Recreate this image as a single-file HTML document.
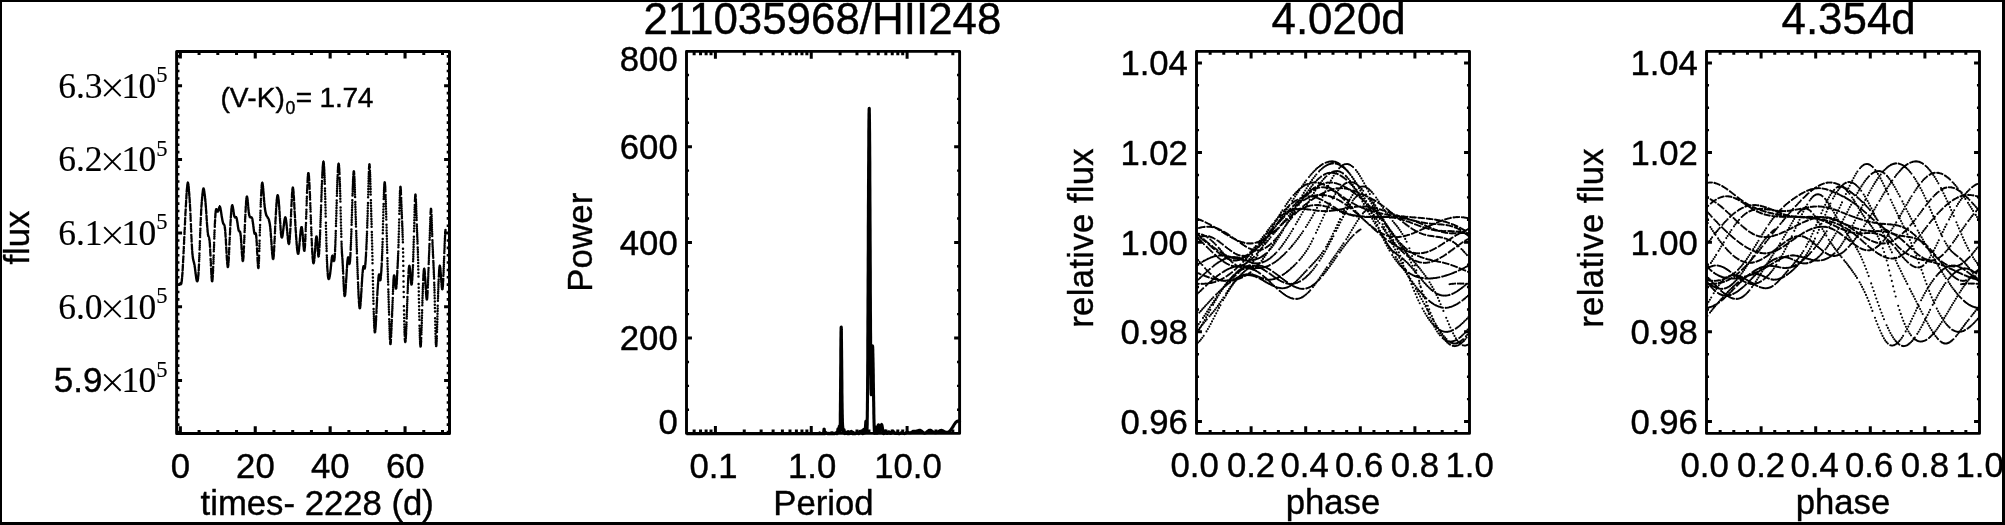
<!DOCTYPE html>
<html><head><meta charset="utf-8"><title>fig</title><style>html,body{margin:0;padding:0;background:#fff}text{stroke:#000;stroke-width:0.4px}.sf text{stroke-width:0.15px}svg{display:block;will-change:transform}</style></head><body>
<svg width="2005" height="525" viewBox="0 0 2005 525">
<rect x="0" y="0" width="2005" height="525" fill="#fff"/>
<rect x="0" y="0" width="2005" height="2" fill="#000"/>
<rect x="0" y="0" width="2" height="525" fill="#000"/>
<rect x="2002" y="0" width="3" height="525" fill="#000"/>
<rect x="0" y="522" width="2005" height="3" fill="#000"/>
<rect x="176.65" y="51.40" width="272.85" height="382.00" fill="none" stroke="#000" stroke-width="3.00" stroke-linejoin="round"/>
<path d="M180.35 51.40v7.20M180.35 433.40v-7.20M255.25 51.40v7.20M255.25 433.40v-7.20M330.15 51.40v7.20M330.15 433.40v-7.20M405.05 51.40v7.20M405.05 433.40v-7.20" stroke="#000" stroke-width="3.10" fill="none"/>
<path d="M199.07 51.40v3.50M199.07 433.40v-3.50M217.80 51.40v3.50M217.80 433.40v-3.50M236.53 51.40v3.50M236.53 433.40v-3.50M273.98 51.40v3.50M273.98 433.40v-3.50M292.70 51.40v3.50M292.70 433.40v-3.50M311.43 51.40v3.50M311.43 433.40v-3.50M348.88 51.40v3.50M348.88 433.40v-3.50M367.60 51.40v3.50M367.60 433.40v-3.50M386.32 51.40v3.50M386.32 433.40v-3.50M423.77 51.40v3.50M423.77 433.40v-3.50M442.50 51.40v3.50M442.50 433.40v-3.50" stroke="#000" stroke-width="3.00" fill="none"/>
<path d="M176.65 85.80h5.40M449.50 85.80h-5.40M176.65 159.45h5.40M449.50 159.45h-5.40M176.65 233.10h5.40M449.50 233.10h-5.40M176.65 306.75h5.40M449.50 306.75h-5.40M176.65 380.40h5.40M449.50 380.40h-5.40" stroke="#000" stroke-width="3.00" fill="none"/>
<path d="M176.65 56.34h2.80M449.50 56.34h-2.80M176.65 63.70h2.80M449.50 63.70h-2.80M176.65 71.07h2.80M449.50 71.07h-2.80M176.65 78.44h2.80M449.50 78.44h-2.80M176.65 93.16h2.80M449.50 93.16h-2.80M176.65 100.53h2.80M449.50 100.53h-2.80M176.65 107.89h2.80M449.50 107.89h-2.80M176.65 115.26h2.80M449.50 115.26h-2.80M176.65 122.62h2.80M449.50 122.62h-2.80M176.65 129.99h2.80M449.50 129.99h-2.80M176.65 137.36h2.80M449.50 137.36h-2.80M176.65 144.72h2.80M449.50 144.72h-2.80M176.65 152.08h2.80M449.50 152.08h-2.80M176.65 166.81h2.80M449.50 166.81h-2.80M176.65 174.18h2.80M449.50 174.18h-2.80M176.65 181.55h2.80M449.50 181.55h-2.80M176.65 188.91h2.80M449.50 188.91h-2.80M176.65 196.27h2.80M449.50 196.27h-2.80M176.65 203.64h2.80M449.50 203.64h-2.80M176.65 211.00h2.80M449.50 211.00h-2.80M176.65 218.37h2.80M449.50 218.37h-2.80M176.65 225.74h2.80M449.50 225.74h-2.80M176.65 240.47h2.80M449.50 240.47h-2.80M176.65 247.83h2.80M449.50 247.83h-2.80M176.65 255.19h2.80M449.50 255.19h-2.80M176.65 262.56h2.80M449.50 262.56h-2.80M176.65 269.93h2.80M449.50 269.93h-2.80M176.65 277.29h2.80M449.50 277.29h-2.80M176.65 284.66h2.80M449.50 284.66h-2.80M176.65 292.02h2.80M449.50 292.02h-2.80M176.65 299.39h2.80M449.50 299.39h-2.80M176.65 314.12h2.80M449.50 314.12h-2.80M176.65 321.48h2.80M449.50 321.48h-2.80M176.65 328.85h2.80M449.50 328.85h-2.80M176.65 336.21h2.80M449.50 336.21h-2.80M176.65 343.57h2.80M449.50 343.57h-2.80M176.65 350.94h2.80M449.50 350.94h-2.80M176.65 358.31h2.80M449.50 358.31h-2.80M176.65 365.67h2.80M449.50 365.67h-2.80M176.65 373.04h2.80M449.50 373.04h-2.80M176.65 387.77h2.80M449.50 387.77h-2.80M176.65 395.13h2.80M449.50 395.13h-2.80M176.65 402.50h2.80M449.50 402.50h-2.80M176.65 409.86h2.80M449.50 409.86h-2.80M176.65 417.23h2.80M449.50 417.23h-2.80M176.65 424.59h2.80M449.50 424.59h-2.80M176.65 431.96h2.80M449.50 431.96h-2.80" stroke="#000" stroke-width="2.60" fill="none"/>
<g class="sf" font-family='"Liberation Serif", serif' font-size="35.5"><text x="58.2" y="97.55">6.3</text><text x="121.4" y="97.55">1</text><text x="138.6" y="97.55">0</text><text x="156.2" y="82.15" font-size="22.5">5</text></g>
<path d="M104.2 79.75L120.6 96.15M104.2 96.15L120.6 79.75" stroke="#000" stroke-width="1.9" fill="none"/>
<g class="sf" font-family='"Liberation Serif", serif' font-size="35.5"><text x="58.2" y="171.20">6.2</text><text x="121.4" y="171.20">1</text><text x="138.6" y="171.20">0</text><text x="156.2" y="155.80" font-size="22.5">5</text></g>
<path d="M104.2 153.40L120.6 169.80M104.2 169.80L120.6 153.40" stroke="#000" stroke-width="1.9" fill="none"/>
<g class="sf" font-family='"Liberation Serif", serif' font-size="35.5"><text x="58.2" y="244.85">6.1</text><text x="121.4" y="244.85">1</text><text x="138.6" y="244.85">0</text><text x="156.2" y="229.45" font-size="22.5">5</text></g>
<path d="M104.2 227.05L120.6 243.45M104.2 243.45L120.6 227.05" stroke="#000" stroke-width="1.9" fill="none"/>
<g class="sf" font-family='"Liberation Serif", serif' font-size="35.5"><text x="58.2" y="318.50">6.0</text><text x="121.4" y="318.50">1</text><text x="138.6" y="318.50">0</text><text x="156.2" y="303.10" font-size="22.5">5</text></g>
<path d="M104.2 300.70L120.6 317.10M104.2 317.10L120.6 300.70" stroke="#000" stroke-width="1.9" fill="none"/>
<g class="sf" font-family='"Liberation Serif", serif' font-size="35.5"><text x="102.4" y="392.45" text-anchor="end" font-family='"Liberation Sans", sans-serif' font-size="35.0" style="stroke-width:0.4px">5.9</text><text x="121.4" y="392.15">1</text><text x="138.6" y="392.15">0</text><text x="156.2" y="376.75" font-size="22.5">5</text></g>
<path d="M104.2 374.35L120.6 390.75M104.2 390.75L120.6 374.35" stroke="#000" stroke-width="1.9" fill="none"/>
<text x="180.50" y="478.00" font-family='"Liberation Sans", sans-serif' font-size="34.70" text-anchor="middle" >0</text>
<text x="255.40" y="478.00" font-family='"Liberation Sans", sans-serif' font-size="34.70" text-anchor="middle" >20</text>
<text x="330.30" y="478.00" font-family='"Liberation Sans", sans-serif' font-size="34.70" text-anchor="middle" >40</text>
<text x="405.20" y="478.00" font-family='"Liberation Sans", sans-serif' font-size="34.70" text-anchor="middle" >60</text>
<text x="317.20" y="515.30" font-family='"Liberation Sans", sans-serif' font-size="34.70" text-anchor="middle" >times- 2228 (d)</text>
<text transform="translate(28.60 237.60) rotate(-90)" font-family='"Liberation Sans", sans-serif' font-size="34.70" text-anchor="middle" letter-spacing="0.00">flux</text>
<text x="220.4" y="106.8" font-family='"Liberation Sans", sans-serif' font-size="28.1" letter-spacing="0.12">(V-K)<tspan dy="7.3" dx="0.6" font-size="17.6">0</tspan><tspan dy="-7.3" dx="0.3" letter-spacing="-0.25">= 1.74</tspan></text>
<path d="M179.4 284.7h0M179.5 284.5h0M179.6 284.3h0M179.6 284.2h0M179.7 284.1h0M179.9 284.1h0M179.9 284.0h0M180.0 284.1h0M180.1 284.1h0M180.2 284.1h0M180.3 284.2h0M180.4 284.2h0M180.5 284.3h0M180.5 284.3h0M180.6 284.3h0M180.8 284.3h0M180.9 284.3h0M180.9 284.2h0M181.0 284.1h0M181.1 284.0h0M181.2 283.6h0M181.3 283.4h0M181.4 283.1h0M181.5 282.7h0M181.5 282.3h0M181.7 281.3h0M181.8 280.7h0M181.8 280.1h0M181.9 279.3h0M182.0 278.6h0M182.2 276.8h0M182.2 275.8h0M182.3 274.8h0M182.4 273.8h0M182.5 272.7h0M182.6 270.3h0M182.7 269.1h0M182.8 267.8h0M182.8 266.5h0M182.9 265.1h0M183.1 262.3h0M183.1 260.9h0M183.2 259.4h0M183.3 257.9h0M183.4 256.4h0M183.5 253.3h0M183.6 251.8h0M183.7 250.2h0M183.8 248.6h0M183.8 247.0h0M184.0 243.8h0M184.1 242.2h0M184.1 240.6h0M184.2 238.9h0M184.3 237.3h0M184.5 234.1h0M184.5 232.5h0M184.6 230.9h0M184.7 229.3h0M184.8 227.7h0M184.9 224.5h0M185.0 223.0h0M185.1 221.4h0M185.1 219.9h0M185.2 218.3h0M185.4 215.3h0M185.4 213.8h0M185.5 212.3h0M185.6 210.9h0M185.7 209.4h0M185.8 206.6h0M185.9 205.2h0M186.0 203.8h0M186.1 202.5h0M186.1 201.1h0M186.3 198.5h0M186.4 197.3h0M186.4 196.1h0M186.5 194.9h0M186.6 193.7h0M186.7 191.6h0M186.8 190.5h0M186.9 189.6h0M187.0 188.6h0M187.1 187.8h0M187.2 186.3h0M187.3 185.6h0M187.4 185.0h0M187.4 184.5h0M187.5 184.0h0M187.7 183.3h0M187.7 183.1h0M187.8 183.0h0M187.9 183.0h0M188.0 183.1h0M188.1 183.5h0M188.2 183.8h0M188.3 184.2h0M188.4 184.7h0M188.4 185.2h0M188.6 186.5h0M188.7 187.3h0M188.7 188.1h0M188.8 188.9h0M188.9 189.8h0M189.0 191.6h0M189.1 192.6h0M189.2 193.6h0M189.3 194.6h0M189.3 195.7h0M189.5 197.8h0M189.6 198.9h0M189.7 200.0h0M189.7 201.2h0M189.8 202.4h0M190.0 204.9h0M190.0 206.3h0M190.1 207.7h0M190.2 209.1h0M190.3 210.6h0M190.4 213.8h0M190.5 215.5h0M190.6 217.2h0M190.6 218.9h0M190.7 220.7h0M190.9 224.2h0M191.0 226.1h0M191.0 227.9h0M191.1 229.7h0M191.2 231.4h0M191.3 234.9h0M191.4 236.7h0M191.5 238.3h0M191.6 240.0h0M191.6 241.6h0M191.8 244.6h0M191.9 246.0h0M192.0 247.3h0M192.0 248.5h0M192.1 249.7h0M192.3 251.8h0M192.3 252.7h0M192.4 253.6h0M192.5 254.4h0M192.6 255.1h0M192.7 256.5h0M192.8 257.0h0M192.9 257.6h0M192.9 258.1h0M193.0 258.5h0M193.2 259.4h0M193.3 259.7h0M193.3 260.1h0M193.4 260.4h0M193.5 260.7h0M193.6 261.3h0M193.7 261.6h0M193.8 261.9h0M193.9 262.2h0M193.9 262.5h0M194.1 263.1h0M194.2 263.5h0M194.2 263.8h0M194.3 264.2h0M194.4 264.6h0M194.6 265.6h0M194.6 266.0h0M194.7 266.6h0M194.8 267.1h0M194.9 267.6h0M195.0 268.8h0M195.1 269.3h0M195.2 269.9h0M195.2 270.5h0M195.3 271.1h0M195.5 272.3h0M195.5 272.9h0M195.6 273.5h0M195.7 274.1h0M195.8 274.7h0M195.9 275.8h0M196.0 276.3h0M196.1 276.9h0M196.2 277.4h0M196.2 277.9h0M196.4 278.8h0M196.5 279.2h0M196.5 279.5h0M196.6 279.9h0M196.7 280.2h0M196.8 280.7h0M196.9 280.9h0M197.0 281.1h0M197.1 281.2h0M197.2 281.3h0M197.3 281.3h0M197.4 281.2h0M197.5 281.1h0M197.5 280.9h0M197.6 280.7h0M197.8 280.0h0M197.8 279.6h0M197.9 279.1h0M198.0 278.6h0M198.1 277.9h0M198.2 276.5h0M198.3 275.7h0M198.4 274.7h0M198.5 273.8h0M198.5 272.7h0M198.7 270.3h0M198.8 269.0h0M198.8 267.6h0M198.9 266.1h0M199.0 264.5h0M199.1 261.2h0M199.2 259.4h0M199.3 257.5h0M199.4 255.6h0M199.4 253.6h0M199.6 249.6h0M199.7 247.5h0M199.8 245.4h0M199.8 243.3h0M199.9 241.2h0M200.1 237.0h0M200.1 234.9h0M200.2 232.9h0M200.3 230.8h0M200.4 228.8h0M200.5 225.0h0M200.6 223.1h0M200.7 221.3h0M200.8 219.6h0M200.8 217.9h0M201.0 214.8h0M201.1 213.3h0M201.1 211.9h0M201.2 210.5h0M201.3 209.2h0M201.4 206.8h0M201.5 205.6h0M201.6 204.5h0M201.7 203.5h0M201.7 202.4h0M201.9 200.5h0M202.0 199.6h0M202.1 198.7h0M202.1 197.8h0M202.2 197.0h0M202.4 195.4h0M202.4 194.6h0M202.5 193.9h0M202.6 193.2h0M202.7 192.5h0M202.8 191.3h0M202.9 190.8h0M203.0 190.3h0M203.0 189.9h0M203.1 189.5h0M203.3 188.9h0M203.4 188.8h0M203.4 188.7h0M203.5 188.6h0M203.6 188.7h0M203.7 189.0h0M203.8 189.2h0M203.9 189.5h0M204.0 189.8h0M204.0 190.2h0M204.2 191.1h0M204.3 191.6h0M204.3 192.1h0M204.4 192.7h0M204.5 193.2h0M204.7 194.4h0M204.7 195.0h0M204.8 195.7h0M204.9 196.3h0M205.0 197.0h0M205.1 198.4h0M205.2 199.1h0M205.3 199.8h0M205.3 200.6h0M205.4 201.4h0M205.6 203.2h0M205.6 204.1h0M205.7 205.0h0M205.8 206.0h0M205.9 207.0h0M206.0 209.1h0M206.1 210.2h0M206.2 211.3h0M206.3 212.5h0M206.3 213.6h0M206.5 215.9h0M206.6 217.1h0M206.6 218.2h0M206.7 219.4h0M206.8 220.5h0M206.9 222.7h0M207.0 223.8h0M207.1 224.9h0M207.2 225.9h0M207.3 226.9h0M207.4 228.8h0M207.5 229.7h0M207.6 230.6h0M207.6 231.4h0M207.7 232.1h0M207.9 233.5h0M207.9 234.0h0M208.0 234.5h0M208.1 235.0h0M208.2 235.3h0M208.3 236.0h0M208.4 236.2h0M208.5 236.4h0M208.6 236.6h0M208.6 236.8h0M208.8 237.2h0M208.9 237.4h0M208.9 237.6h0M209.0 237.8h0M209.1 238.1h0M209.2 238.8h0M209.3 239.2h0M209.4 239.7h0M209.5 240.2h0M209.6 240.9h0M209.7 242.4h0M209.8 243.3h0M209.9 244.4h0M209.9 245.5h0M210.0 246.7h0M210.2 249.5h0M210.2 250.9h0M210.3 252.4h0M210.4 254.0h0M210.5 255.6h0M210.6 258.9h0M210.7 260.6h0M210.8 262.2h0M210.9 263.9h0M210.9 265.5h0M211.1 268.7h0M211.2 270.2h0M211.2 271.7h0M211.3 273.1h0M211.4 274.4h0M211.5 276.8h0M211.6 277.8h0M211.7 278.7h0M211.8 279.5h0M211.8 280.2h0M212.0 281.1h0M212.1 281.3h0M212.2 281.3h0M212.2 281.2h0M212.3 280.9h0M212.5 279.8h0M212.5 279.0h0M212.6 278.2h0M212.7 277.1h0M212.8 276.0h0M212.9 273.4h0M213.0 271.9h0M213.1 270.4h0M213.1 268.8h0M213.2 267.0h0M213.4 263.4h0M213.5 261.5h0M213.5 259.5h0M213.6 257.5h0M213.7 255.4h0M213.8 251.3h0M213.9 249.2h0M214.0 247.0h0M214.1 244.9h0M214.1 242.8h0M214.3 238.6h0M214.4 236.5h0M214.4 234.4h0M214.5 232.5h0M214.6 230.5h0M214.8 226.8h0M214.8 225.0h0M214.9 223.3h0M215.0 221.7h0M215.1 220.2h0M215.2 217.5h0M215.3 216.2h0M215.4 215.2h0M215.4 214.2h0M215.5 213.3h0M215.7 211.9h0M215.7 211.3h0M215.8 210.8h0M215.9 210.4h0M216.0 210.1h0M216.1 209.6h0M216.2 209.5h0M216.3 209.4h0M216.4 209.4h0M216.4 209.4h0M216.6 209.6h0M216.7 209.7h0M216.7 209.9h0M216.8 210.0h0M216.9 210.2h0M217.1 210.6h0M217.1 210.8h0M217.2 211.0h0M217.3 211.2h0M217.4 211.3h0M217.5 211.5h0M217.6 211.6h0M217.7 211.6h0M217.7 211.6h0M217.8 211.6h0M218.0 211.4h0M218.0 211.2h0M218.1 211.1h0M218.2 210.9h0M218.3 210.7h0M218.4 210.2h0M218.5 210.0h0M218.6 209.7h0M218.7 209.5h0M218.7 209.2h0M218.9 208.7h0M219.0 208.4h0M219.0 208.2h0M219.1 208.0h0M219.2 207.8h0M219.3 207.4h0M219.4 207.2h0M219.5 207.1h0M219.6 207.0h0M219.7 207.0h0M219.8 206.9h0M219.9 207.0h0M220.0 207.1h0M220.0 207.2h0M220.1 207.4h0M220.3 207.8h0M220.3 208.1h0M220.4 208.4h0M220.5 208.8h0M220.6 209.1h0M220.7 209.9h0M220.8 210.3h0M220.9 210.8h0M221.0 211.2h0M221.0 211.7h0M221.2 212.7h0M221.3 213.2h0M221.3 213.7h0M221.4 214.2h0M221.5 214.7h0M221.6 215.7h0M221.7 216.2h0M221.8 216.7h0M221.9 217.2h0M221.9 217.6h0M222.1 218.5h0M222.2 219.0h0M222.3 219.4h0M222.3 219.8h0M222.4 220.2h0M222.6 221.0h0M222.6 221.3h0M222.7 221.6h0M222.8 222.0h0M222.9 222.3h0M223.0 222.8h0M223.1 223.1h0M223.2 223.3h0M223.2 223.5h0M223.3 223.7h0M223.5 224.1h0M223.6 224.2h0M223.6 224.3h0M223.7 224.4h0M223.8 224.5h0M223.9 224.7h0M224.0 224.8h0M224.1 224.9h0M224.2 225.0h0M224.2 225.2h0M224.4 225.6h0M224.5 225.8h0M224.5 226.1h0M224.6 226.5h0M224.7 226.9h0M224.9 227.8h0M224.9 228.4h0M225.0 229.0h0M225.1 229.8h0M225.2 230.6h0M225.3 232.4h0M225.4 233.4h0M225.5 234.5h0M225.5 235.6h0M225.6 236.8h0M225.8 239.3h0M225.9 240.6h0M225.9 241.9h0M226.0 243.3h0M226.1 244.7h0M226.2 247.4h0M226.3 248.8h0M226.4 250.1h0M226.5 251.5h0M226.5 252.8h0M226.7 255.4h0M226.8 256.6h0M226.8 257.8h0M226.9 259.0h0M227.0 260.1h0M227.2 262.1h0M227.2 263.0h0M227.3 263.8h0M227.4 264.5h0M227.5 265.2h0M227.6 266.2h0M227.7 266.6h0M227.8 266.8h0M227.8 266.9h0M227.9 266.9h0M228.1 266.5h0M228.1 266.1h0M228.2 265.6h0M228.3 264.9h0M228.4 264.1h0M228.5 262.2h0M228.6 261.1h0M228.7 259.9h0M228.8 258.6h0M228.8 257.3h0M229.0 254.4h0M229.1 252.8h0M229.1 251.2h0M229.2 249.6h0M229.3 248.0h0M229.4 244.6h0M229.5 242.9h0M229.6 241.2h0M229.7 239.5h0M229.8 237.8h0M229.9 234.5h0M230.0 232.9h0M230.1 231.4h0M230.1 229.8h0M230.2 228.3h0M230.4 225.3h0M230.4 223.9h0M230.5 222.5h0M230.6 221.2h0M230.7 219.9h0M230.8 217.4h0M230.9 216.2h0M231.0 215.1h0M231.1 214.0h0M231.1 213.0h0M231.3 211.2h0M231.4 210.3h0M231.4 209.6h0M231.5 208.8h0M231.6 208.2h0M231.7 207.1h0M231.8 206.7h0M231.9 206.3h0M232.0 206.0h0M232.0 205.8h0M232.2 205.6h0M232.3 205.6h0M232.4 205.6h0M232.4 205.7h0M232.5 205.9h0M232.7 206.4h0M232.7 206.7h0M232.8 207.1h0M232.9 207.5h0M233.0 207.9h0M233.1 208.8h0M233.2 209.3h0M233.3 209.8h0M233.4 210.3h0M233.4 210.8h0M233.6 211.9h0M233.7 212.4h0M233.7 212.9h0M233.8 213.4h0M233.9 213.9h0M234.0 214.8h0M234.1 215.2h0M234.2 215.6h0M234.3 216.0h0M234.3 216.3h0M234.5 216.8h0M234.6 217.0h0M234.7 217.1h0M234.7 217.2h0M234.8 217.3h0M235.0 217.5h0M235.0 217.5h0M235.1 217.5h0M235.2 217.5h0M235.3 217.5h0M235.4 217.5h0M235.5 217.4h0M235.6 217.4h0M235.6 217.4h0M235.7 217.4h0M235.9 217.4h0M236.0 217.4h0M236.0 217.4h0M236.1 217.5h0M236.2 217.5h0M236.3 217.7h0M236.4 217.9h0M236.5 218.1h0M236.6 218.3h0M236.6 218.5h0M236.8 219.1h0M236.9 219.5h0M236.9 219.9h0M237.0 220.3h0M237.1 220.7h0M237.3 221.7h0M237.3 222.1h0M237.4 222.6h0M237.5 223.1h0M237.6 223.7h0M237.7 224.7h0M237.8 225.2h0M237.9 225.7h0M237.9 226.3h0M238.0 226.8h0M238.2 227.7h0M238.2 228.2h0M238.3 228.6h0M238.4 229.0h0M238.5 229.4h0M238.6 230.1h0M238.7 230.4h0M238.8 230.7h0M238.9 230.9h0M238.9 231.1h0M239.1 231.3h0M239.2 231.4h0M239.2 231.5h0M239.3 231.5h0M239.4 231.5h0M239.5 231.6h0M239.6 231.6h0M239.7 231.6h0M239.8 231.7h0M239.9 231.7h0M240.0 232.0h0M240.1 232.1h0M240.2 232.4h0M240.2 232.6h0M240.3 232.9h0M240.5 233.8h0M240.5 234.3h0M240.6 234.9h0M240.7 235.6h0M240.8 236.3h0M240.9 238.1h0M241.0 239.1h0M241.1 240.2h0M241.2 241.3h0M241.2 242.4h0M241.4 244.8h0M241.5 246.0h0M241.5 247.2h0M241.6 248.4h0M241.7 249.6h0M241.8 252.0h0M241.9 253.1h0M242.0 254.2h0M242.1 255.2h0M242.2 256.2h0M242.3 257.9h0M242.4 258.7h0M242.5 259.4h0M242.5 259.9h0M242.6 260.4h0M242.8 260.9h0M242.8 261.0h0M242.9 260.9h0M243.0 260.7h0M243.1 260.4h0M243.2 259.2h0M243.3 258.4h0M243.4 257.5h0M243.5 256.4h0M243.5 255.3h0M243.7 252.7h0M243.8 251.2h0M243.8 249.7h0M243.9 248.1h0M244.0 246.5h0M244.1 243.1h0M244.2 241.3h0M244.3 239.5h0M244.4 237.6h0M244.4 235.8h0M244.6 232.1h0M244.7 230.3h0M244.8 228.5h0M244.8 226.7h0M244.9 224.9h0M245.1 221.4h0M245.1 219.7h0M245.2 218.0h0M245.3 216.4h0M245.4 214.8h0M245.5 211.8h0M245.6 210.3h0M245.7 209.0h0M245.7 207.6h0M245.8 206.3h0M246.0 204.0h0M246.1 202.9h0M246.1 201.9h0M246.2 201.0h0M246.3 200.2h0M246.4 198.7h0M246.5 198.2h0M246.6 197.7h0M246.7 197.3h0M246.7 197.0h0M246.9 196.7h0M247.0 196.7h0M247.0 196.9h0M247.1 197.1h0M247.2 197.4h0M247.4 198.2h0M247.4 198.8h0M247.5 199.4h0M247.6 200.0h0M247.7 200.7h0M247.8 202.3h0M247.9 203.1h0M248.0 203.9h0M248.0 204.8h0M248.1 205.6h0M248.3 207.3h0M248.3 208.1h0M248.4 209.0h0M248.5 209.7h0M248.6 210.5h0M248.7 211.9h0M248.8 212.5h0M248.9 213.1h0M249.0 213.6h0M249.0 214.1h0M249.2 214.9h0M249.3 215.2h0M249.3 215.6h0M249.4 215.8h0M249.5 216.1h0M249.7 216.5h0M249.7 216.7h0M249.8 216.8h0M249.9 216.9h0M250.0 217.0h0M250.1 217.2h0M250.2 217.2h0M250.3 217.3h0M250.3 217.3h0M250.4 217.3h0M250.6 217.3h0M250.6 217.3h0M250.7 217.3h0M250.8 217.3h0M250.9 217.3h0M251.0 217.3h0M251.1 217.4h0M251.2 217.4h0M251.3 217.4h0M251.3 217.4h0M251.5 217.5h0M251.6 217.6h0M251.6 217.7h0M251.7 217.8h0M251.8 217.9h0M251.9 218.2h0M252.0 218.4h0M252.1 218.6h0M252.2 218.8h0M252.3 219.1h0M252.4 219.7h0M252.5 220.1h0M252.6 220.5h0M252.6 220.9h0M252.7 221.4h0M252.9 222.4h0M252.9 222.9h0M253.0 223.5h0M253.1 224.1h0M253.2 224.7h0M253.3 225.9h0M253.4 226.5h0M253.5 227.1h0M253.6 227.7h0M253.6 228.3h0M253.8 229.4h0M253.9 230.0h0M253.9 230.5h0M254.0 231.0h0M254.1 231.5h0M254.2 232.3h0M254.3 232.7h0M254.4 233.0h0M254.5 233.3h0M254.5 233.5h0M254.7 233.7h0M254.8 233.8h0M254.9 233.8h0M254.9 233.8h0M255.0 233.8h0M255.2 233.7h0M255.2 233.6h0M255.3 233.5h0M255.4 233.5h0M255.5 233.5h0M255.6 233.5h0M255.7 233.6h0M255.8 233.8h0M255.8 234.0h0M255.9 234.3h0M256.1 235.1h0M256.2 235.6h0M256.2 236.3h0M256.3 237.0h0M256.4 237.9h0M256.5 240.0h0M256.6 241.2h0M256.7 242.5h0M256.8 243.9h0M256.8 245.3h0M257.0 248.4h0M257.1 249.9h0M257.1 251.5h0M257.2 253.1h0M257.3 254.7h0M257.5 257.7h0M257.5 259.1h0M257.6 260.5h0M257.7 261.8h0M257.8 263.0h0M257.9 265.1h0M258.0 266.0h0M258.1 266.7h0M258.1 267.3h0M258.2 267.7h0M258.4 267.9h0M258.5 267.8h0M258.5 267.4h0M258.6 266.7h0M258.7 265.9h0M258.8 263.4h0M258.9 261.8h0M259.0 260.0h0M259.1 258.0h0M259.1 255.8h0M259.3 251.1h0M259.4 248.6h0M259.4 246.0h0M259.5 243.4h0M259.6 240.7h0M259.8 235.3h0M259.8 232.6h0M259.9 230.0h0M260.0 227.4h0M260.1 224.9h0M260.2 219.9h0M260.3 217.5h0M260.4 215.2h0M260.4 212.9h0M260.5 210.7h0M260.7 206.5h0M260.7 204.4h0M260.8 202.5h0M260.9 200.6h0M261.0 198.8h0M261.1 195.5h0M261.2 194.0h0M261.3 192.5h0M261.4 191.2h0M261.4 189.9h0M261.6 187.7h0M261.7 186.7h0M261.7 185.8h0M261.8 185.1h0M261.9 184.5h0M262.0 183.5h0M262.1 183.2h0M262.2 183.0h0M262.3 183.0h0M262.4 183.0h0M262.5 183.4h0M262.6 183.8h0M262.7 184.2h0M262.7 184.7h0M262.8 185.3h0M263.0 186.6h0M263.0 187.4h0M263.1 188.2h0M263.2 189.0h0M263.3 189.9h0M263.4 191.8h0M263.5 192.7h0M263.6 193.7h0M263.7 194.7h0M263.7 195.7h0M263.9 197.7h0M264.0 198.7h0M264.0 199.7h0M264.1 200.6h0M264.2 201.5h0M264.3 203.2h0M264.4 204.0h0M264.5 204.7h0M264.6 205.5h0M264.6 206.2h0M264.8 207.5h0M264.9 208.1h0M265.0 208.6h0M265.0 209.2h0M265.1 209.7h0M265.3 210.7h0M265.3 211.1h0M265.4 211.5h0M265.5 211.9h0M265.6 212.3h0M265.7 213.0h0M265.8 213.3h0M265.9 213.6h0M266.0 213.9h0M266.0 214.2h0M266.2 214.7h0M266.3 214.9h0M266.3 215.2h0M266.4 215.4h0M266.5 215.6h0M266.6 215.9h0M266.7 216.1h0M266.8 216.2h0M266.9 216.4h0M266.9 216.5h0M267.1 216.8h0M267.2 216.9h0M267.3 217.1h0M267.3 217.2h0M267.4 217.3h0M267.6 217.5h0M267.6 217.7h0M267.7 217.8h0M267.8 217.9h0M267.9 218.0h0M268.0 218.2h0M268.1 218.3h0M268.2 218.5h0M268.2 218.6h0M268.3 218.7h0M268.5 219.0h0M268.6 219.2h0M268.6 219.4h0M268.7 219.5h0M268.8 219.7h0M268.9 220.1h0M269.0 220.4h0M269.1 220.6h0M269.2 220.9h0M269.2 221.2h0M269.4 221.9h0M269.5 222.2h0M269.5 222.6h0M269.6 223.0h0M269.7 223.5h0M269.9 224.5h0M269.9 225.0h0M270.0 225.6h0M270.1 226.2h0M270.2 226.8h0M270.3 228.2h0M270.4 229.0h0M270.5 229.8h0M270.5 230.6h0M270.6 231.5h0M270.8 233.4h0M270.8 234.4h0M270.9 235.5h0M271.0 236.5h0M271.1 237.6h0M271.2 239.8h0M271.3 241.0h0M271.4 242.1h0M271.5 243.2h0M271.5 244.3h0M271.7 246.6h0M271.8 247.7h0M271.8 248.7h0M271.9 249.7h0M272.0 250.8h0M272.1 252.6h0M272.2 253.5h0M272.3 254.4h0M272.4 255.1h0M272.5 255.9h0M272.6 257.1h0M272.7 257.6h0M272.8 258.1h0M272.8 258.5h0M272.9 258.7h0M273.1 259.0h0M273.1 259.0h0M273.2 258.9h0M273.3 258.7h0M273.4 258.4h0M273.5 257.4h0M273.6 256.7h0M273.7 255.9h0M273.8 255.0h0M273.8 254.0h0M274.0 251.8h0M274.1 250.5h0M274.1 249.2h0M274.2 247.8h0M274.3 246.3h0M274.4 243.2h0M274.5 241.6h0M274.6 240.0h0M274.7 238.4h0M274.8 236.7h0M274.9 233.3h0M275.0 231.6h0M275.1 229.9h0M275.1 228.3h0M275.2 226.6h0M275.4 223.4h0M275.4 221.8h0M275.5 220.3h0M275.6 218.8h0M275.7 217.3h0M275.8 214.4h0M275.9 213.0h0M276.0 211.7h0M276.1 210.4h0M276.1 209.1h0M276.3 206.7h0M276.4 205.6h0M276.4 204.5h0M276.5 203.5h0M276.6 202.5h0M276.7 200.7h0M276.8 199.9h0M276.9 199.2h0M277.0 198.5h0M277.0 197.9h0M277.2 196.8h0M277.3 196.4h0M277.4 196.1h0M277.4 195.8h0M277.5 195.6h0M277.7 195.4h0M277.7 195.5h0M277.8 195.5h0M277.9 195.7h0M278.0 195.9h0M278.1 196.5h0M278.2 196.9h0M278.3 197.4h0M278.3 197.9h0M278.4 198.5h0M278.6 199.8h0M278.7 200.5h0M278.7 201.3h0M278.8 202.1h0M278.9 203.0h0M279.0 204.8h0M279.1 205.8h0M279.2 206.8h0M279.3 207.9h0M279.3 209.0h0M279.5 211.3h0M279.6 212.5h0M279.6 213.7h0M279.7 214.9h0M279.8 216.2h0M280.0 218.6h0M280.0 219.9h0M280.1 221.1h0M280.2 222.3h0M280.3 223.5h0M280.4 225.8h0M280.5 227.0h0M280.6 228.1h0M280.6 229.1h0M280.7 230.1h0M280.9 232.0h0M280.9 232.8h0M281.0 233.6h0M281.1 234.4h0M281.2 235.0h0M281.3 236.1h0M281.4 236.5h0M281.5 236.9h0M281.6 237.1h0M281.6 237.3h0M281.8 237.5h0M281.9 237.5h0M281.9 237.5h0M282.0 237.4h0M282.1 237.2h0M282.3 236.7h0M282.3 236.4h0M282.4 236.0h0M282.5 235.6h0M282.6 235.2h0M282.7 234.2h0M282.8 233.7h0M282.9 233.1h0M282.9 232.6h0M283.0 232.0h0M283.2 230.7h0M283.2 230.1h0M283.3 229.5h0M283.4 228.8h0M283.5 228.1h0M283.6 226.8h0M283.7 226.2h0M283.8 225.5h0M283.9 224.9h0M283.9 224.3h0M284.1 223.0h0M284.2 222.5h0M284.2 221.9h0M284.3 221.4h0M284.4 220.8h0M284.5 219.9h0M284.6 219.5h0M284.7 219.1h0M284.8 218.7h0M284.9 218.4h0M285.0 217.9h0M285.1 217.8h0M285.2 217.6h0M285.2 217.6h0M285.3 217.5h0M285.5 217.7h0M285.5 217.8h0M285.6 218.1h0M285.7 218.3h0M285.8 218.6h0M285.9 219.4h0M286.0 219.9h0M286.1 220.4h0M286.2 220.9h0M286.2 221.5h0M286.4 222.8h0M286.5 223.5h0M286.5 224.2h0M286.6 224.9h0M286.7 225.7h0M286.8 227.3h0M286.9 228.1h0M287.0 228.9h0M287.1 229.8h0M287.1 230.7h0M287.3 232.4h0M287.4 233.3h0M287.5 234.2h0M287.5 235.0h0M287.6 235.8h0M287.8 237.5h0M287.8 238.2h0M287.9 239.0h0M288.0 239.7h0M288.1 240.4h0M288.2 241.5h0M288.3 242.1h0M288.4 242.5h0M288.4 242.9h0M288.5 243.3h0M288.7 243.8h0M288.8 243.9h0M288.8 243.9h0M288.9 243.9h0M289.0 243.8h0M289.1 243.2h0M289.2 242.9h0M289.3 242.4h0M289.4 241.9h0M289.4 241.3h0M289.6 239.8h0M289.7 239.0h0M289.7 238.1h0M289.8 237.1h0M289.9 236.1h0M290.1 233.8h0M290.1 232.6h0M290.2 231.4h0M290.3 230.1h0M290.4 228.7h0M290.5 225.8h0M290.6 224.3h0M290.7 222.8h0M290.7 221.2h0M290.8 219.5h0M291.0 216.2h0M291.1 214.5h0M291.1 212.8h0M291.2 211.1h0M291.3 209.4h0M291.4 206.1h0M291.5 204.5h0M291.6 202.9h0M291.7 201.3h0M291.7 199.8h0M291.9 197.0h0M292.0 195.6h0M292.0 194.4h0M292.1 193.2h0M292.2 192.2h0M292.4 190.3h0M292.4 189.6h0M292.5 188.9h0M292.6 188.4h0M292.7 188.1h0M292.8 187.7h0M292.9 187.7h0M293.0 187.9h0M293.0 188.2h0M293.1 188.6h0M293.3 189.7h0M293.3 190.4h0M293.4 191.3h0M293.5 192.1h0M293.6 193.1h0M293.7 195.3h0M293.8 196.4h0M293.9 197.7h0M294.0 198.9h0M294.0 200.3h0M294.2 203.0h0M294.3 204.4h0M294.3 205.8h0M294.4 207.3h0M294.5 208.7h0M294.6 211.6h0M294.7 213.0h0M294.8 214.4h0M294.9 215.8h0M295.0 217.2h0M295.1 220.0h0M295.2 221.3h0M295.3 222.6h0M295.3 224.0h0M295.4 225.3h0M295.6 227.8h0M295.6 229.1h0M295.7 230.3h0M295.8 231.5h0M295.9 232.7h0M296.0 235.1h0M296.1 236.2h0M296.2 237.3h0M296.3 238.4h0M296.3 239.5h0M296.5 241.5h0M296.6 242.5h0M296.6 243.5h0M296.7 244.4h0M296.8 245.3h0M296.9 247.0h0M297.0 247.8h0M297.1 248.5h0M297.2 249.2h0M297.2 249.9h0M297.4 251.1h0M297.5 251.6h0M297.6 252.1h0M297.6 252.5h0M297.7 252.8h0M297.9 253.4h0M297.9 253.6h0M298.0 253.7h0M298.1 253.8h0M298.2 253.8h0M298.3 253.6h0M298.4 253.4h0M298.5 253.1h0M298.5 252.8h0M298.6 252.3h0M298.8 251.3h0M298.9 250.7h0M298.9 250.0h0M299.0 249.3h0M299.1 248.6h0M299.2 247.0h0M299.3 246.1h0M299.4 245.2h0M299.5 244.3h0M299.5 243.4h0M299.7 241.6h0M299.8 240.7h0M299.9 239.8h0M299.9 238.9h0M300.0 238.0h0M300.2 236.3h0M300.2 235.5h0M300.3 234.7h0M300.4 233.9h0M300.5 233.1h0M300.6 231.7h0M300.7 231.1h0M300.8 230.5h0M300.8 229.9h0M300.9 229.4h0M301.1 228.5h0M301.2 228.1h0M301.2 227.8h0M301.3 227.5h0M301.4 227.4h0M301.5 227.2h0M301.6 227.2h0M301.7 227.3h0M301.8 227.4h0M301.8 227.7h0M302.0 228.4h0M302.1 228.9h0M302.1 229.4h0M302.2 230.0h0M302.3 230.7h0M302.5 232.2h0M302.5 233.0h0M302.6 233.9h0M302.7 234.8h0M302.8 235.7h0M302.9 237.7h0M303.0 238.7h0M303.1 239.6h0M303.1 240.6h0M303.2 241.6h0M303.4 243.6h0M303.4 244.6h0M303.5 245.5h0M303.6 246.4h0M303.7 247.2h0M303.8 248.7h0M303.9 249.3h0M304.0 249.8h0M304.1 250.2h0M304.1 250.6h0M304.3 250.8h0M304.4 250.8h0M304.4 250.6h0M304.5 250.2h0M304.6 249.7h0M304.7 248.3h0M304.8 247.4h0M304.9 246.4h0M305.0 245.3h0M305.1 244.1h0M305.2 241.3h0M305.3 239.8h0M305.4 238.2h0M305.4 236.5h0M305.5 234.7h0M305.7 231.0h0M305.7 229.0h0M305.8 227.0h0M305.9 225.0h0M306.0 222.9h0M306.1 218.5h0M306.2 216.4h0M306.3 214.1h0M306.4 211.9h0M306.4 209.7h0M306.6 205.3h0M306.7 203.1h0M306.7 200.9h0M306.8 198.8h0M306.9 196.7h0M307.0 192.7h0M307.1 190.7h0M307.2 188.9h0M307.3 187.1h0M307.4 185.3h0M307.5 182.2h0M307.6 180.7h0M307.7 179.4h0M307.7 178.2h0M307.8 177.1h0M308.0 175.3h0M308.0 174.6h0M308.1 174.0h0M308.2 173.6h0M308.3 173.3h0M308.4 173.3h0M308.5 173.4h0M308.6 173.7h0M308.7 174.1h0M308.7 174.6h0M308.9 176.1h0M309.0 176.9h0M309.0 177.9h0M309.1 178.9h0M309.2 180.1h0M309.3 182.7h0M309.4 184.1h0M309.5 185.5h0M309.6 187.1h0M309.6 188.7h0M309.8 192.1h0M309.9 193.9h0M310.0 195.7h0M310.0 197.5h0M310.1 199.4h0M310.3 203.3h0M310.3 205.3h0M310.4 207.3h0M310.5 209.3h0M310.6 211.4h0M310.7 215.4h0M310.8 217.5h0M310.9 219.5h0M310.9 221.6h0M311.0 223.6h0M311.2 227.6h0M311.3 229.6h0M311.3 231.5h0M311.4 233.4h0M311.5 235.3h0M311.6 238.9h0M311.7 240.7h0M311.8 242.4h0M311.9 244.0h0M311.9 245.6h0M312.1 248.6h0M312.2 250.1h0M312.2 251.4h0M312.3 252.7h0M312.4 254.0h0M312.6 256.2h0M312.6 257.3h0M312.7 258.2h0M312.8 259.1h0M312.9 259.9h0M313.0 261.2h0M313.1 261.8h0M313.2 262.3h0M313.2 262.7h0M313.3 263.0h0M313.5 263.3h0M313.5 263.3h0M313.6 263.2h0M313.7 263.1h0M313.8 262.8h0M313.9 262.1h0M314.0 261.6h0M314.1 261.1h0M314.2 260.5h0M314.2 259.8h0M314.4 258.3h0M314.5 257.5h0M314.5 256.7h0M314.6 255.8h0M314.7 254.9h0M314.8 252.9h0M314.9 251.9h0M315.0 250.9h0M315.1 249.9h0M315.2 248.8h0M315.3 246.8h0M315.4 245.7h0M315.5 244.7h0M315.5 243.8h0M315.6 242.8h0M315.8 241.0h0M315.8 240.2h0M315.9 239.5h0M316.0 238.8h0M316.1 238.2h0M316.2 237.3h0M316.3 236.9h0M316.4 236.7h0M316.5 236.6h0M316.5 236.6h0M316.7 236.9h0M316.8 237.3h0M316.8 237.8h0M316.9 238.5h0M317.0 239.2h0M317.1 241.0h0M317.2 241.9h0M317.3 243.0h0M317.4 244.0h0M317.5 245.1h0M317.6 247.4h0M317.7 248.5h0M317.8 249.5h0M317.8 250.6h0M317.9 251.6h0M318.1 253.4h0M318.1 254.2h0M318.2 254.9h0M318.3 255.5h0M318.4 255.9h0M318.5 256.4h0M318.6 256.4h0M318.7 256.2h0M318.8 255.9h0M318.8 255.4h0M319.0 254.0h0M319.1 253.2h0M319.1 252.2h0M319.2 251.1h0M319.3 249.9h0M319.4 247.3h0M319.5 245.8h0M319.6 244.4h0M319.7 242.8h0M319.7 241.2h0M319.8 239.6h0M319.9 237.9h0M320.0 236.1h0M320.1 234.3h0M320.1 232.5h0M320.2 230.6h0M320.4 226.7h0M320.4 224.7h0M320.5 222.6h0M320.6 220.6h0M320.7 218.5h0M320.7 216.4h0M320.8 214.3h0M320.9 212.1h0M321.0 210.0h0M321.0 207.8h0M321.1 205.6h0M321.3 201.3h0M321.4 199.2h0M321.4 197.0h0M321.5 194.9h0M321.6 192.8h0M321.7 190.8h0M321.7 188.7h0M321.8 186.7h0M321.9 184.8h0M322.0 182.9h0M322.0 181.0h0M322.2 177.5h0M322.3 175.8h0M322.3 174.2h0M322.4 172.7h0M322.5 171.3h0M322.6 169.9h0M322.7 168.6h0M322.7 167.5h0M322.8 166.4h0M322.9 165.4h0M323.0 164.5h0M323.1 163.2h0M323.2 162.7h0M323.3 162.3h0M323.3 162.0h0M323.4 161.9h0M323.5 161.9h0M323.6 162.1h0M323.7 162.4h0M323.7 162.9h0M323.8 163.5h0M323.9 164.3h0M324.0 166.3h0M324.1 167.5h0M324.2 168.9h0M324.3 170.3h0M324.3 171.9h0M324.4 173.6h0M324.5 175.5h0M324.6 177.4h0M324.6 179.5h0M324.7 181.6h0M324.8 183.8h0M325.0 188.6h0M325.0 191.1h0M325.1 193.7h0M325.2 196.4h0M325.3 199.1h0M325.3 201.9h0M325.4 204.7h0M325.5 207.6h0M325.6 210.6h0M325.6 213.6h0M325.7 216.6h0M325.9 222.7h0M325.9 225.8h0M326.0 228.8h0M326.1 231.9h0M326.2 234.8h0M326.3 237.8h0M326.3 240.6h0M326.4 243.4h0M326.5 246.1h0M326.6 248.6h0M326.6 251.1h0M326.8 255.6h0M326.9 257.7h0M326.9 259.7h0M327.0 261.5h0M327.1 263.2h0M327.2 264.9h0M327.2 266.4h0M327.3 267.8h0M327.4 269.1h0M327.5 270.3h0M327.6 271.4h0M327.7 273.4h0M327.8 274.3h0M327.9 275.0h0M327.9 275.7h0M328.0 276.4h0M328.1 276.9h0M328.2 277.4h0M328.2 277.8h0M328.3 278.1h0M328.4 278.4h0M328.5 278.6h0M328.6 278.9h0M328.7 279.0h0M328.8 279.0h0M328.9 279.0h0M328.9 278.9h0M329.0 278.8h0M329.1 278.6h0M329.2 278.5h0M329.2 278.3h0M329.3 278.0h0M329.4 277.7h0M329.5 277.1h0M329.6 276.7h0M329.7 276.3h0M329.8 275.9h0M329.8 275.5h0M329.9 275.0h0M330.0 274.5h0M330.1 274.0h0M330.2 273.4h0M330.2 272.8h0M330.3 272.3h0M330.5 271.0h0M330.5 270.3h0M330.6 269.7h0M330.7 269.0h0M330.8 268.3h0M330.8 267.5h0M330.9 266.8h0M331.0 266.0h0M331.1 265.3h0M331.1 264.5h0M331.2 263.7h0M331.4 262.2h0M331.5 261.4h0M331.5 260.7h0M331.6 260.0h0M331.7 259.3h0M331.8 258.7h0M331.8 258.1h0M331.9 257.6h0M332.0 257.1h0M332.1 256.7h0M332.1 256.4h0M332.3 256.0h0M332.4 255.9h0M332.5 255.9h0M332.5 256.0h0M332.6 256.2h0M332.7 256.4h0M332.8 256.7h0M332.8 257.0h0M332.9 257.3h0M333.0 257.7h0M333.1 258.0h0M333.2 258.8h0M333.3 259.2h0M333.4 259.6h0M333.4 259.9h0M333.5 260.2h0M333.6 260.5h0M333.7 260.7h0M333.8 260.9h0M333.8 261.0h0M333.9 261.1h0M334.0 261.0h0M334.1 260.7h0M334.2 260.5h0M334.3 260.1h0M334.4 259.6h0M334.4 259.1h0M334.5 258.5h0M334.6 257.7h0M334.7 256.9h0M334.7 255.9h0M334.8 254.8h0M334.9 253.7h0M335.1 250.9h0M335.1 249.4h0M335.2 247.7h0M335.3 246.0h0M335.4 244.1h0M335.4 242.1h0M335.5 240.0h0M335.6 237.8h0M335.7 235.6h0M335.7 233.3h0M335.8 230.9h0M336.0 226.0h0M336.0 223.5h0M336.1 221.0h0M336.2 218.4h0M336.3 215.8h0M336.4 213.3h0M336.4 210.7h0M336.5 208.1h0M336.6 205.6h0M336.7 203.0h0M336.7 200.5h0M336.9 195.7h0M337.0 193.3h0M337.0 191.0h0M337.1 188.7h0M337.2 186.5h0M337.3 184.4h0M337.3 182.4h0M337.4 180.4h0M337.5 178.5h0M337.6 176.7h0M337.7 175.0h0M337.8 171.9h0M337.9 170.5h0M338.0 169.2h0M338.0 168.1h0M338.1 167.1h0M338.2 166.2h0M338.3 165.4h0M338.3 164.8h0M338.4 164.4h0M338.5 164.1h0M338.6 163.9h0M338.7 164.1h0M338.8 164.5h0M338.9 165.0h0M339.0 165.6h0M339.0 166.4h0M339.1 167.4h0M339.2 168.4h0M339.3 169.7h0M339.3 171.0h0M339.4 172.5h0M339.5 174.1h0M339.6 177.7h0M339.7 179.6h0M339.8 181.7h0M339.9 183.9h0M340.0 186.1h0M340.0 188.5h0M340.1 190.9h0M340.2 193.5h0M340.3 196.1h0M340.3 198.8h0M340.4 201.6h0M340.6 207.4h0M340.6 210.4h0M340.7 213.4h0M340.8 216.4h0M340.9 219.4h0M340.9 222.5h0M341.0 225.4h0M341.1 228.4h0M341.2 231.2h0M341.3 234.0h0M341.3 236.7h0M341.5 241.7h0M341.6 244.0h0M341.6 246.1h0M341.7 248.0h0M341.8 249.7h0M341.9 251.2h0M341.9 252.5h0M342.0 253.7h0M342.1 254.8h0M342.2 255.8h0M342.2 256.7h0M342.4 258.8h0M342.5 259.9h0M342.6 261.2h0M342.6 262.5h0M342.7 263.9h0M342.8 265.4h0M342.9 267.0h0M342.9 268.5h0M343.0 270.2h0M343.1 271.8h0M343.2 273.5h0M343.3 276.9h0M343.4 278.5h0M343.5 280.2h0M343.5 281.8h0M343.6 283.4h0M343.7 284.9h0M343.8 286.4h0M343.9 287.8h0M343.9 289.1h0M344.0 290.4h0M344.1 291.5h0M344.2 293.5h0M344.3 294.3h0M344.4 294.9h0M344.5 295.4h0M344.5 295.8h0M344.6 296.0h0M344.7 296.1h0M344.8 296.1h0M344.8 296.0h0M344.9 295.7h0M345.0 295.4h0M345.2 294.4h0M345.2 293.7h0M345.3 293.0h0M345.4 292.2h0M345.5 291.3h0M345.5 290.3h0M345.6 289.3h0M345.7 288.3h0M345.8 287.2h0M345.8 286.0h0M345.9 284.8h0M346.1 282.3h0M346.1 281.0h0M346.2 279.7h0M346.3 278.4h0M346.4 277.1h0M346.5 275.8h0M346.5 274.5h0M346.6 273.2h0M346.7 272.0h0M346.8 270.7h0M346.8 269.5h0M347.0 267.2h0M347.1 266.1h0M347.1 265.0h0M347.2 264.0h0M347.3 263.1h0M347.4 262.2h0M347.4 261.4h0M347.5 260.6h0M347.6 259.9h0M347.7 259.3h0M347.8 258.8h0M347.9 258.0h0M348.0 257.7h0M348.1 257.6h0M348.1 257.5h0M348.2 257.5h0M348.3 257.7h0M348.4 257.9h0M348.4 258.3h0M348.5 258.7h0M348.6 259.2h0M348.7 259.8h0M348.8 261.0h0M348.9 261.5h0M349.0 262.1h0M349.1 262.6h0M349.1 263.0h0M349.2 263.4h0M349.3 263.7h0M349.4 263.8h0M349.4 263.9h0M349.5 263.8h0M349.6 263.6h0M349.7 262.9h0M349.8 262.3h0M349.9 261.7h0M350.0 261.0h0M350.1 260.1h0M350.1 259.2h0M350.2 258.1h0M350.3 257.0h0M350.4 255.7h0M350.4 254.4h0M350.5 253.0h0M350.7 249.8h0M350.7 248.1h0M350.8 246.3h0M350.9 244.4h0M351.0 242.5h0M351.0 240.4h0M351.1 238.3h0M351.2 236.2h0M351.3 234.0h0M351.4 231.7h0M351.4 229.4h0M351.6 224.7h0M351.7 222.3h0M351.7 219.9h0M351.8 217.5h0M351.9 215.0h0M352.0 212.5h0M352.0 210.1h0M352.1 207.6h0M352.2 205.2h0M352.3 202.8h0M352.3 200.3h0M352.5 195.6h0M352.6 193.4h0M352.7 191.1h0M352.7 189.0h0M352.8 186.9h0M352.9 185.0h0M353.0 183.1h0M353.0 181.3h0M353.1 179.6h0M353.2 178.1h0M353.3 176.7h0M353.4 174.4h0M353.5 173.5h0M353.6 172.7h0M353.6 172.1h0M353.7 171.7h0M353.8 171.6h0M353.9 171.6h0M354.0 171.8h0M354.0 172.3h0M354.1 173.0h0M354.2 173.9h0M354.3 176.4h0M354.4 177.9h0M354.5 179.5h0M354.6 181.3h0M354.6 183.3h0M354.7 185.3h0M354.8 187.5h0M354.9 189.7h0M354.9 192.1h0M355.0 194.5h0M355.1 196.9h0M355.3 201.9h0M355.3 204.5h0M355.4 207.0h0M355.5 209.5h0M355.6 212.0h0M355.6 214.5h0M355.7 216.9h0M355.8 219.3h0M355.9 221.7h0M355.9 224.0h0M356.0 226.4h0M356.2 231.0h0M356.3 233.3h0M356.3 235.5h0M356.4 237.8h0M356.5 240.0h0M356.6 242.2h0M356.6 244.5h0M356.7 246.7h0M356.8 248.9h0M356.9 251.1h0M356.9 253.2h0M357.1 257.6h0M357.2 259.8h0M357.2 262.0h0M357.3 264.1h0M357.4 266.3h0M357.5 268.4h0M357.6 270.5h0M357.6 272.6h0M357.7 274.7h0M357.8 276.7h0M357.9 278.7h0M358.0 282.5h0M358.1 284.4h0M358.2 286.2h0M358.2 288.0h0M358.3 289.7h0M358.4 291.4h0M358.5 293.0h0M358.5 294.6h0M358.6 296.1h0M358.7 297.5h0M358.8 298.8h0M358.9 301.3h0M359.0 302.4h0M359.1 303.4h0M359.2 304.3h0M359.2 305.2h0M359.3 305.9h0M359.4 306.6h0M359.5 307.1h0M359.5 307.6h0M359.6 307.9h0M359.7 308.2h0M359.8 308.3h0M359.9 308.2h0M360.0 308.0h0M360.1 307.6h0M360.2 307.2h0M360.2 306.7h0M360.3 306.1h0M360.4 305.4h0M360.5 304.7h0M360.5 303.8h0M360.6 302.9h0M360.8 301.0h0M360.8 299.9h0M360.9 298.8h0M361.0 297.6h0M361.1 296.4h0M361.1 295.2h0M361.2 293.9h0M361.3 292.7h0M361.4 291.4h0M361.5 290.1h0M361.5 288.8h0M361.7 286.2h0M361.8 284.9h0M361.8 283.6h0M361.9 282.4h0M362.0 281.2h0M362.1 280.0h0M362.1 278.8h0M362.2 277.7h0M362.3 276.6h0M362.4 275.6h0M362.4 274.6h0M362.6 272.7h0M362.7 271.9h0M362.8 271.1h0M362.8 270.3h0M362.9 269.6h0M363.0 269.0h0M363.1 268.4h0M363.1 267.9h0M363.2 267.5h0M363.3 267.1h0M363.4 266.8h0M363.5 266.4h0M363.6 266.3h0M363.7 266.3h0M363.7 266.4h0M363.8 266.5h0M363.9 266.7h0M364.0 266.9h0M364.1 267.2h0M364.1 267.4h0M364.2 267.7h0M364.3 268.0h0M364.4 268.4h0M364.5 268.5h0M364.6 268.5h0M364.7 268.4h0M364.7 268.3h0M364.8 268.1h0M364.9 267.7h0M365.0 267.3h0M365.1 266.8h0M365.1 266.3h0M365.2 265.6h0M365.4 264.1h0M365.4 263.2h0M365.5 262.3h0M365.6 261.2h0M365.7 260.2h0M365.7 259.0h0M365.8 257.8h0M365.9 256.6h0M366.0 255.3h0M366.0 253.9h0M366.1 252.5h0M366.3 249.5h0M366.4 248.0h0M366.4 246.4h0M366.5 244.7h0M366.6 243.0h0M366.7 241.2h0M366.7 239.4h0M366.8 237.6h0M366.9 235.6h0M367.0 233.7h0M367.0 231.7h0M367.2 227.5h0M367.3 225.3h0M367.3 223.0h0M367.4 220.7h0M367.5 218.4h0M367.6 215.9h0M367.7 213.5h0M367.7 210.9h0M367.8 208.3h0M367.9 205.6h0M368.0 202.9h0M368.1 197.3h0M368.2 194.5h0M368.3 191.7h0M368.3 188.9h0M368.4 186.2h0M368.5 183.6h0M368.6 181.0h0M368.6 178.6h0M368.7 176.2h0M368.8 174.1h0M368.9 172.1h0M369.0 168.7h0M369.1 167.3h0M369.2 166.2h0M369.3 165.3h0M369.3 164.7h0M369.4 164.5h0M369.5 164.5h0M369.6 164.9h0M369.6 165.5h0M369.7 166.5h0M369.8 167.6h0M369.9 170.6h0M370.0 172.4h0M370.1 174.4h0M370.2 176.6h0M370.3 178.9h0M370.3 181.3h0M370.4 183.8h0M370.5 186.4h0M370.6 189.1h0M370.6 191.8h0M370.7 194.6h0M370.9 200.2h0M370.9 203.0h0M371.0 205.7h0M371.1 208.4h0M371.2 211.0h0M371.2 213.7h0M371.3 216.3h0M371.4 218.9h0M371.5 221.5h0M371.6 224.1h0M371.6 226.7h0M371.8 232.1h0M371.9 234.8h0M371.9 237.6h0M372.0 240.5h0M372.1 243.5h0M372.2 246.5h0M372.2 249.6h0M372.3 252.9h0M372.4 256.2h0M372.5 259.7h0M372.5 263.2h0M372.7 270.3h0M372.8 273.9h0M372.9 277.5h0M372.9 281.0h0M373.0 284.6h0M373.1 288.0h0M373.2 291.4h0M373.2 294.6h0M373.3 297.8h0M373.4 300.8h0M373.5 303.7h0M373.6 309.1h0M373.7 311.7h0M373.8 314.1h0M373.9 316.3h0M373.9 318.4h0M374.0 320.4h0M374.1 322.3h0M374.2 324.0h0M374.2 325.5h0M374.3 326.9h0M374.4 328.1h0M374.5 330.2h0M374.6 330.9h0M374.7 331.5h0M374.8 332.0h0M374.8 332.2h0M374.9 332.3h0M375.0 332.3h0M375.1 332.1h0M375.2 331.7h0M375.2 331.3h0M375.3 330.6h0M375.5 329.1h0M375.5 328.1h0M375.6 327.1h0M375.7 326.0h0M375.8 324.7h0M375.8 323.5h0M375.9 322.1h0M376.0 320.7h0M376.1 319.3h0M376.1 317.8h0M376.2 316.2h0M376.4 313.1h0M376.5 311.5h0M376.5 309.9h0M376.6 308.3h0M376.7 306.8h0M376.8 305.2h0M376.8 303.7h0M376.9 302.2h0M377.0 300.7h0M377.1 299.2h0M377.1 297.8h0M377.3 295.0h0M377.4 293.7h0M377.4 292.3h0M377.5 291.0h0M377.6 289.8h0M377.7 288.5h0M377.8 287.3h0M377.8 286.2h0M377.9 285.0h0M378.0 283.9h0M378.1 282.9h0M378.2 280.9h0M378.3 279.9h0M378.4 279.1h0M378.4 278.3h0M378.5 277.5h0M378.6 276.8h0M378.7 276.2h0M378.7 275.7h0M378.8 275.3h0M378.9 275.0h0M379.0 274.8h0M379.1 274.6h0M379.2 274.7h0M379.3 274.9h0M379.4 275.3h0M379.4 275.7h0M379.5 276.3h0M379.6 276.9h0M379.7 277.5h0M379.7 278.1h0M379.8 278.6h0M379.9 279.1h0M380.0 279.9h0M380.1 280.1h0M380.2 280.2h0M380.3 280.1h0M380.4 280.0h0M380.4 279.7h0M380.5 279.4h0M380.6 278.9h0M380.7 278.4h0M380.7 277.8h0M380.8 277.1h0M381.0 275.4h0M381.0 274.5h0M381.1 273.5h0M381.2 272.4h0M381.3 271.3h0M381.4 270.2h0M381.4 268.9h0M381.5 267.7h0M381.6 266.4h0M381.7 265.0h0M381.7 263.6h0M381.9 260.6h0M382.0 259.0h0M382.0 257.3h0M382.1 255.5h0M382.2 253.6h0M382.3 251.6h0M382.3 249.4h0M382.4 247.0h0M382.5 244.5h0M382.6 241.9h0M382.7 239.1h0M382.8 233.3h0M382.9 230.3h0M383.0 227.3h0M383.0 224.2h0M383.1 221.2h0M383.2 218.2h0M383.3 215.2h0M383.3 212.2h0M383.4 209.4h0M383.5 206.6h0M383.6 204.0h0M383.7 199.0h0M383.8 196.7h0M383.9 194.6h0M384.0 192.6h0M384.0 190.7h0M384.1 189.1h0M384.2 187.6h0M384.3 186.2h0M384.3 185.1h0M384.4 184.1h0M384.5 183.4h0M384.6 182.6h0M384.7 182.5h0M384.8 182.7h0M384.9 183.1h0M384.9 183.7h0M385.0 184.5h0M385.1 185.5h0M385.2 186.7h0M385.3 188.0h0M385.3 189.5h0M385.4 191.2h0M385.6 195.0h0M385.6 197.0h0M385.7 199.2h0M385.8 201.5h0M385.9 203.8h0M385.9 206.3h0M386.0 208.8h0M386.1 211.4h0M386.2 214.0h0M386.2 216.7h0M386.3 219.4h0M386.5 224.8h0M386.6 227.6h0M386.6 230.4h0M386.7 233.2h0M386.8 236.0h0M386.9 238.8h0M386.9 241.6h0M387.0 244.4h0M387.1 247.2h0M387.2 250.0h0M387.2 252.8h0M387.4 258.3h0M387.5 261.0h0M387.5 263.7h0M387.6 266.4h0M387.7 269.0h0M387.8 271.6h0M387.9 274.2h0M387.9 276.8h0M388.0 279.3h0M388.1 281.8h0M388.2 284.4h0M388.3 289.4h0M388.4 291.9h0M388.5 294.4h0M388.5 296.9h0M388.6 299.5h0M388.7 302.0h0M388.8 304.5h0M388.8 307.0h0M388.9 309.5h0M389.0 312.0h0M389.1 314.5h0M389.2 319.3h0M389.3 321.7h0M389.4 324.0h0M389.5 326.3h0M389.5 328.5h0M389.6 330.6h0M389.7 332.7h0M389.8 334.6h0M389.8 336.5h0M389.9 338.1h0M390.0 339.6h0M390.2 342.0h0M390.2 342.9h0M390.3 343.6h0M390.4 343.9h0M390.5 344.0h0M390.5 343.9h0M390.6 343.4h0M390.7 342.8h0M390.8 341.9h0M390.8 340.9h0M390.9 339.7h0M391.1 336.8h0M391.1 335.2h0M391.2 333.6h0M391.3 331.9h0M391.4 330.1h0M391.5 328.4h0M391.5 326.6h0M391.6 324.9h0M391.7 323.2h0M391.8 321.6h0M391.8 320.0h0M392.0 316.7h0M392.1 315.1h0M392.1 313.5h0M392.2 311.8h0M392.3 310.1h0M392.4 308.2h0M392.4 306.4h0M392.5 304.4h0M392.6 302.3h0M392.7 300.2h0M392.8 298.0h0M392.9 293.7h0M393.0 291.6h0M393.1 289.5h0M393.1 287.5h0M393.2 285.7h0M393.3 283.9h0M393.4 282.4h0M393.4 281.0h0M393.5 279.8h0M393.6 278.7h0M393.7 277.8h0M393.8 276.5h0M393.9 276.1h0M394.0 275.8h0M394.1 275.6h0M394.1 275.6h0M394.2 275.7h0M394.3 275.9h0M394.4 276.2h0M394.4 276.6h0M394.5 277.1h0M394.6 277.7h0M394.7 279.0h0M394.8 279.7h0M394.9 280.5h0M395.0 281.3h0M395.0 282.1h0M395.1 282.9h0M395.2 283.6h0M395.3 284.4h0M395.4 285.1h0M395.4 285.8h0M395.5 286.5h0M395.7 287.6h0M395.7 288.0h0M395.8 288.3h0M395.9 288.6h0M396.0 288.7h0M396.0 288.7h0M396.1 288.6h0M396.2 288.3h0M396.3 287.9h0M396.3 287.3h0M396.4 286.6h0M396.6 284.7h0M396.7 283.5h0M396.7 282.3h0M396.8 281.0h0M396.9 279.7h0M397.0 278.2h0M397.0 276.8h0M397.1 275.3h0M397.2 273.8h0M397.3 272.3h0M397.3 270.9h0M397.5 268.0h0M397.6 266.6h0M397.7 265.1h0M397.7 263.6h0M397.8 262.1h0M397.9 260.6h0M398.0 258.9h0M398.0 257.2h0M398.1 255.5h0M398.2 253.6h0M398.3 251.6h0M398.4 247.2h0M398.5 244.9h0M398.6 242.3h0M398.6 239.7h0M398.7 237.0h0M398.8 234.2h0M398.9 231.4h0M399.0 228.5h0M399.0 225.5h0M399.1 222.6h0M399.2 219.6h0M399.3 213.7h0M399.4 210.8h0M399.5 208.0h0M399.6 205.3h0M399.6 202.6h0M399.7 200.1h0M399.8 197.8h0M399.9 195.6h0M399.9 193.6h0M400.0 191.8h0M400.1 190.3h0M400.3 188.0h0M400.3 187.4h0M400.4 187.0h0M400.5 187.0h0M400.6 187.2h0M400.6 187.8h0M400.7 188.7h0M400.8 189.8h0M400.9 191.1h0M400.9 192.6h0M401.0 194.2h0M401.2 198.0h0M401.2 200.0h0M401.3 202.1h0M401.4 204.2h0M401.5 206.3h0M401.6 208.5h0M401.6 210.6h0M401.7 212.6h0M401.8 214.6h0M401.9 216.4h0M401.9 218.2h0M402.1 221.5h0M402.2 223.2h0M402.2 224.9h0M402.3 226.6h0M402.4 228.4h0M402.5 230.3h0M402.5 232.3h0M402.6 234.5h0M402.7 236.8h0M402.8 239.4h0M402.9 242.2h0M403.0 248.7h0M403.1 252.5h0M403.2 256.5h0M403.2 261.0h0M403.3 265.8h0M403.4 270.9h0M403.5 276.1h0M403.5 281.4h0M403.6 286.8h0M403.7 292.0h0M403.8 297.0h0M403.9 306.3h0M404.0 310.5h0M404.1 314.4h0M404.2 318.0h0M404.2 321.3h0M404.3 324.4h0M404.4 327.2h0M404.5 329.7h0M404.5 332.0h0M404.6 334.0h0M404.7 335.8h0M404.8 338.7h0M404.9 339.8h0M405.0 340.6h0M405.1 341.3h0M405.1 341.7h0M405.2 342.0h0M405.3 342.0h0M405.4 341.8h0M405.5 341.5h0M405.5 341.0h0M405.6 340.3h0M405.8 338.5h0M405.8 337.4h0M405.9 336.1h0M406.0 334.8h0M406.1 333.3h0M406.1 331.7h0M406.2 330.0h0M406.3 328.2h0M406.4 326.4h0M406.5 324.5h0M406.5 322.5h0M406.7 318.4h0M406.8 316.3h0M406.8 314.2h0M406.9 312.1h0M407.0 309.9h0M407.1 307.8h0M407.1 305.6h0M407.2 303.5h0M407.3 301.3h0M407.4 299.2h0M407.4 297.1h0M407.6 293.0h0M407.7 291.1h0M407.8 289.1h0M407.8 287.2h0M407.9 285.4h0M408.0 283.6h0M408.1 281.9h0M408.1 280.2h0M408.2 278.7h0M408.3 277.2h0M408.4 275.7h0M408.5 273.1h0M408.6 271.9h0M408.7 270.9h0M408.7 269.9h0M408.8 269.0h0M408.9 268.2h0M409.0 267.6h0M409.1 267.0h0M409.1 266.6h0M409.2 266.2h0M409.3 266.0h0M409.4 266.0h0M409.5 266.2h0M409.6 266.6h0M409.7 267.0h0M409.7 267.5h0M409.8 268.1h0M409.9 268.8h0M410.0 269.6h0M410.0 270.4h0M410.1 271.3h0M410.2 272.2h0M410.4 274.1h0M410.4 275.1h0M410.5 276.1h0M410.6 277.1h0M410.7 278.0h0M410.7 279.0h0M410.8 279.8h0M410.9 280.7h0M411.0 281.5h0M411.0 282.2h0M411.1 282.8h0M411.3 283.8h0M411.3 284.1h0M411.4 284.4h0M411.5 284.5h0M411.6 284.4h0M411.7 284.3h0M411.7 284.0h0M411.8 283.6h0M411.9 283.2h0M412.0 282.5h0M412.0 281.8h0M412.2 280.1h0M412.3 279.0h0M412.3 277.9h0M412.4 276.6h0M412.5 275.3h0M412.6 273.9h0M412.6 272.3h0M412.7 270.7h0M412.8 269.0h0M412.9 267.1h0M413.0 265.2h0M413.1 261.2h0M413.2 259.0h0M413.3 256.8h0M413.3 254.5h0M413.4 252.1h0M413.5 249.6h0M413.6 247.1h0M413.6 244.6h0M413.7 242.0h0M413.8 239.4h0M413.9 236.7h0M414.0 231.3h0M414.1 228.5h0M414.2 225.7h0M414.3 223.0h0M414.3 220.2h0M414.4 217.4h0M414.5 214.8h0M414.6 212.1h0M414.6 209.6h0M414.7 207.2h0M414.8 205.0h0M414.9 201.0h0M415.0 199.3h0M415.1 197.8h0M415.2 196.6h0M415.3 195.7h0M415.3 195.1h0M415.4 194.8h0M415.5 194.8h0M415.6 195.2h0M415.6 195.8h0M415.7 196.8h0M415.9 199.3h0M415.9 200.9h0M416.0 202.7h0M416.1 204.6h0M416.2 206.6h0M416.2 208.7h0M416.3 211.0h0M416.4 213.2h0M416.5 215.5h0M416.6 217.8h0M416.6 220.1h0M416.8 224.5h0M416.9 226.6h0M416.9 228.6h0M417.0 230.5h0M417.1 232.4h0M417.2 234.2h0M417.2 236.0h0M417.3 237.8h0M417.4 239.7h0M417.5 241.6h0M417.5 243.5h0M417.7 247.6h0M417.8 249.8h0M417.9 252.1h0M417.9 254.6h0M418.0 257.2h0M418.1 260.0h0M418.2 263.0h0M418.2 266.2h0M418.3 269.5h0M418.4 273.0h0M418.5 276.6h0M418.6 283.9h0M418.7 287.7h0M418.8 291.5h0M418.8 295.2h0M418.9 299.0h0M419.0 302.6h0M419.1 306.2h0M419.2 309.8h0M419.2 313.2h0M419.3 316.5h0M419.4 319.7h0M419.5 325.7h0M419.6 328.4h0M419.7 331.0h0M419.8 333.5h0M419.8 335.8h0M419.9 337.8h0M420.0 339.7h0M420.1 341.4h0M420.1 342.9h0M420.2 344.1h0M420.3 345.1h0M420.5 346.3h0M420.5 346.6h0M420.6 346.5h0M420.7 346.2h0M420.8 345.7h0M420.8 344.9h0M420.9 343.9h0M421.0 342.7h0M421.1 341.4h0M421.1 339.8h0M421.2 338.1h0M421.4 334.3h0M421.4 332.2h0M421.5 330.0h0M421.6 327.7h0M421.7 325.4h0M421.8 322.9h0M421.8 320.5h0M421.9 317.9h0M422.0 315.4h0M422.1 312.8h0M422.1 310.3h0M422.3 305.3h0M422.4 302.8h0M422.4 300.4h0M422.5 298.1h0M422.6 295.8h0M422.7 293.6h0M422.8 291.4h0M422.8 289.3h0M422.9 287.3h0M423.0 285.4h0M423.1 283.5h0M423.2 280.1h0M423.3 278.6h0M423.4 277.1h0M423.4 275.7h0M423.5 274.5h0M423.6 273.4h0M423.7 272.3h0M423.7 271.4h0M423.8 270.7h0M423.9 270.0h0M424.0 269.5h0M424.1 269.0h0M424.2 268.9h0M424.3 269.0h0M424.4 269.2h0M424.4 269.6h0M424.5 270.0h0M424.6 270.6h0M424.7 271.4h0M424.7 272.2h0M424.8 273.1h0M424.9 274.0h0M425.0 276.2h0M425.1 277.4h0M425.2 278.6h0M425.3 279.8h0M425.4 281.1h0M425.4 282.4h0M425.5 283.7h0M425.6 285.1h0M425.7 286.4h0M425.7 287.7h0M425.8 288.9h0M426.0 291.4h0M426.0 292.5h0M426.1 293.6h0M426.2 294.6h0M426.3 295.6h0M426.3 296.5h0M426.4 297.2h0M426.5 297.9h0M426.6 298.5h0M426.7 298.9h0M426.7 299.2h0M426.9 299.4h0M427.0 299.3h0M427.0 299.0h0M427.1 298.5h0M427.2 297.9h0M427.3 297.1h0M427.3 296.1h0M427.4 295.0h0M427.5 293.7h0M427.6 292.4h0M427.6 290.9h0M427.8 287.6h0M427.9 285.8h0M428.0 284.0h0M428.0 282.1h0M428.1 280.1h0M428.2 278.1h0M428.3 276.1h0M428.3 274.1h0M428.4 272.0h0M428.5 269.9h0M428.6 267.9h0M428.7 263.9h0M428.8 261.9h0M428.9 259.9h0M428.9 257.9h0M429.0 256.0h0M429.1 254.0h0M429.2 252.0h0M429.3 250.0h0M429.3 248.0h0M429.4 246.0h0M429.5 243.9h0M429.6 239.7h0M429.7 237.5h0M429.8 235.3h0M429.9 233.0h0M429.9 230.6h0M430.0 228.3h0M430.1 226.0h0M430.2 223.7h0M430.3 221.5h0M430.3 219.4h0M430.4 217.4h0M430.6 213.9h0M430.6 212.4h0M430.7 211.2h0M430.8 210.2h0M430.9 209.5h0M430.9 209.1h0M431.0 209.0h0M431.1 209.3h0M431.2 209.9h0M431.2 210.7h0M431.3 211.9h0M431.5 214.8h0M431.6 216.6h0M431.6 218.5h0M431.7 220.6h0M431.8 222.7h0M431.9 224.9h0M431.9 227.2h0M432.0 229.5h0M432.1 231.7h0M432.2 233.9h0M432.2 236.1h0M432.4 240.2h0M432.5 242.2h0M432.5 244.1h0M432.6 245.9h0M432.7 247.7h0M432.8 249.4h0M432.9 251.2h0M432.9 252.8h0M433.0 254.5h0M433.1 256.1h0M433.2 257.7h0M433.3 260.9h0M433.4 262.5h0M433.5 264.1h0M433.5 265.8h0M433.6 267.4h0M433.7 269.1h0M433.8 270.9h0M433.8 272.7h0M433.9 274.5h0M434.0 276.4h0M434.1 278.4h0M434.2 282.7h0M434.3 285.0h0M434.4 287.4h0M434.5 289.9h0M434.5 292.6h0M434.6 295.4h0M434.7 298.3h0M434.8 301.4h0M434.8 304.7h0M434.9 308.0h0M435.0 311.4h0M435.1 318.2h0M435.2 321.5h0M435.3 324.8h0M435.4 328.0h0M435.5 331.0h0M435.5 333.8h0M435.6 336.4h0M435.7 338.8h0M435.8 340.9h0M435.8 342.6h0M435.9 344.0h0M436.1 345.7h0M436.1 346.0h0M436.2 346.0h0M436.3 345.6h0M436.4 345.0h0M436.4 344.1h0M436.5 343.0h0M436.6 341.6h0M436.7 340.0h0M436.8 338.2h0M436.8 336.3h0M437.0 331.9h0M437.1 329.5h0M437.1 327.1h0M437.2 324.5h0M437.3 321.9h0M437.4 319.2h0M437.4 316.5h0M437.5 313.8h0M437.6 311.1h0M437.7 308.4h0M437.7 305.8h0M437.9 300.7h0M438.0 298.3h0M438.1 295.9h0M438.1 293.6h0M438.2 291.4h0M438.3 289.2h0M438.4 287.1h0M438.4 285.1h0M438.5 283.2h0M438.6 281.4h0M438.7 279.6h0M438.8 276.4h0M438.9 274.9h0M439.0 273.6h0M439.1 272.3h0M439.1 271.2h0M439.2 270.1h0M439.3 269.2h0M439.4 268.3h0M439.4 267.6h0M439.5 267.1h0M439.6 266.6h0M439.7 266.1h0M439.8 266.0h0M439.9 266.1h0M440.0 266.2h0M440.0 266.5h0M440.1 267.0h0M440.2 267.5h0M440.3 268.1h0M440.4 268.8h0M440.4 269.5h0M440.5 270.4h0M440.7 272.2h0M440.7 273.2h0M440.8 274.2h0M440.9 275.2h0M441.0 276.3h0M441.0 277.4h0M441.1 278.5h0M441.2 279.5h0M441.3 280.6h0M441.3 281.6h0M441.4 282.6h0M441.6 284.5h0M441.7 285.4h0M441.7 286.2h0M441.8 286.9h0M441.9 287.6h0M442.0 288.1h0M442.0 288.6h0M442.1 289.0h0M442.2 289.2h0M442.3 289.3h0M442.3 289.3h0M442.5 288.9h0M442.6 288.5h0M442.6 287.9h0M442.7 287.2h0M442.8 286.4h0M442.9 285.4h0M443.0 284.3h0M443.0 283.1h0M443.1 281.8h0M443.2 280.4h0M443.3 278.9h0M443.4 275.7h0M443.5 274.0h0M443.6 272.2h0M443.6 270.4h0M443.7 268.5h0M443.8 266.6h0M443.9 264.7h0M443.9 262.7h0M444.0 260.8h0M444.1 258.8h0M444.2 256.8h0M444.3 252.9h0M444.4 250.9h0M444.5 249.0h0M444.6 247.1h0M444.6 245.3h0M444.7 243.5h0M444.8 241.8h0M444.9 240.1h0M444.9 238.5h0M445.0 237.0h0M445.1 235.6h0M445.2 233.0h0M445.3 231.9h0M445.4 230.9h0M445.5 230.0h0" stroke="#000" stroke-width="2.50" stroke-linecap="round" fill="none"/>
<rect x="686.50" y="51.40" width="273.10" height="382.00" fill="none" stroke="#000" stroke-width="2.90" stroke-linejoin="round"/>
<path d="M715.40 51.40v7.45M715.40 433.40v-7.45M811.25 51.40v7.45M811.25 433.40v-7.45M907.10 51.40v7.45M907.10 433.40v-7.45" stroke="#000" stroke-width="3.00" fill="none"/>
<path d="M694.14 51.40v3.85M694.14 433.40v-3.85M700.55 51.40v3.85M700.55 433.40v-3.85M706.11 51.40v3.85M706.11 433.40v-3.85M711.01 51.40v3.85M711.01 433.40v-3.85M744.25 51.40v3.85M744.25 433.40v-3.85M761.13 51.40v3.85M761.13 433.40v-3.85M773.11 51.40v3.85M773.11 433.40v-3.85M782.40 51.40v3.85M782.40 433.40v-3.85M789.99 51.40v3.85M789.99 433.40v-3.85M796.40 51.40v3.85M796.40 433.40v-3.85M801.96 51.40v3.85M801.96 433.40v-3.85M806.86 51.40v3.85M806.86 433.40v-3.85M840.10 51.40v3.85M840.10 433.40v-3.85M856.98 51.40v3.85M856.98 433.40v-3.85M868.96 51.40v3.85M868.96 433.40v-3.85M878.25 51.40v3.85M878.25 433.40v-3.85M885.84 51.40v3.85M885.84 433.40v-3.85M892.25 51.40v3.85M892.25 433.40v-3.85M897.81 51.40v3.85M897.81 433.40v-3.85M902.71 51.40v3.85M902.71 433.40v-3.85M935.95 51.40v3.85M935.95 433.40v-3.85M952.83 51.40v3.85M952.83 433.40v-3.85" stroke="#000" stroke-width="3.00" fill="none"/>
<path d="M686.50 338.04h5.45M959.60 338.04h-5.45M686.50 242.38h5.45M959.60 242.38h-5.45M686.50 146.72h5.45M959.60 146.72h-5.45" stroke="#000" stroke-width="3.00" fill="none"/>
<path d="M686.50 409.78h2.55M959.60 409.78h-2.55M686.50 385.87h2.55M959.60 385.87h-2.55M686.50 361.95h2.55M959.60 361.95h-2.55M686.50 314.12h2.55M959.60 314.12h-2.55M686.50 290.21h2.55M959.60 290.21h-2.55M686.50 266.29h2.55M959.60 266.29h-2.55M686.50 218.46h2.55M959.60 218.46h-2.55M686.50 194.55h2.55M959.60 194.55h-2.55M686.50 170.63h2.55M959.60 170.63h-2.55M686.50 122.81h2.55M959.60 122.81h-2.55M686.50 98.89h2.55M959.60 98.89h-2.55M686.50 74.97h2.55M959.60 74.97h-2.55" stroke="#000" stroke-width="2.40" fill="none"/>
<text x="677.70" y="71.40" font-family='"Liberation Sans", sans-serif' font-size="34.70" text-anchor="end" >800</text>
<text x="677.70" y="159.00" font-family='"Liberation Sans", sans-serif' font-size="34.70" text-anchor="end" >600</text>
<text x="677.70" y="254.50" font-family='"Liberation Sans", sans-serif' font-size="34.70" text-anchor="end" >400</text>
<text x="677.70" y="350.00" font-family='"Liberation Sans", sans-serif' font-size="34.70" text-anchor="end" >200</text>
<text x="677.70" y="434.10" font-family='"Liberation Sans", sans-serif' font-size="34.70" text-anchor="end" >0</text>
<text x="713.50" y="477.60" font-family='"Liberation Sans", sans-serif' font-size="34.70" text-anchor="middle" >0.1</text>
<text x="812.10" y="477.60" font-family='"Liberation Sans", sans-serif' font-size="34.70" text-anchor="middle" >1.0</text>
<text x="908.00" y="477.60" font-family='"Liberation Sans", sans-serif' font-size="34.70" text-anchor="middle" >10.0</text>
<text x="823.40" y="514.80" font-family='"Liberation Sans", sans-serif' font-size="34.70" text-anchor="middle" >Period</text>
<text transform="translate(592.30 242.20) rotate(-90)" font-family='"Liberation Sans", sans-serif' font-size="34.70" text-anchor="middle" letter-spacing="0.15">Power</text>
<text x="822.40" y="34.10" font-family='"Liberation Sans", sans-serif' font-size="43.90" text-anchor="middle" >211035968/HII248</text>
<path d="M686.5 433.7 L686.6 433.7 L686.6 433.7 L686.7 433.7 L686.7 433.7 L686.8 433.7 L686.8 433.7 L686.9 433.7 L686.9 433.7 L687.0 433.7 L687.0 433.7 L687.0 433.7 L687.1 433.7 L687.1 433.7 L687.2 433.7 L687.2 433.7 L687.3 433.7 L687.3 433.7 L687.4 433.7 L687.4 433.7 L687.5 433.7 L687.5 433.7 L687.5 433.7 L687.6 433.7 L687.6 433.7 L687.7 433.7 L687.7 433.7 L687.8 433.7 L687.8 433.7 L687.9 433.7 L687.9 433.7 L688.0 433.7 L688.0 433.7 L688.0 433.7 L688.1 433.7 L688.1 433.7 L688.2 433.7 L688.2 433.7 L688.3 433.7 L688.3 433.7 L688.4 433.7 L688.4 433.7 L688.5 433.7 L688.5 433.7 L688.5 433.7 L688.6 433.7 L688.6 433.7 L688.7 433.7 L688.7 433.7 L688.8 433.7 L688.8 433.7 L688.9 433.7 L688.9 433.7 L689.0 433.7 L689.0 433.7 L689.0 433.7 L689.1 433.7 L689.1 433.7 L689.2 433.7 L689.2 433.7 L689.3 433.7 L689.3 433.7 L689.4 433.7 L689.4 433.7 L689.5 433.7 L689.5 433.7 L689.6 433.7 L689.6 433.7 L689.6 433.7 L689.7 433.7 L689.7 433.7 L689.8 433.7 L689.8 433.7 L689.9 433.7 L689.9 433.7 L690.0 433.7 L690.0 433.7 L690.1 433.7 L690.1 433.7 L690.1 433.7 L690.2 433.7 L690.2 433.7 L690.3 433.7 L690.3 433.7 L690.4 433.7 L690.4 433.7 L690.5 433.7 L690.5 433.7 L690.6 433.7 L690.6 433.7 L690.6 433.7 L690.7 433.7 L690.7 433.7 L690.8 433.7 L690.8 433.7 L690.9 433.7 L690.9 433.7 L691.0 433.7 L691.0 433.7 L691.1 433.7 L691.1 433.7 L691.1 433.7 L691.2 433.7 L691.2 433.7 L691.3 433.7 L691.3 433.7 L691.4 433.7 L691.4 433.7 L691.5 433.7 L691.5 433.7 L691.6 433.7 L691.6 433.7 L691.6 433.7 L691.7 433.7 L691.7 433.7 L691.8 433.7 L691.8 433.7 L691.9 433.7 L691.9 433.7 L692.0 433.7 L692.0 433.7 L692.1 433.7 L692.1 433.7 L692.1 433.7 L692.2 433.7 L692.2 433.7 L692.3 433.7 L692.3 433.7 L692.4 433.7 L692.4 433.7 L692.5 433.7 L692.5 433.7 L692.6 433.7 L692.6 433.7 L692.6 433.7 L692.7 433.7 L692.7 433.7 L692.8 433.7 L692.8 433.7 L692.9 433.7 L692.9 433.7 L693.0 433.7 L693.0 433.7 L693.1 433.7 L693.1 433.7 L693.1 433.7 L693.2 433.7 L693.2 433.7 L693.3 433.7 L693.3 433.7 L693.4 433.7 L693.4 433.7 L693.5 433.7 L693.5 433.7 L693.6 433.7 L693.6 433.7 L693.6 433.7 L693.7 433.7 L693.7 433.7 L693.8 433.7 L693.8 433.7 L693.9 433.7 L693.9 433.7 L694.0 433.7 L694.0 433.7 L694.1 433.7 L694.1 433.7 L694.1 433.7 L694.2 433.7 L694.2 433.7 L694.3 433.7 L694.3 433.7 L694.4 433.7 L694.4 433.7 L694.5 433.7 L694.5 433.7 L694.6 433.7 L694.6 433.7 L694.6 433.7 L694.7 433.7 L694.7 433.7 L694.8 433.7 L694.8 433.7 L694.9 433.7 L694.9 433.7 L695.0 433.7 L695.0 433.7 L695.1 433.7 L695.1 433.7 L695.1 433.7 L695.2 433.7 L695.2 433.7 L695.3 433.7 L695.3 433.7 L695.4 433.7 L695.4 433.7 L695.5 433.7 L695.5 433.7 L695.6 433.7 L695.6 433.7 L695.6 433.7 L695.7 433.7 L695.7 433.7 L695.8 433.7 L695.8 433.7 L695.9 433.7 L695.9 433.7 L696.0 433.7 L696.0 433.7 L696.1 433.7 L696.1 433.7 L696.2 433.7 L696.2 433.7 L696.2 433.7 L696.3 433.7 L696.3 433.7 L696.4 433.7 L696.4 433.7 L696.5 433.7 L696.5 433.7 L696.6 433.7 L696.6 433.7 L696.7 433.7 L696.7 433.7 L696.7 433.7 L696.8 433.7 L696.8 433.7 L696.9 433.7 L696.9 433.7 L697.0 433.7 L697.0 433.7 L697.1 433.7 L697.1 433.7 L697.2 433.7 L697.2 433.7 L697.2 433.7 L697.3 433.7 L697.3 433.7 L697.4 433.7 L697.4 433.7 L697.5 433.7 L697.5 433.7 L697.6 433.7 L697.6 433.7 L697.7 433.7 L697.7 433.7 L697.7 433.7 L697.8 433.7 L697.8 433.7 L697.9 433.7 L697.9 433.7 L698.0 433.7 L698.0 433.7 L698.1 433.7 L698.1 433.7 L698.2 433.7 L698.2 433.7 L698.2 433.7 L698.3 433.7 L698.3 433.7 L698.4 433.7 L698.4 433.7 L698.5 433.7 L698.5 433.7 L698.6 433.7 L698.6 433.7 L698.7 433.7 L698.7 433.7 L698.7 433.7 L698.8 433.7 L698.8 433.7 L698.9 433.7 L698.9 433.7 L699.0 433.7 L699.0 433.7 L699.1 433.7 L699.1 433.7 L699.2 433.7 L699.2 433.7 L699.2 433.7 L699.3 433.7 L699.3 433.7 L699.4 433.7 L699.4 433.7 L699.5 433.7 L699.5 433.7 L699.6 433.7 L699.6 433.7 L699.7 433.7 L699.7 433.7 L699.7 433.7 L699.8 433.7 L699.8 433.7 L699.9 433.7 L699.9 433.7 L700.0 433.7 L700.0 433.7 L700.1 433.7 L700.1 433.7 L700.2 433.7 L700.2 433.7 L700.2 433.7 L700.3 433.7 L700.3 433.7 L700.4 433.7 L700.4 433.7 L700.5 433.7 L700.5 433.7 L700.6 433.7 L700.6 433.7 L700.7 433.7 L700.7 433.7 L700.7 433.7 L700.8 433.7 L700.8 433.7 L700.9 433.7 L700.9 433.7 L701.0 433.7 L701.0 433.7 L701.1 433.7 L701.1 433.7 L701.2 433.7 L701.2 433.7 L701.2 433.7 L701.3 433.7 L701.3 433.7 L701.4 433.7 L701.4 433.7 L701.5 433.7 L701.5 433.7 L701.6 433.7 L701.6 433.7 L701.7 433.7 L701.7 433.7 L701.7 433.7 L701.8 433.7 L701.8 433.7 L701.9 433.7 L701.9 433.7 L702.0 433.7 L702.0 433.7 L702.1 433.7 L702.1 433.7 L702.2 433.7 L702.2 433.7 L702.2 433.7 L702.3 433.7 L702.3 433.7 L702.4 433.7 L702.4 433.7 L702.5 433.7 L702.5 433.7 L702.6 433.7 L702.6 433.7 L702.7 433.7 L702.7 433.7 L702.8 433.7 L702.8 433.7 L702.8 433.7 L702.9 433.7 L702.9 433.7 L703.0 433.7 L703.0 433.7 L703.1 433.7 L703.1 433.7 L703.2 433.7 L703.2 433.7 L703.3 433.7 L703.3 433.7 L703.3 433.7 L703.4 433.7 L703.4 433.7 L703.5 433.7 L703.5 433.7 L703.6 433.7 L703.6 433.7 L703.7 433.7 L703.7 433.7 L703.8 433.7 L703.8 433.7 L703.8 433.7 L703.9 433.7 L703.9 433.7 L704.0 433.7 L704.0 433.7 L704.1 433.7 L704.1 433.7 L704.2 433.7 L704.2 433.7 L704.3 433.7 L704.3 433.7 L704.3 433.7 L704.4 433.7 L704.4 433.7 L704.5 433.7 L704.5 433.7 L704.6 433.7 L704.6 433.7 L704.7 433.7 L704.7 433.7 L704.8 433.7 L704.8 433.7 L704.8 433.7 L704.9 433.7 L704.9 433.7 L705.0 433.7 L705.0 433.7 L705.1 433.7 L705.1 433.7 L705.2 433.7 L705.2 433.7 L705.3 433.7 L705.3 433.7 L705.3 433.7 L705.4 433.7 L705.4 433.7 L705.5 433.7 L705.5 433.7 L705.6 433.7 L705.6 433.7 L705.7 433.7 L705.7 433.7 L705.8 433.7 L705.8 433.7 L705.8 433.7 L705.9 433.7 L705.9 433.7 L706.0 433.7 L706.0 433.7 L706.1 433.7 L706.1 433.7 L706.2 433.7 L706.2 433.7 L706.3 433.7 L706.3 433.7 L706.3 433.7 L706.4 433.7 L706.4 433.7 L706.5 433.7 L706.5 433.7 L706.6 433.7 L706.6 433.7 L706.7 433.7 L706.7 433.7 L706.8 433.7 L706.8 433.7 L706.8 433.7 L706.9 433.7 L706.9 433.7 L707.0 433.7 L707.0 433.7 L707.1 433.7 L707.1 433.7 L707.2 433.7 L707.2 433.7 L707.3 433.7 L707.3 433.7 L707.3 433.7 L707.4 433.7 L707.4 433.7 L707.5 433.7 L707.5 433.7 L707.6 433.7 L707.6 433.7 L707.7 433.7 L707.7 433.7 L707.8 433.7 L707.8 433.7 L707.8 433.7 L707.9 433.7 L707.9 433.7 L708.0 433.7 L708.0 433.7 L708.1 433.7 L708.1 433.7 L708.2 433.7 L708.2 433.7 L708.3 433.7 L708.3 433.7 L708.3 433.7 L708.4 433.7 L708.4 433.7 L708.5 433.7 L708.5 433.7 L708.6 433.7 L708.6 433.7 L708.7 433.7 L708.7 433.7 L708.8 433.7 L708.8 433.7 L708.8 433.7 L708.9 433.7 L708.9 433.7 L709.0 433.7 L709.0 433.7 L709.1 433.7 L709.1 433.7 L709.2 433.7 L709.2 433.7 L709.3 433.7 L709.3 433.7 L709.4 433.7 L709.4 433.7 L709.4 433.7 L709.5 433.7 L709.5 433.7 L709.6 433.7 L709.6 433.7 L709.7 433.7 L709.7 433.7 L709.8 433.7 L709.8 433.7 L709.9 433.7 L709.9 433.7 L709.9 433.7 L710.0 433.7 L710.0 433.7 L710.1 433.7 L710.1 433.7 L710.2 433.7 L710.2 433.7 L710.3 433.7 L710.3 433.7 L710.4 433.7 L710.4 433.7 L710.4 433.7 L710.5 433.7 L710.5 433.7 L710.6 433.7 L710.6 433.7 L710.7 433.7 L710.7 433.7 L710.8 433.7 L710.8 433.7 L710.9 433.7 L710.9 433.7 L710.9 433.7 L711.0 433.7 L711.0 433.7 L711.1 433.7 L711.1 433.7 L711.2 433.7 L711.2 433.7 L711.3 433.7 L711.3 433.7 L711.4 433.7 L711.4 433.7 L711.4 433.7 L711.5 433.7 L711.5 433.7 L711.6 433.7 L711.6 433.7 L711.7 433.7 L711.7 433.7 L711.8 433.7 L711.8 433.7 L711.9 433.7 L711.9 433.7 L711.9 433.7 L712.0 433.7 L712.0 433.7 L712.1 433.7 L712.1 433.7 L712.2 433.7 L712.2 433.7 L712.3 433.7 L712.3 433.7 L712.4 433.7 L712.4 433.7 L712.4 433.7 L712.5 433.7 L712.5 433.7 L712.6 433.7 L712.6 433.7 L712.7 433.7 L712.7 433.7 L712.8 433.7 L712.8 433.7 L712.9 433.7 L712.9 433.7 L712.9 433.7 L713.0 433.7 L713.0 433.7 L713.1 433.7 L713.1 433.7 L713.2 433.7 L713.2 433.7 L713.3 433.7 L713.3 433.7 L713.4 433.7 L713.4 433.7 L713.4 433.7 L713.5 433.7 L713.5 433.7 L713.6 433.7 L713.6 433.7 L713.7 433.7 L713.7 433.7 L713.8 433.7 L713.8 433.7 L713.9 433.7 L713.9 433.7 L713.9 433.7 L714.0 433.7 L714.0 433.7 L714.1 433.7 L714.1 433.7 L714.2 433.7 L714.2 433.7 L714.3 433.7 L714.3 433.7 L714.4 433.7 L714.4 433.7 L714.4 433.7 L714.5 433.7 L714.5 433.7 L714.6 433.7 L714.6 433.7 L714.7 433.7 L714.7 433.7 L714.8 433.7 L714.8 433.7 L714.9 433.7 L714.9 433.7 L714.9 433.7 L715.0 433.7 L715.0 433.7 L715.1 433.7 L715.1 433.7 L715.2 433.7 L715.2 433.7 L715.3 433.7 L715.3 433.7 L715.4 433.7 L715.4 433.7 L715.4 433.7 L715.5 433.7 L715.5 433.7 L715.6 433.7 L715.6 433.7 L715.7 433.7 L715.7 433.7 L715.8 433.7 L715.8 433.7 L715.9 433.7 L715.9 433.7 L716.0 433.7 L716.0 433.7 L716.0 433.7 L716.1 433.7 L716.1 433.7 L716.2 433.7 L716.2 433.7 L716.3 433.7 L716.3 433.7 L716.4 433.7 L716.4 433.7 L716.5 433.7 L716.5 433.7 L716.5 433.7 L716.6 433.7 L716.6 433.7 L716.7 433.7 L716.7 433.7 L716.8 433.7 L716.8 433.7 L716.9 433.7 L716.9 433.7 L717.0 433.7 L717.0 433.7 L717.0 433.7 L717.1 433.7 L717.1 433.7 L717.2 433.7 L717.2 433.7 L717.3 433.7 L717.3 433.7 L717.4 433.7 L717.4 433.7 L717.5 433.7 L717.5 433.7 L717.5 433.7 L717.6 433.7 L717.6 433.7 L717.7 433.7 L717.7 433.7 L717.8 433.7 L717.8 433.7 L717.9 433.7 L717.9 433.7 L718.0 433.7 L718.0 433.7 L718.0 433.7 L718.1 433.7 L718.1 433.7 L718.2 433.7 L718.2 433.7 L718.3 433.7 L718.3 433.7 L718.4 433.7 L718.4 433.7 L718.5 433.7 L718.5 433.7 L718.5 433.7 L718.6 433.7 L718.6 433.7 L718.7 433.7 L718.7 433.7 L718.8 433.7 L718.8 433.7 L718.9 433.7 L718.9 433.7 L719.0 433.7 L719.0 433.7 L719.0 433.7 L719.1 433.7 L719.1 433.7 L719.2 433.7 L719.2 433.7 L719.3 433.7 L719.3 433.7 L719.4 433.7 L719.4 433.7 L719.5 433.7 L719.5 433.7 L719.5 433.7 L719.6 433.7 L719.6 433.7 L719.7 433.7 L719.7 433.7 L719.8 433.7 L719.8 433.7 L719.9 433.7 L719.9 433.7 L720.0 433.7 L720.0 433.7 L720.0 433.7 L720.1 433.7 L720.1 433.7 L720.2 433.7 L720.2 433.7 L720.3 433.7 L720.3 433.7 L720.4 433.7 L720.4 433.7 L720.5 433.7 L720.5 433.7 L720.5 433.7 L720.6 433.7 L720.6 433.7 L720.7 433.7 L720.7 433.7 L720.8 433.7 L720.8 433.7 L720.9 433.7 L720.9 433.7 L721.0 433.7 L721.0 433.7 L721.0 433.7 L721.1 433.7 L721.1 433.7 L721.2 433.7 L721.2 433.7 L721.3 433.7 L721.3 433.7 L721.4 433.7 L721.4 433.7 L721.5 433.7 L721.5 433.7 L721.5 433.7 L721.6 433.7 L721.6 433.7 L721.7 433.7 L721.7 433.7 L721.8 433.7 L721.8 433.7 L721.9 433.7 L721.9 433.7 L722.0 433.7 L722.0 433.7 L722.0 433.7 L722.1 433.7 L722.1 433.7 L722.2 433.7 L722.2 433.7 L722.3 433.7 L722.3 433.7 L722.4 433.7 L722.4 433.7 L722.5 433.7 L722.5 433.7 L722.6 433.7 L722.6 433.7 L722.6 433.7 L722.7 433.7 L722.7 433.7 L722.8 433.7 L722.8 433.7 L722.9 433.7 L722.9 433.7 L723.0 433.7 L723.0 433.7 L723.1 433.7 L723.1 433.7 L723.1 433.7 L723.2 433.7 L723.2 433.7 L723.3 433.7 L723.3 433.7 L723.4 433.7 L723.4 433.7 L723.5 433.7 L723.5 433.7 L723.6 433.7 L723.6 433.7 L723.6 433.7 L723.7 433.7 L723.7 433.7 L723.8 433.7 L723.8 433.7 L723.9 433.7 L723.9 433.7 L724.0 433.7 L724.0 433.7 L724.1 433.7 L724.1 433.7 L724.1 433.7 L724.2 433.7 L724.2 433.7 L724.3 433.7 L724.3 433.7 L724.4 433.7 L724.4 433.7 L724.5 433.7 L724.5 433.7 L724.6 433.7 L724.6 433.7 L724.6 433.7 L724.7 433.7 L724.7 433.7 L724.8 433.7 L724.8 433.7 L724.9 433.7 L724.9 433.7 L725.0 433.7 L725.0 433.7 L725.1 433.7 L725.1 433.7 L725.1 433.7 L725.2 433.7 L725.2 433.7 L725.3 433.7 L725.3 433.7 L725.4 433.7 L725.4 433.7 L725.5 433.7 L725.5 433.7 L725.6 433.7 L725.6 433.7 L725.6 433.7 L725.7 433.7 L725.7 433.7 L725.8 433.7 L725.8 433.7 L725.9 433.7 L725.9 433.7 L726.0 433.7 L726.0 433.7 L726.1 433.7 L726.1 433.7 L726.1 433.7 L726.2 433.7 L726.2 433.7 L726.3 433.7 L726.3 433.7 L726.4 433.7 L726.4 433.7 L726.5 433.7 L726.5 433.7 L726.6 433.7 L726.6 433.7 L726.6 433.7 L726.7 433.7 L726.7 433.7 L726.8 433.7 L726.8 433.7 L726.9 433.7 L726.9 433.7 L727.0 433.7 L727.0 433.7 L727.1 433.7 L727.1 433.7 L727.1 433.7 L727.2 433.7 L727.2 433.7 L727.3 433.7 L727.3 433.7 L727.4 433.7 L727.4 433.7 L727.5 433.7 L727.5 433.7 L727.6 433.7 L727.6 433.7 L727.6 433.7 L727.7 433.7 L727.7 433.7 L727.8 433.7 L727.8 433.7 L727.9 433.7 L727.9 433.7 L728.0 433.7 L728.0 433.7 L728.1 433.7 L728.1 433.7 L728.1 433.7 L728.2 433.7 L728.2 433.7 L728.3 433.7 L728.3 433.7 L728.4 433.7 L728.4 433.7 L728.5 433.7 L728.5 433.7 L728.6 433.7 L728.6 433.7 L728.6 433.7 L728.7 433.7 L728.7 433.7 L728.8 433.7 L728.8 433.7 L728.9 433.7 L728.9 433.7 L729.0 433.7 L729.0 433.7 L729.1 433.7 L729.1 433.7 L729.2 433.7 L729.2 433.7 L729.2 433.7 L729.3 433.7 L729.3 433.7 L729.4 433.7 L729.4 433.7 L729.5 433.7 L729.5 433.7 L729.6 433.7 L729.6 433.7 L729.7 433.7 L729.7 433.7 L729.7 433.7 L729.8 433.7 L729.8 433.7 L729.9 433.7 L729.9 433.7 L730.0 433.7 L730.0 433.7 L730.1 433.7 L730.1 433.7 L730.2 433.7 L730.2 433.7 L730.2 433.7 L730.3 433.7 L730.3 433.7 L730.4 433.7 L730.4 433.7 L730.5 433.7 L730.5 433.7 L730.6 433.7 L730.6 433.7 L730.7 433.7 L730.7 433.7 L730.7 433.7 L730.8 433.7 L730.8 433.7 L730.9 433.7 L730.9 433.7 L731.0 433.7 L731.0 433.7 L731.1 433.7 L731.1 433.7 L731.2 433.7 L731.2 433.7 L731.2 433.7 L731.3 433.7 L731.3 433.7 L731.4 433.7 L731.4 433.7 L731.5 433.7 L731.5 433.7 L731.6 433.7 L731.6 433.7 L731.7 433.7 L731.7 433.7 L731.7 433.7 L731.8 433.7 L731.8 433.7 L731.9 433.7 L731.9 433.7 L732.0 433.7 L732.0 433.7 L732.1 433.7 L732.1 433.7 L732.2 433.7 L732.2 433.7 L732.2 433.7 L732.3 433.7 L732.3 433.7 L732.4 433.7 L732.4 433.7 L732.5 433.7 L732.5 433.7 L732.6 433.7 L732.6 433.7 L732.7 433.7 L732.7 433.7 L732.7 433.7 L732.8 433.7 L732.8 433.7 L732.9 433.7 L732.9 433.7 L733.0 433.7 L733.0 433.7 L733.1 433.7 L733.1 433.7 L733.2 433.7 L733.2 433.7 L733.2 433.7 L733.3 433.7 L733.3 433.7 L733.4 433.7 L733.4 433.7 L733.5 433.7 L733.5 433.7 L733.6 433.7 L733.6 433.7 L733.7 433.7 L733.7 433.7 L733.7 433.7 L733.8 433.7 L733.8 433.7 L733.9 433.7 L733.9 433.7 L734.0 433.7 L734.0 433.7 L734.1 433.7 L734.1 433.7 L734.2 433.7 L734.2 433.7 L734.2 433.7 L734.3 433.7 L734.3 433.7 L734.4 433.7 L734.4 433.7 L734.5 433.7 L734.5 433.7 L734.6 433.7 L734.6 433.7 L734.7 433.7 L734.7 433.7 L734.7 433.7 L734.8 433.7 L734.8 433.7 L734.9 433.7 L734.9 433.7 L735.0 433.7 L735.0 433.7 L735.1 433.7 L735.1 433.7 L735.2 433.7 L735.2 433.7 L735.2 433.7 L735.3 433.7 L735.3 433.7 L735.4 433.7 L735.4 433.7 L735.5 433.7 L735.5 433.7 L735.6 433.7 L735.6 433.7 L735.7 433.7 L735.7 433.7 L735.8 433.7 L735.8 433.7 L735.8 433.7 L735.9 433.7 L735.9 433.7 L736.0 433.7 L736.0 433.7 L736.1 433.7 L736.1 433.7 L736.2 433.7 L736.2 433.7 L736.3 433.7 L736.3 433.7 L736.3 433.7 L736.4 433.7 L736.4 433.7 L736.5 433.7 L736.5 433.7 L736.6 433.7 L736.6 433.7 L736.7 433.7 L736.7 433.7 L736.8 433.7 L736.8 433.7 L736.8 433.7 L736.9 433.7 L736.9 433.7 L737.0 433.7 L737.0 433.7 L737.1 433.7 L737.1 433.7 L737.2 433.7 L737.2 433.7 L737.3 433.7 L737.3 433.7 L737.3 433.7 L737.4 433.7 L737.4 433.7 L737.5 433.7 L737.5 433.7 L737.6 433.7 L737.6 433.7 L737.7 433.7 L737.7 433.7 L737.8 433.7 L737.8 433.7 L737.8 433.7 L737.9 433.7 L737.9 433.7 L738.0 433.7 L738.0 433.7 L738.1 433.7 L738.1 433.7 L738.2 433.7 L738.2 433.7 L738.3 433.7 L738.3 433.7 L738.3 433.7 L738.4 433.7 L738.4 433.7 L738.5 433.7 L738.5 433.7 L738.6 433.7 L738.6 433.7 L738.7 433.7 L738.7 433.7 L738.8 433.7 L738.8 433.7 L738.8 433.7 L738.9 433.7 L738.9 433.7 L739.0 433.7 L739.0 433.7 L739.1 433.7 L739.1 433.7 L739.2 433.7 L739.2 433.7 L739.3 433.7 L739.3 433.7 L739.3 433.7 L739.4 433.7 L739.4 433.7 L739.5 433.7 L739.5 433.7 L739.6 433.7 L739.6 433.7 L739.7 433.7 L739.7 433.7 L739.8 433.7 L739.8 433.7 L739.8 433.7 L739.9 433.7 L739.9 433.7 L740.0 433.7 L740.0 433.7 L740.1 433.7 L740.1 433.7 L740.2 433.7 L740.2 433.7 L740.3 433.7 L740.3 433.7 L740.3 433.7 L740.4 433.7 L740.4 433.7 L740.5 433.7 L740.5 433.7 L740.6 433.7 L740.6 433.7 L740.7 433.7 L740.7 433.7 L740.8 433.7 L740.8 433.7 L740.8 433.7 L740.9 433.7 L740.9 433.7 L741.0 433.7 L741.0 433.7 L741.1 433.7 L741.1 433.7 L741.2 433.7 L741.2 433.7 L741.3 433.7 L741.3 433.7 L741.3 433.7 L741.4 433.7 L741.4 433.7 L741.5 433.7 L741.5 433.7 L741.6 433.7 L741.6 433.7 L741.7 433.7 L741.7 433.7 L741.8 433.7 L741.8 433.7 L741.8 433.7 L741.9 433.7 L741.9 433.7 L742.0 433.7 L742.0 433.7 L742.1 433.7 L742.1 433.7 L742.2 433.7 L742.2 433.7 L742.3 433.7 L742.3 433.7 L742.4 433.7 L742.4 433.7 L742.4 433.7 L742.5 433.7 L742.5 433.7 L742.6 433.7 L742.6 433.7 L742.7 433.7 L742.7 433.7 L742.8 433.7 L742.8 433.7 L742.9 433.7 L742.9 433.7 L742.9 433.7 L743.0 433.7 L743.0 433.7 L743.1 433.7 L743.1 433.7 L743.2 433.7 L743.2 433.7 L743.3 433.7 L743.3 433.7 L743.4 433.7 L743.4 433.7 L743.4 433.7 L743.5 433.7 L743.5 433.7 L743.6 433.7 L743.6 433.7 L743.7 433.7 L743.7 433.7 L743.8 433.7 L743.8 433.7 L743.9 433.7 L743.9 433.7 L743.9 433.7 L744.0 433.7 L744.0 433.7 L744.1 433.7 L744.1 433.7 L744.2 433.7 L744.2 433.7 L744.3 433.7 L744.3 433.7 L744.4 433.7 L744.4 433.7 L744.4 433.7 L744.5 433.7 L744.5 433.7 L744.6 433.7 L744.6 433.7 L744.7 433.7 L744.7 433.7 L744.8 433.7 L744.8 433.7 L744.9 433.7 L744.9 433.7 L744.9 433.7 L745.0 433.7 L745.0 433.7 L745.1 433.7 L745.1 433.7 L745.2 433.7 L745.2 433.7 L745.3 433.7 L745.3 433.7 L745.4 433.7 L745.4 433.7 L745.4 433.7 L745.5 433.7 L745.5 433.7 L745.6 433.7 L745.6 433.7 L745.7 433.7 L745.7 433.7 L745.8 433.7 L745.8 433.7 L745.9 433.7 L745.9 433.7 L745.9 433.7 L746.0 433.7 L746.0 433.7 L746.1 433.7 L746.1 433.7 L746.2 433.7 L746.2 433.7 L746.3 433.7 L746.3 433.7 L746.4 433.7 L746.4 433.7 L746.4 433.7 L746.5 433.7 L746.5 433.7 L746.6 433.7 L746.6 433.7 L746.7 433.7 L746.7 433.7 L746.8 433.7 L746.8 433.7 L746.9 433.7 L746.9 433.7 L746.9 433.7 L747.0 433.7 L747.0 433.7 L747.1 433.7 L747.1 433.7 L747.2 433.7 L747.2 433.7 L747.3 433.7 L747.3 433.7 L747.4 433.7 L747.4 433.7 L747.4 433.7 L747.5 433.7 L747.5 433.7 L747.6 433.7 L747.6 433.7 L747.7 433.7 L747.7 433.7 L747.8 433.7 L747.8 433.7 L747.9 433.7 L747.9 433.7 L747.9 433.7 L748.0 433.7 L748.0 433.7 L748.1 433.7 L748.1 433.7 L748.2 433.7 L748.2 433.7 L748.3 433.7 L748.3 433.7 L748.4 433.7 L748.4 433.7 L748.4 433.7 L748.5 433.7 L748.5 433.7 L748.6 433.7 L748.6 433.7 L748.7 433.7 L748.7 433.7 L748.8 433.7 L748.8 433.7 L748.9 433.7 L748.9 433.7 L749.0 433.7 L749.0 433.7 L749.0 433.7 L749.1 433.7 L749.1 433.7 L749.2 433.7 L749.2 433.7 L749.3 433.7 L749.3 433.7 L749.4 433.7 L749.4 433.7 L749.5 433.7 L749.5 433.7 L749.5 433.7 L749.6 433.7 L749.6 433.7 L749.7 433.7 L749.7 433.7 L749.8 433.7 L749.8 433.7 L749.9 433.7 L749.9 433.7 L750.0 433.7 L750.0 433.7 L750.0 433.7 L750.1 433.7 L750.1 433.7 L750.2 433.7 L750.2 433.7 L750.3 433.7 L750.3 433.7 L750.4 433.7 L750.4 433.7 L750.5 433.7 L750.5 433.7 L750.5 433.7 L750.6 433.7 L750.6 433.7 L750.7 433.7 L750.7 433.7 L750.8 433.7 L750.8 433.7 L750.9 433.7 L750.9 433.7 L751.0 433.7 L751.0 433.7 L751.0 433.7 L751.1 433.7 L751.1 433.7 L751.2 433.7 L751.2 433.7 L751.3 433.7 L751.3 433.7 L751.4 433.7 L751.4 433.7 L751.5 433.7 L751.5 433.7 L751.5 433.7 L751.6 433.7 L751.6 433.7 L751.7 433.7 L751.7 433.7 L751.8 433.7 L751.8 433.7 L751.9 433.7 L751.9 433.7 L752.0 433.7 L752.0 433.7 L752.0 433.7 L752.1 433.7 L752.1 433.7 L752.2 433.7 L752.2 433.7 L752.3 433.7 L752.3 433.7 L752.4 433.7 L752.4 433.7 L752.5 433.7 L752.5 433.7 L752.5 433.7 L752.6 433.7 L752.6 433.7 L752.7 433.7 L752.7 433.7 L752.8 433.7 L752.8 433.7 L752.9 433.7 L752.9 433.7 L753.0 433.7 L753.0 433.7 L753.0 433.7 L753.1 433.7 L753.1 433.7 L753.2 433.7 L753.2 433.7 L753.3 433.7 L753.3 433.7 L753.4 433.7 L753.4 433.7 L753.5 433.7 L753.5 433.7 L753.5 433.7 L753.6 433.7 L753.6 433.7 L753.7 433.7 L753.7 433.7 L753.8 433.7 L753.8 433.7 L753.9 433.7 L753.9 433.7 L754.0 433.7 L754.0 433.7 L754.0 433.7 L754.1 433.7 L754.1 433.7 L754.2 433.7 L754.2 433.7 L754.3 433.7 L754.3 433.7 L754.4 433.7 L754.4 433.7 L754.5 433.7 L754.5 433.7 L754.5 433.7 L754.6 433.7 L754.6 433.7 L754.7 433.7 L754.7 433.7 L754.8 433.7 L754.8 433.7 L754.9 433.7 L754.9 433.7 L755.0 433.7 L755.0 433.7 L755.0 433.7 L755.1 433.7 L755.1 433.7 L755.2 433.7 L755.2 433.7 L755.3 433.7 L755.3 433.7 L755.4 433.7 L755.4 433.7 L755.5 433.7 L755.5 433.7 L755.6 433.7 L755.6 433.7 L755.6 433.7 L755.7 433.7 L755.7 433.7 L755.8 433.7 L755.8 433.7 L755.9 433.7 L755.9 433.7 L756.0 433.7 L756.0 433.7 L756.1 433.7 L756.1 433.7 L756.1 433.7 L756.2 433.7 L756.2 433.7 L756.3 433.7 L756.3 433.7 L756.4 433.7 L756.4 433.7 L756.5 433.7 L756.5 433.7 L756.6 433.7 L756.6 433.7 L756.6 433.7 L756.7 433.7 L756.7 433.7 L756.8 433.7 L756.8 433.7 L756.9 433.7 L756.9 433.7 L757.0 433.7 L757.0 433.7 L757.1 433.7 L757.1 433.7 L757.1 433.7 L757.2 433.7 L757.2 433.7 L757.3 433.7 L757.3 433.7 L757.4 433.7 L757.4 433.7 L757.5 433.7 L757.5 433.7 L757.6 433.7 L757.6 433.7 L757.6 433.7 L757.7 433.7 L757.7 433.7 L757.8 433.7 L757.8 433.7 L757.9 433.7 L757.9 433.7 L758.0 433.7 L758.0 433.7 L758.1 433.7 L758.1 433.7 L758.1 433.7 L758.2 433.7 L758.2 433.7 L758.3 433.7 L758.3 433.7 L758.4 433.7 L758.4 433.7 L758.5 433.7 L758.5 433.7 L758.6 433.7 L758.6 433.7 L758.6 433.7 L758.7 433.7 L758.7 433.7 L758.8 433.7 L758.8 433.7 L758.9 433.7 L758.9 433.7 L759.0 433.7 L759.0 433.7 L759.1 433.7 L759.1 433.7 L759.1 433.7 L759.2 433.7 L759.2 433.7 L759.3 433.7 L759.3 433.7 L759.4 433.7 L759.4 433.7 L759.5 433.7 L759.5 433.7 L759.6 433.7 L759.6 433.7 L759.6 433.7 L759.7 433.7 L759.7 433.7 L759.8 433.7 L759.8 433.7 L759.9 433.7 L759.9 433.7 L760.0 433.7 L760.0 433.7 L760.1 433.7 L760.1 433.7 L760.1 433.7 L760.2 433.7 L760.2 433.7 L760.3 433.7 L760.3 433.7 L760.4 433.7 L760.4 433.7 L760.5 433.7 L760.5 433.7 L760.6 433.7 L760.6 433.7 L760.6 433.7 L760.7 433.7 L760.7 433.7 L760.8 433.7 L760.8 433.7 L760.9 433.7 L760.9 433.7 L761.0 433.7 L761.0 433.7 L761.1 433.7 L761.1 433.7 L761.1 433.7 L761.2 433.7 L761.2 433.7 L761.3 433.7 L761.3 433.7 L761.4 433.7 L761.4 433.7 L761.5 433.7 L761.5 433.7 L761.6 433.7 L761.6 433.7 L761.6 433.7 L761.7 433.7 L761.7 433.7 L761.8 433.7 L761.8 433.7 L761.9 433.7 L761.9 433.7 L762.0 433.7 L762.0 433.7 L762.1 433.7 L762.1 433.7 L762.2 433.7 L762.2 433.7 L762.2 433.7 L762.3 433.7 L762.3 433.7 L762.4 433.7 L762.4 433.7 L762.5 433.7 L762.5 433.7 L762.6 433.7 L762.6 433.7 L762.7 433.7 L762.7 433.7 L762.7 433.7 L762.8 433.7 L762.8 433.7 L762.9 433.7 L762.9 433.7 L763.0 433.7 L763.0 433.7 L763.1 433.7 L763.1 433.7 L763.2 433.7 L763.2 433.7 L763.2 433.7 L763.3 433.7 L763.3 433.7 L763.4 433.7 L763.4 433.7 L763.5 433.7 L763.5 433.7 L763.6 433.7 L763.6 433.7 L763.7 433.7 L763.7 433.7 L763.7 433.7 L763.8 433.7 L763.8 433.7 L763.9 433.7 L763.9 433.7 L764.0 433.7 L764.0 433.7 L764.1 433.7 L764.1 433.7 L764.2 433.7 L764.2 433.7 L764.2 433.7 L764.3 433.7 L764.3 433.7 L764.4 433.7 L764.4 433.7 L764.5 433.7 L764.5 433.7 L764.6 433.7 L764.6 433.7 L764.7 433.7 L764.7 433.7 L764.7 433.7 L764.8 433.7 L764.8 433.7 L764.9 433.7 L764.9 433.7 L765.0 433.7 L765.0 433.7 L765.1 433.7 L765.1 433.7 L765.2 433.7 L765.2 433.7 L765.2 433.7 L765.3 433.7 L765.3 433.7 L765.4 433.7 L765.4 433.7 L765.5 433.7 L765.5 433.7 L765.6 433.7 L765.6 433.7 L765.7 433.7 L765.7 433.7 L765.7 433.7 L765.8 433.7 L765.8 433.7 L765.9 433.7 L765.9 433.7 L766.0 433.7 L766.0 433.7 L766.1 433.7 L766.1 433.7 L766.2 433.7 L766.2 433.7 L766.2 433.7 L766.3 433.7 L766.3 433.7 L766.4 433.7 L766.4 433.7 L766.5 433.7 L766.5 433.7 L766.6 433.7 L766.6 433.7 L766.7 433.7 L766.7 433.7 L766.7 433.7 L766.8 433.7 L766.8 433.7 L766.9 433.7 L766.9 433.7 L767.0 433.7 L767.0 433.7 L767.1 433.7 L767.1 433.7 L767.2 433.7 L767.2 433.7 L767.2 433.7 L767.3 433.7 L767.3 433.7 L767.4 433.7 L767.4 433.7 L767.5 433.7 L767.5 433.7 L767.6 433.7 L767.6 433.7 L767.7 433.7 L767.7 433.7 L767.7 433.7 L767.8 433.7 L767.8 433.7 L767.9 433.7 L767.9 433.7 L768.0 433.7 L768.0 433.7 L768.1 433.7 L768.1 433.7 L768.2 433.7 L768.2 433.7 L768.2 433.7 L768.3 433.7 L768.3 433.7 L768.4 433.7 L768.4 433.7 L768.5 433.7 L768.5 433.7 L768.6 433.7 L768.6 433.7 L768.7 433.7 L768.7 433.7 L768.8 433.7 L768.8 433.7 L768.8 433.7 L768.9 433.7 L768.9 433.7 L769.0 433.7 L769.0 433.7 L769.1 433.7 L769.1 433.7 L769.2 433.7 L769.2 433.7 L769.3 433.7 L769.3 433.7 L769.3 433.7 L769.4 433.7 L769.4 433.7 L769.5 433.7 L769.5 433.7 L769.6 433.7 L769.6 433.7 L769.7 433.7 L769.7 433.7 L769.8 433.7 L769.8 433.7 L769.8 433.7 L769.9 433.7 L769.9 433.7 L770.0 433.7 L770.0 433.7 L770.1 433.7 L770.1 433.7 L770.2 433.7 L770.2 433.7 L770.3 433.7 L770.3 433.7 L770.3 433.7 L770.4 433.7 L770.4 433.7 L770.5 433.7 L770.5 433.7 L770.6 433.7 L770.6 433.7 L770.7 433.7 L770.7 433.7 L770.8 433.7 L770.8 433.7 L770.8 433.7 L770.9 433.7 L770.9 433.7 L771.0 433.7 L771.0 433.7 L771.1 433.7 L771.1 433.7 L771.2 433.7 L771.2 433.7 L771.3 433.7 L771.3 433.7 L771.3 433.7 L771.4 433.7 L771.4 433.7 L771.5 433.7 L771.5 433.7 L771.6 433.7 L771.6 433.7 L771.7 433.7 L771.7 433.7 L771.8 433.7 L771.8 433.7 L771.8 433.7 L771.9 433.7 L771.9 433.7 L772.0 433.7 L772.0 433.7 L772.1 433.7 L772.1 433.7 L772.2 433.7 L772.2 433.7 L772.3 433.7 L772.3 433.7 L772.3 433.7 L772.4 433.7 L772.4 433.7 L772.5 433.7 L772.5 433.7 L772.6 433.7 L772.6 433.7 L772.7 433.7 L772.7 433.7 L772.8 433.7 L772.8 433.7 L772.8 433.7 L772.9 433.7 L772.9 433.7 L773.0 433.7 L773.0 433.7 L773.1 433.7 L773.1 433.7 L773.2 433.7 L773.2 433.7 L773.3 433.7 L773.3 433.7 L773.3 433.7 L773.4 433.7 L773.4 433.7 L773.5 433.7 L773.5 433.7 L773.6 433.7 L773.6 433.7 L773.7 433.7 L773.7 433.7 L773.8 433.7 L773.8 433.7 L773.8 433.7 L773.9 433.7 L773.9 433.7 L774.0 433.7 L774.0 433.7 L774.1 433.7 L774.1 433.7 L774.2 433.7 L774.2 433.7 L774.3 433.7 L774.3 433.7 L774.3 433.7 L774.4 433.7 L774.4 433.7 L774.5 433.7 L774.5 433.7 L774.6 433.7 L774.6 433.7 L774.7 433.7 L774.7 433.7 L774.8 433.7 L774.8 433.7 L774.8 433.7 L774.9 433.7 L774.9 433.7 L775.0 433.7 L775.0 433.7 L775.1 433.7 L775.1 433.7 L775.2 433.7 L775.2 433.7 L775.3 433.7 L775.3 433.7 L775.4 433.7 L775.4 433.7 L775.4 433.7 L775.5 433.7 L775.5 433.7 L775.6 433.7 L775.6 433.7 L775.7 433.7 L775.7 433.7 L775.8 433.7 L775.8 433.7 L775.9 433.7 L775.9 433.7 L775.9 433.7 L776.0 433.7 L776.0 433.7 L776.1 433.7 L776.1 433.7 L776.2 433.7 L776.2 433.7 L776.3 433.7 L776.3 433.7 L776.4 433.7 L776.4 433.7 L776.4 433.7 L776.5 433.7 L776.5 433.7 L776.6 433.7 L776.6 433.7 L776.7 433.7 L776.7 433.7 L776.8 433.7 L776.8 433.7 L776.9 433.7 L776.9 433.7 L776.9 433.7 L777.0 433.7 L777.0 433.7 L777.1 433.7 L777.1 433.7 L777.2 433.7 L777.2 433.7 L777.3 433.7 L777.3 433.7 L777.4 433.7 L777.4 433.7 L777.4 433.7 L777.5 433.7 L777.5 433.7 L777.6 433.7 L777.6 433.7 L777.7 433.7 L777.7 433.7 L777.8 433.7 L777.8 433.7 L777.9 433.7 L777.9 433.7 L777.9 433.7 L778.0 433.7 L778.0 433.7 L778.1 433.7 L778.1 433.7 L778.2 433.7 L778.2 433.7 L778.3 433.7 L778.3 433.7 L778.4 433.7 L778.4 433.7 L778.4 433.7 L778.5 433.7 L778.5 433.7 L778.6 433.7 L778.6 433.7 L778.7 433.7 L778.7 433.7 L778.8 433.7 L778.8 433.7 L778.9 433.7 L778.9 433.7 L778.9 433.7 L779.0 433.7 L779.0 433.7 L779.1 433.7 L779.1 433.7 L779.2 433.7 L779.2 433.7 L779.3 433.7 L779.3 433.7 L779.4 433.7 L779.4 433.7 L779.4 433.7 L779.5 433.7 L779.5 433.7 L779.6 433.7 L779.6 433.7 L779.7 433.7 L779.7 433.7 L779.8 433.7 L779.8 433.7 L779.9 433.7 L779.9 433.7 L779.9 433.7 L780.0 433.7 L780.0 433.7 L780.1 433.7 L780.1 433.7 L780.2 433.7 L780.2 433.7 L780.3 433.7 L780.3 433.7 L780.4 433.7 L780.4 433.7 L780.4 433.7 L780.5 433.7 L780.5 433.7 L780.6 433.7 L780.6 433.7 L780.7 433.7 L780.7 433.7 L780.8 433.7 L780.8 433.7 L780.9 433.7 L780.9 433.7 L780.9 433.7 L781.0 433.7 L781.0 433.7 L781.1 433.7 L781.1 433.7 L781.2 433.7 L781.2 433.7 L781.3 433.7 L781.3 433.7 L781.4 433.7 L781.4 433.7 L781.4 433.7 L781.5 433.7 L781.5 433.7 L781.6 433.7 L781.6 433.7 L781.7 433.7 L781.7 433.7 L781.8 433.7 L781.8 433.7 L781.9 433.7 L781.9 433.7 L782.0 433.7 L782.0 433.7 L782.0 433.7 L782.1 433.7 L782.1 433.7 L782.2 433.7 L782.2 433.7 L782.3 433.7 L782.3 433.7 L782.4 433.7 L782.4 433.7 L782.5 433.7 L782.5 433.7 L782.5 433.7 L782.6 433.7 L782.6 433.7 L782.7 433.7 L782.7 433.7 L782.8 433.7 L782.8 433.7 L782.9 433.7 L782.9 433.7 L783.0 433.7 L783.0 433.7 L783.0 433.7 L783.1 433.7 L783.1 433.7 L783.2 433.7 L783.2 433.7 L783.3 433.7 L783.3 433.7 L783.4 433.7 L783.4 433.7 L783.5 433.7 L783.5 433.7 L783.5 433.7 L783.6 433.7 L783.6 433.7 L783.7 433.7 L783.7 433.7 L783.8 433.7 L783.8 433.7 L783.9 433.7 L783.9 433.7 L784.0 433.7 L784.0 433.7 L784.0 433.7 L784.1 433.7 L784.1 433.7 L784.2 433.7 L784.2 433.7 L784.3 433.7 L784.3 433.7 L784.4 433.7 L784.4 433.7 L784.5 433.7 L784.5 433.7 L784.5 433.7 L784.6 433.7 L784.6 433.7 L784.7 433.7 L784.7 433.7 L784.8 433.7 L784.8 433.7 L784.9 433.7 L784.9 433.7 L785.0 433.7 L785.0 433.7 L785.0 433.7 L785.1 433.7 L785.1 433.7 L785.2 433.7 L785.2 433.7 L785.3 433.7 L785.3 433.7 L785.4 433.7 L785.4 433.7 L785.5 433.7 L785.5 433.7 L785.5 433.7 L785.6 433.7 L785.6 433.7 L785.7 433.7 L785.7 433.7 L785.8 433.7 L785.8 433.7 L785.9 433.7 L785.9 433.7 L786.0 433.7 L786.0 433.7 L786.0 433.7 L786.1 433.7 L786.1 433.7 L786.2 433.7 L786.2 433.7 L786.3 433.7 L786.3 433.7 L786.4 433.7 L786.4 433.7 L786.5 433.7 L786.5 433.7 L786.5 433.7 L786.6 433.7 L786.6 433.7 L786.7 433.7 L786.7 433.7 L786.8 433.7 L786.8 433.7 L786.9 433.7 L786.9 433.7 L787.0 433.7 L787.0 433.7 L787.0 433.7 L787.1 433.7 L787.1 433.7 L787.2 433.7 L787.2 433.7 L787.3 433.7 L787.3 433.7 L787.4 433.7 L787.4 433.7 L787.5 433.7 L787.5 433.7 L787.5 433.7 L787.6 433.7 L787.6 433.7 L787.7 433.7 L787.7 433.7 L787.8 433.7 L787.8 433.7 L787.9 433.7 L787.9 433.7 L788.0 433.7 L788.0 433.7 L788.0 433.7 L788.1 433.7 L788.1 433.7 L788.2 433.7 L788.2 433.7 L788.3 433.7 L788.3 433.7 L788.4 433.7 L788.4 433.7 L788.5 433.7 L788.5 433.7 L788.6 433.7 L788.6 433.7 L788.6 433.7 L788.7 433.7 L788.7 433.7 L788.8 433.7 L788.8 433.7 L788.9 433.7 L788.9 433.7 L789.0 433.7 L789.0 433.7 L789.1 433.7 L789.1 433.7 L789.1 433.7 L789.2 433.7 L789.2 433.7 L789.3 433.7 L789.3 433.7 L789.4 433.7 L789.4 433.7 L789.5 433.7 L789.5 433.7 L789.6 433.7 L789.6 433.7 L789.6 433.7 L789.7 433.7 L789.7 433.7 L789.8 433.7 L789.8 433.7 L789.9 433.7 L789.9 433.7 L790.0 433.7 L790.0 433.7 L790.1 433.7 L790.1 433.7 L790.1 433.7 L790.2 433.7 L790.2 433.7 L790.3 433.7 L790.3 433.7 L790.4 433.7 L790.4 433.7 L790.5 433.7 L790.5 433.7 L790.6 433.7 L790.6 433.7 L790.6 433.7 L790.7 433.7 L790.7 433.7 L790.8 433.7 L790.8 433.7 L790.9 433.7 L790.9 433.7 L791.0 433.7 L791.0 433.7 L791.1 433.7 L791.1 433.7 L791.1 433.7 L791.2 433.7 L791.2 433.7 L791.3 433.7 L791.3 433.7 L791.4 433.7 L791.4 433.7 L791.5 433.7 L791.5 433.7 L791.6 433.7 L791.6 433.7 L791.6 433.7 L791.7 433.7 L791.7 433.7 L791.8 433.7 L791.8 433.7 L791.9 433.7 L791.9 433.7 L792.0 433.7 L792.0 433.7 L792.1 433.7 L792.1 433.7 L792.1 433.7 L792.2 433.7 L792.2 433.7 L792.3 433.7 L792.3 433.7 L792.4 433.7 L792.4 433.7 L792.5 433.7 L792.5 433.7 L792.6 433.7 L792.6 433.7 L792.6 433.7 L792.7 433.7 L792.7 433.7 L792.8 433.7 L792.8 433.7 L792.9 433.7 L792.9 433.7 L793.0 433.7 L793.0 433.7 L793.1 433.7 L793.1 433.7 L793.1 433.7 L793.2 433.7 L793.2 433.7 L793.3 433.7 L793.3 433.7 L793.4 433.7 L793.4 433.7 L793.5 433.7 L793.5 433.7 L793.6 433.7 L793.6 433.7 L793.6 433.7 L793.7 433.7 L793.7 433.7 L793.8 433.7 L793.8 433.7 L793.9 433.7 L793.9 433.7 L794.0 433.7 L794.0 433.7 L794.1 433.7 L794.1 433.7 L794.1 433.7 L794.2 433.7 L794.2 433.7 L794.3 433.7 L794.3 433.7 L794.4 433.7 L794.4 433.7 L794.5 433.7 L794.5 433.7 L794.6 433.7 L794.6 433.7 L794.6 433.7 L794.7 433.7 L794.7 433.7 L794.8 433.7 L794.8 433.7 L794.9 433.7 L794.9 433.7 L795.0 433.7 L795.0 433.7 L795.1 433.7 L795.1 433.7 L795.2 433.7 L795.2 433.7 L795.2 433.7 L795.3 433.7 L795.3 433.7 L795.4 433.7 L795.4 433.7 L795.5 433.7 L795.5 433.7 L795.6 433.7 L795.6 433.7 L795.7 433.7 L795.7 433.7 L795.7 433.7 L795.8 433.7 L795.8 433.7 L795.9 433.7 L795.9 433.7 L796.0 433.7 L796.0 433.7 L796.1 433.7 L796.1 433.7 L796.2 433.7 L796.2 433.7 L796.2 433.7 L796.3 433.7 L796.3 433.7 L796.4 433.7 L796.4 433.7 L796.5 433.7 L796.5 433.7 L796.6 433.7 L796.6 433.7 L796.7 433.7 L796.7 433.7 L796.7 433.7 L796.8 433.7 L796.8 433.7 L796.9 433.7 L796.9 433.7 L797.0 433.7 L797.0 433.7 L797.1 433.7 L797.1 433.7 L797.2 433.7 L797.2 433.7 L797.2 433.7 L797.3 433.7 L797.3 433.7 L797.4 433.7 L797.4 433.7 L797.5 433.7 L797.5 433.7 L797.6 433.7 L797.6 433.7 L797.7 433.7 L797.7 433.7 L797.7 433.7 L797.8 433.7 L797.8 433.7 L797.9 433.7 L797.9 433.7 L798.0 433.7 L798.0 433.7 L798.1 433.7 L798.1 433.7 L798.2 433.7 L798.2 433.7 L798.2 433.7 L798.3 433.7 L798.3 433.7 L798.4 433.7 L798.4 433.7 L798.5 433.7 L798.5 433.7 L798.6 433.7 L798.6 433.7 L798.7 433.7 L798.7 433.7 L798.7 433.7 L798.8 433.7 L798.8 433.7 L798.9 433.7 L798.9 433.7 L799.0 433.7 L799.0 433.7 L799.1 433.7 L799.1 433.7 L799.2 433.7 L799.2 433.7 L799.2 433.7 L799.3 433.7 L799.3 433.7 L799.4 433.7 L799.4 433.7 L799.5 433.7 L799.5 433.7 L799.6 433.7 L799.6 433.7 L799.7 433.7 L799.7 433.6 L799.7 433.6 L799.8 433.7 L799.8 433.7 L799.9 433.7 L799.9 433.7 L800.0 433.7 L800.0 433.7 L800.1 433.7 L800.1 433.7 L800.2 433.7 L800.2 433.7 L800.2 433.6 L800.3 433.6 L800.3 433.6 L800.4 433.7 L800.4 433.7 L800.5 433.7 L800.5 433.7 L800.6 433.7 L800.6 433.7 L800.7 433.7 L800.7 433.7 L800.7 433.7 L800.8 433.7 L800.8 433.7 L800.9 433.7 L800.9 433.7 L801.0 433.7 L801.0 433.7 L801.1 433.7 L801.1 433.7 L801.2 433.7 L801.2 433.7 L801.2 433.7 L801.3 433.7 L801.3 433.7 L801.4 433.7 L801.4 433.7 L801.5 433.7 L801.5 433.7 L801.6 433.7 L801.6 433.7 L801.7 433.7 L801.7 433.7 L801.8 433.7 L801.8 433.7 L801.8 433.6 L801.9 433.6 L801.9 433.6 L802.0 433.6 L802.0 433.6 L802.1 433.7 L802.1 433.7 L802.2 433.7 L802.2 433.7 L802.3 433.7 L802.3 433.7 L802.3 433.7 L802.4 433.6 L802.4 433.6 L802.5 433.6 L802.5 433.6 L802.6 433.6 L802.6 433.6 L802.7 433.6 L802.7 433.6 L802.8 433.6 L802.8 433.6 L802.8 433.6 L802.9 433.6 L802.9 433.5 L803.0 433.5 L803.0 433.5 L803.1 433.5 L803.1 433.5 L803.2 433.5 L803.2 433.6 L803.3 433.6 L803.3 433.6 L803.3 433.7 L803.4 433.7 L803.4 433.6 L803.5 433.6 L803.5 433.6 L803.6 433.5 L803.6 433.5 L803.7 433.5 L803.7 433.5 L803.8 433.5 L803.8 433.6 L803.8 433.6 L803.9 433.6 L803.9 433.7 L804.0 433.7 L804.0 433.7 L804.1 433.7 L804.1 433.6 L804.2 433.6 L804.2 433.6 L804.3 433.6 L804.3 433.6 L804.3 433.6 L804.4 433.6 L804.4 433.7 L804.5 433.7 L804.5 433.7 L804.6 433.7 L804.6 433.7 L804.7 433.7 L804.7 433.7 L804.8 433.7 L804.8 433.7 L804.8 433.7 L804.9 433.7 L804.9 433.7 L805.0 433.7 L805.0 433.7 L805.1 433.7 L805.1 433.7 L805.2 433.6 L805.2 433.6 L805.3 433.6 L805.3 433.6 L805.3 433.6 L805.4 433.6 L805.4 433.7 L805.5 433.7 L805.5 433.7 L805.6 433.7 L805.6 433.7 L805.7 433.7 L805.7 433.6 L805.8 433.6 L805.8 433.6 L805.8 433.6 L805.9 433.6 L805.9 433.6 L806.0 433.6 L806.0 433.6 L806.1 433.7 L806.1 433.7 L806.2 433.7 L806.2 433.7 L806.3 433.7 L806.3 433.7 L806.3 433.7 L806.4 433.7 L806.4 433.7 L806.5 433.7 L806.5 433.7 L806.6 433.7 L806.6 433.7 L806.7 433.7 L806.7 433.7 L806.8 433.6 L806.8 433.6 L806.8 433.6 L806.9 433.7 L806.9 433.7 L807.0 433.7 L807.0 433.7 L807.1 433.7 L807.1 433.7 L807.2 433.7 L807.2 433.7 L807.3 433.6 L807.3 433.6 L807.3 433.6 L807.4 433.6 L807.4 433.6 L807.5 433.6 L807.5 433.7 L807.6 433.7 L807.6 433.7 L807.7 433.7 L807.7 433.7 L807.8 433.7 L807.8 433.7 L807.8 433.7 L807.9 433.6 L807.9 433.6 L808.0 433.6 L808.0 433.6 L808.1 433.6 L808.1 433.7 L808.2 433.7 L808.2 433.7 L808.3 433.7 L808.3 433.7 L808.4 433.7 L808.4 433.7 L808.4 433.7 L808.5 433.7 L808.5 433.7 L808.6 433.7 L808.6 433.7 L808.7 433.7 L808.7 433.7 L808.8 433.7 L808.8 433.7 L808.9 433.7 L808.9 433.7 L808.9 433.7 L809.0 433.7 L809.0 433.7 L809.1 433.7 L809.1 433.7 L809.2 433.7 L809.2 433.7 L809.3 433.7 L809.3 433.7 L809.4 433.7 L809.4 433.7 L809.4 433.7 L809.5 433.7 L809.5 433.7 L809.6 433.7 L809.6 433.7 L809.7 433.7 L809.7 433.7 L809.8 433.7 L809.8 433.7 L809.9 433.7 L809.9 433.7 L809.9 433.7 L810.0 433.7 L810.0 433.7 L810.1 433.6 L810.1 433.6 L810.2 433.6 L810.2 433.6 L810.3 433.6 L810.3 433.7 L810.4 433.7 L810.4 433.7 L810.4 433.7 L810.5 433.7 L810.5 433.7 L810.6 433.7 L810.6 433.7 L810.7 433.7 L810.7 433.7 L810.8 433.7 L810.8 433.7 L810.9 433.7 L810.9 433.7 L810.9 433.7 L811.0 433.7 L811.0 433.7 L811.1 433.7 L811.1 433.6 L811.2 433.6 L811.2 433.6 L811.3 433.5 L811.3 433.5 L811.4 433.5 L811.4 433.4 L811.4 433.4 L811.5 433.4 L811.5 433.4 L811.6 433.4 L811.6 433.4 L811.7 433.4 L811.7 433.4 L811.8 433.4 L811.8 433.4 L811.9 433.4 L811.9 433.4 L811.9 433.4 L812.0 433.4 L812.0 433.5 L812.1 433.5 L812.1 433.6 L812.2 433.6 L812.2 433.6 L812.3 433.7 L812.3 433.7 L812.4 433.7 L812.4 433.7 L812.4 433.6 L812.5 433.6 L812.5 433.6 L812.6 433.5 L812.6 433.5 L812.7 433.5 L812.7 433.5 L812.8 433.5 L812.8 433.6 L812.9 433.6 L812.9 433.7 L812.9 433.7 L813.0 433.7 L813.0 433.7 L813.1 433.7 L813.1 433.7 L813.2 433.6 L813.2 433.6 L813.3 433.6 L813.3 433.5 L813.4 433.5 L813.4 433.5 L813.4 433.5 L813.5 433.5 L813.5 433.6 L813.6 433.6 L813.6 433.6 L813.7 433.6 L813.7 433.7 L813.8 433.7 L813.8 433.7 L813.9 433.7 L813.9 433.7 L813.9 433.7 L814.0 433.7 L814.0 433.7 L814.1 433.7 L814.1 433.7 L814.2 433.7 L814.2 433.7 L814.3 433.7 L814.3 433.7 L814.4 433.7 L814.4 433.7 L814.4 433.6 L814.5 433.6 L814.5 433.6 L814.6 433.6 L814.6 433.6 L814.7 433.6 L814.7 433.6 L814.8 433.6 L814.8 433.6 L814.9 433.6 L814.9 433.6 L815.0 433.7 L815.0 433.7 L815.0 433.7 L815.1 433.7 L815.1 433.7 L815.2 433.7 L815.2 433.7 L815.3 433.6 L815.3 433.6 L815.4 433.6 L815.4 433.6 L815.5 433.6 L815.5 433.6 L815.5 433.6 L815.6 433.6 L815.6 433.6 L815.7 433.6 L815.7 433.7 L815.8 433.7 L815.8 433.7 L815.9 433.7 L815.9 433.7 L816.0 433.7 L816.0 433.7 L816.0 433.7 L816.1 433.6 L816.1 433.6 L816.2 433.6 L816.2 433.6 L816.3 433.6 L816.3 433.6 L816.4 433.6 L816.4 433.6 L816.5 433.6 L816.5 433.6 L816.5 433.6 L816.6 433.6 L816.6 433.6 L816.7 433.6 L816.7 433.6 L816.8 433.6 L816.8 433.6 L816.9 433.6 L816.9 433.6 L817.0 433.6 L817.0 433.7 L817.0 433.7 L817.1 433.7 L817.1 433.7 L817.2 433.7 L817.2 433.7 L817.3 433.7 L817.3 433.7 L817.4 433.7 L817.4 433.7 L817.5 433.7 L817.5 433.7 L817.5 433.7 L817.6 433.7 L817.6 433.7 L817.7 433.7 L817.7 433.7 L817.8 433.7 L817.8 433.7 L817.9 433.7 L817.9 433.7 L818.0 433.7 L818.0 433.7 L818.0 433.7 L818.1 433.7 L818.1 433.7 L818.2 433.7 L818.2 433.7 L818.3 433.7 L818.3 433.7 L818.4 433.7 L818.4 433.7 L818.5 433.7 L818.5 433.7 L818.5 433.7 L818.6 433.7 L818.6 433.7 L818.7 433.7 L818.7 433.7 L818.8 433.7 L818.8 433.7 L818.9 433.7 L818.9 433.7 L819.0 433.7 L819.0 433.7 L819.0 433.7 L819.1 433.7 L819.1 433.6 L819.2 433.6 L819.2 433.5 L819.3 433.5 L819.3 433.4 L819.4 433.3 L819.4 433.2 L819.5 433.1 L819.5 433.0 L819.5 433.0 L819.6 432.9 L819.6 432.9 L819.7 432.9 L819.7 432.9 L819.8 433.0 L819.8 433.1 L819.9 433.2 L819.9 433.3 L820.0 433.3 L820.0 433.4 L820.0 433.5 L820.1 433.6 L820.1 433.6 L820.2 433.7 L820.2 433.7 L820.3 433.7 L820.3 433.7 L820.4 433.7 L820.4 433.7 L820.5 433.6 L820.5 433.6 L820.5 433.6 L820.6 433.6 L820.6 433.6 L820.7 433.7 L820.7 433.7 L820.8 433.7 L820.8 433.7 L820.9 433.7 L820.9 433.7 L821.0 433.7 L821.0 433.7 L821.0 433.7 L821.1 433.7 L821.1 433.7 L821.2 433.7 L821.2 433.7 L821.3 433.7 L821.3 433.7 L821.4 433.7 L821.4 433.7 L821.5 433.7 L821.5 433.7 L821.6 433.7 L821.6 433.7 L821.6 433.7 L821.7 433.6 L821.7 433.6 L821.8 433.6 L821.8 433.6 L821.9 433.6 L821.9 433.6 L822.0 433.6 L822.0 433.6 L822.1 433.6 L822.1 433.6 L822.1 433.7 L822.2 433.7 L822.2 433.7 L822.3 433.7 L822.3 433.7 L822.4 433.7 L822.4 433.7 L822.5 433.6 L822.5 433.6 L822.6 433.5 L822.6 433.5 L822.6 433.4 L822.7 433.4 L822.7 433.3 L822.8 433.3 L822.8 433.2 L822.9 433.2 L822.9 433.2 L823.0 433.2 L823.0 433.2 L823.1 433.2 L823.1 433.3 L823.1 433.3 L823.2 433.4 L823.2 433.4 L823.3 433.5 L823.3 433.5 L823.4 433.6 L823.4 433.5 L823.5 433.5 L823.5 433.4 L823.6 433.2 L823.6 432.9 L823.6 432.6 L823.7 432.3 L823.7 431.8 L823.8 431.4 L823.8 430.9 L823.9 430.5 L823.9 430.0 L824.0 429.7 L824.0 429.4 L824.1 429.1 L824.1 429.0 L824.1 429.0 L824.2 429.1 L824.2 429.4 L824.3 429.7 L824.3 430.1 L824.4 430.5 L824.4 431.0 L824.5 431.6 L824.5 432.0 L824.6 432.5 L824.6 432.9 L824.6 433.2 L824.7 433.4 L824.7 433.5 L824.8 433.6 L824.8 433.6 L824.9 433.5 L824.9 433.4 L825.0 433.2 L825.0 433.1 L825.1 433.0 L825.1 432.9 L825.1 432.9 L825.2 432.9 L825.2 432.9 L825.3 433.0 L825.3 433.1 L825.4 433.2 L825.4 433.3 L825.5 433.4 L825.5 433.5 L825.6 433.5 L825.6 433.5 L825.6 433.5 L825.7 433.4 L825.7 433.3 L825.8 433.1 L825.8 433.0 L825.9 432.8 L825.9 432.7 L826.0 432.6 L826.0 432.5 L826.1 432.5 L826.1 432.5 L826.1 432.5 L826.2 432.6 L826.2 432.7 L826.3 432.9 L826.3 433.0 L826.4 433.2 L826.4 433.3 L826.5 433.4 L826.5 433.5 L826.6 433.5 L826.6 433.5 L826.6 433.5 L826.7 433.5 L826.7 433.5 L826.8 433.5 L826.8 433.4 L826.9 433.4 L826.9 433.3 L827.0 433.3 L827.0 433.3 L827.1 433.3 L827.1 433.4 L827.1 433.4 L827.2 433.4 L827.2 433.5 L827.3 433.5 L827.3 433.5 L827.4 433.6 L827.4 433.6 L827.5 433.6 L827.5 433.6 L827.6 433.6 L827.6 433.6 L827.6 433.6 L827.7 433.5 L827.7 433.5 L827.8 433.5 L827.8 433.5 L827.9 433.6 L827.9 433.6 L828.0 433.6 L828.0 433.6 L828.1 433.6 L828.1 433.7 L828.2 433.7 L828.2 433.7 L828.2 433.6 L828.3 433.6 L828.3 433.6 L828.4 433.5 L828.4 433.5 L828.5 433.4 L828.5 433.4 L828.6 433.3 L828.6 433.3 L828.7 433.3 L828.7 433.2 L828.7 433.2 L828.8 433.2 L828.8 433.3 L828.9 433.3 L828.9 433.3 L829.0 433.3 L829.0 433.4 L829.1 433.4 L829.1 433.4 L829.2 433.4 L829.2 433.5 L829.2 433.5 L829.3 433.5 L829.3 433.5 L829.4 433.5 L829.4 433.5 L829.5 433.5 L829.5 433.6 L829.6 433.6 L829.6 433.6 L829.7 433.6 L829.7 433.6 L829.7 433.6 L829.8 433.7 L829.8 433.7 L829.9 433.7 L829.9 433.6 L830.0 433.6 L830.0 433.6 L830.1 433.6 L830.1 433.5 L830.2 433.5 L830.2 433.4 L830.2 433.4 L830.3 433.4 L830.3 433.4 L830.4 433.4 L830.4 433.4 L830.5 433.4 L830.5 433.5 L830.6 433.5 L830.6 433.5 L830.7 433.6 L830.7 433.6 L830.7 433.6 L830.8 433.6 L830.8 433.6 L830.9 433.6 L830.9 433.5 L831.0 433.5 L831.0 433.4 L831.1 433.3 L831.1 433.2 L831.2 433.1 L831.2 433.0 L831.2 432.9 L831.3 432.9 L831.3 432.8 L831.4 432.8 L831.4 432.9 L831.5 432.9 L831.5 433.0 L831.6 433.1 L831.6 433.1 L831.7 433.3 L831.7 433.4 L831.7 433.5 L831.8 433.5 L831.8 433.6 L831.9 433.6 L831.9 433.6 L832.0 433.6 L832.0 433.6 L832.1 433.5 L832.1 433.5 L832.2 433.4 L832.2 433.3 L832.2 433.2 L832.3 433.1 L832.3 433.0 L832.4 432.9 L832.4 432.9 L832.5 432.9 L832.5 432.9 L832.6 432.9 L832.6 433.0 L832.7 433.0 L832.7 433.1 L832.7 433.2 L832.8 433.3 L832.8 433.4 L832.9 433.5 L832.9 433.6 L833.0 433.6 L833.0 433.7 L833.1 433.7 L833.1 433.7 L833.2 433.7 L833.2 433.7 L833.2 433.6 L833.3 433.6 L833.3 433.5 L833.4 433.5 L833.4 433.5 L833.5 433.4 L833.5 433.4 L833.6 433.4 L833.6 433.4 L833.7 433.4 L833.7 433.5 L833.7 433.5 L833.8 433.5 L833.8 433.6 L833.9 433.6 L833.9 433.6 L834.0 433.7 L834.0 433.7 L834.1 433.7 L834.1 433.7 L834.2 433.7 L834.2 433.7 L834.2 433.7 L834.3 433.6 L834.3 433.6 L834.4 433.6 L834.4 433.6 L834.5 433.6 L834.5 433.6 L834.6 433.6 L834.6 433.6 L834.7 433.6 L834.7 433.6 L834.8 433.6 L834.8 433.6 L834.8 433.6 L834.9 433.6 L834.9 433.6 L835.0 433.5 L835.0 433.5 L835.1 433.5 L835.1 433.4 L835.2 433.4 L835.2 433.3 L835.3 433.2 L835.3 433.1 L835.3 433.1 L835.4 433.0 L835.4 433.0 L835.5 432.9 L835.5 432.9 L835.6 432.8 L835.6 432.8 L835.7 432.8 L835.7 432.8 L835.8 432.8 L835.8 432.9 L835.8 432.9 L835.9 433.0 L835.9 433.0 L836.0 433.1 L836.0 433.1 L836.1 433.2 L836.1 433.2 L836.2 433.3 L836.2 433.3 L836.3 433.3 L836.3 433.4 L836.3 433.4 L836.4 433.4 L836.4 433.4 L836.5 433.4 L836.5 433.4 L836.6 433.4 L836.6 433.4 L836.7 433.5 L836.7 433.5 L836.8 433.5 L836.8 433.5 L836.8 433.5 L836.9 433.5 L836.9 433.5 L837.0 433.6 L837.0 433.5 L837.1 433.5 L837.1 433.5 L837.2 433.5 L837.2 433.4 L837.3 433.3 L837.3 433.2 L837.3 433.0 L837.4 432.8 L837.4 432.6 L837.5 432.3 L837.5 432.0 L837.6 431.7 L837.6 431.4 L837.7 431.0 L837.7 430.7 L837.8 430.3 L837.8 430.0 L837.8 429.7 L837.9 429.4 L837.9 429.1 L838.0 428.9 L838.0 428.8 L838.1 428.7 L838.1 428.7 L838.2 428.7 L838.2 428.9 L838.3 429.0 L838.3 429.3 L838.3 429.5 L838.4 429.8 L838.4 430.1 L838.5 430.5 L838.5 430.8 L838.6 431.1 L838.6 431.3 L838.7 431.5 L838.7 431.6 L838.8 431.6 L838.8 431.5 L838.8 431.3 L838.9 431.0 L838.9 430.6 L839.0 430.2 L839.0 429.6 L839.1 429.1 L839.1 428.5 L839.2 427.9 L839.2 427.4 L839.3 426.9 L839.3 426.6 L839.3 426.3 L839.4 426.1 L839.4 426.1 L839.5 426.3 L839.5 426.6 L839.6 427.0 L839.6 427.6 L839.7 428.2 L839.7 428.9 L839.8 429.7 L839.8 430.4 L839.8 431.0 L839.9 431.4 L839.9 431.6 L840.0 431.6 L840.0 431.2 L840.1 430.3 L840.1 429.0 L840.2 427.2 L840.2 424.9 L840.3 422.0 L840.3 418.5 L840.3 414.5 L840.4 409.9 L840.4 404.9 L840.5 399.4 L840.5 393.6 L840.6 387.5 L840.6 381.1 L840.7 374.7 L840.7 368.2 L840.8 361.9 L840.8 355.7 L840.8 350.0 L840.9 344.6 L840.9 339.9 L841.0 335.8 L841.0 332.4 L841.1 329.8 L841.1 328.0 L841.2 327.1 L841.2 327.0 L841.3 327.8 L841.3 329.4 L841.4 331.7 L841.4 334.6 L841.4 338.2 L841.5 342.2 L841.5 346.7 L841.6 351.6 L841.6 356.6 L841.7 361.8 L841.7 367.1 L841.8 372.4 L841.8 377.6 L841.9 382.7 L841.9 387.5 L841.9 392.2 L842.0 396.5 L842.0 400.5 L842.1 404.2 L842.1 407.5 L842.2 410.5 L842.2 413.2 L842.3 415.5 L842.3 417.5 L842.4 419.2 L842.4 420.7 L842.4 422.0 L842.5 423.1 L842.5 424.1 L842.6 424.9 L842.6 425.6 L842.7 426.3 L842.7 426.9 L842.8 427.4 L842.8 427.9 L842.9 428.4 L842.9 428.9 L842.9 429.3 L843.0 429.6 L843.0 429.9 L843.1 430.2 L843.1 430.5 L843.2 430.6 L843.2 430.8 L843.3 430.8 L843.3 430.9 L843.4 430.8 L843.4 430.8 L843.4 430.7 L843.5 430.5 L843.5 430.4 L843.6 430.2 L843.6 430.0 L843.7 429.8 L843.7 429.7 L843.8 429.6 L843.8 429.5 L843.9 429.5 L843.9 429.5 L843.9 429.5 L844.0 429.6 L844.0 429.8 L844.1 430.0 L844.1 430.3 L844.2 430.6 L844.2 430.9 L844.3 431.2 L844.3 431.6 L844.4 431.9 L844.4 432.2 L844.4 432.5 L844.5 432.8 L844.5 433.1 L844.6 433.3 L844.6 433.4 L844.7 433.5 L844.7 433.6 L844.8 433.6 L844.8 433.6 L844.9 433.6 L844.9 433.5 L844.9 433.5 L845.0 433.4 L845.0 433.3 L845.1 433.2 L845.1 433.1 L845.2 433.0 L845.2 432.9 L845.3 432.9 L845.3 432.9 L845.4 432.9 L845.4 432.9 L845.4 432.9 L845.5 433.0 L845.5 433.1 L845.6 433.1 L845.6 433.2 L845.7 433.3 L845.7 433.4 L845.8 433.4 L845.8 433.5 L845.9 433.5 L845.9 433.5 L845.9 433.5 L846.0 433.4 L846.0 433.4 L846.1 433.3 L846.1 433.2 L846.2 433.0 L846.2 432.9 L846.3 432.8 L846.3 432.6 L846.4 432.5 L846.4 432.4 L846.4 432.3 L846.5 432.2 L846.5 432.2 L846.6 432.2 L846.6 432.2 L846.7 432.2 L846.7 432.3 L846.8 432.3 L846.8 432.5 L846.9 432.6 L846.9 432.7 L846.9 432.9 L847.0 433.0 L847.0 433.2 L847.1 433.3 L847.1 433.4 L847.2 433.6 L847.2 433.6 L847.3 433.7 L847.3 433.7 L847.4 433.7 L847.4 433.6 L847.4 433.6 L847.5 433.5 L847.5 433.3 L847.6 433.2 L847.6 433.0 L847.7 432.8 L847.7 432.6 L847.8 432.4 L847.8 432.2 L847.9 432.1 L847.9 431.9 L848.0 431.8 L848.0 431.7 L848.0 431.6 L848.1 431.6 L848.1 431.6 L848.2 431.6 L848.2 431.7 L848.3 431.7 L848.3 431.9 L848.4 432.0 L848.4 432.2 L848.5 432.4 L848.5 432.6 L848.5 432.8 L848.6 432.9 L848.6 433.1 L848.7 433.3 L848.7 433.4 L848.8 433.5 L848.8 433.6 L848.9 433.7 L848.9 433.7 L849.0 433.7 L849.0 433.7 L849.0 433.6 L849.1 433.5 L849.1 433.4 L849.2 433.3 L849.2 433.1 L849.3 433.0 L849.3 432.9 L849.4 432.7 L849.4 432.6 L849.5 432.4 L849.5 432.3 L849.5 432.3 L849.6 432.2 L849.6 432.2 L849.7 432.1 L849.7 432.2 L849.8 432.2 L849.8 432.3 L849.9 432.3 L849.9 432.4 L850.0 432.6 L850.0 432.7 L850.0 432.8 L850.1 432.9 L850.1 433.1 L850.2 433.2 L850.2 433.3 L850.3 433.3 L850.3 433.4 L850.4 433.4 L850.4 433.4 L850.5 433.4 L850.5 433.4 L850.5 433.3 L850.6 433.2 L850.6 433.1 L850.7 433.0 L850.7 432.8 L850.8 432.6 L850.8 432.5 L850.9 432.3 L850.9 432.1 L851.0 432.0 L851.0 431.8 L851.0 431.7 L851.1 431.6 L851.1 431.5 L851.2 431.4 L851.2 431.4 L851.3 431.3 L851.3 431.4 L851.4 431.4 L851.4 431.5 L851.5 431.6 L851.5 431.7 L851.5 431.8 L851.6 432.0 L851.6 432.1 L851.7 432.3 L851.7 432.5 L851.8 432.7 L851.8 432.8 L851.9 433.0 L851.9 433.2 L852.0 433.3 L852.0 433.4 L852.0 433.5 L852.1 433.6 L852.1 433.6 L852.2 433.7 L852.2 433.7 L852.3 433.7 L852.3 433.6 L852.4 433.6 L852.4 433.5 L852.5 433.4 L852.5 433.3 L852.5 433.2 L852.6 433.1 L852.6 433.0 L852.7 432.8 L852.7 432.7 L852.8 432.6 L852.8 432.6 L852.9 432.5 L852.9 432.4 L853.0 432.4 L853.0 432.4 L853.0 432.4 L853.1 432.4 L853.1 432.4 L853.2 432.4 L853.2 432.5 L853.3 432.6 L853.3 432.6 L853.4 432.7 L853.4 432.8 L853.5 432.9 L853.5 433.0 L853.5 433.1 L853.6 433.2 L853.6 433.3 L853.7 433.4 L853.7 433.5 L853.8 433.5 L853.8 433.6 L853.9 433.6 L853.9 433.6 L854.0 433.7 L854.0 433.7 L854.0 433.7 L854.1 433.7 L854.1 433.6 L854.2 433.6 L854.2 433.6 L854.3 433.6 L854.3 433.5 L854.4 433.5 L854.4 433.5 L854.5 433.4 L854.5 433.4 L854.6 433.4 L854.6 433.4 L854.6 433.3 L854.7 433.3 L854.7 433.3 L854.8 433.3 L854.8 433.4 L854.9 433.4 L854.9 433.4 L855.0 433.4 L855.0 433.4 L855.1 433.5 L855.1 433.5 L855.1 433.5 L855.2 433.6 L855.2 433.6 L855.3 433.6 L855.3 433.6 L855.4 433.6 L855.4 433.6 L855.5 433.6 L855.5 433.6 L855.6 433.6 L855.6 433.6 L855.6 433.5 L855.7 433.5 L855.7 433.5 L855.8 433.4 L855.8 433.4 L855.9 433.3 L855.9 433.3 L856.0 433.2 L856.0 433.2 L856.1 433.2 L856.1 433.1 L856.1 433.1 L856.2 433.1 L856.2 433.1 L856.3 433.0 L856.3 433.0 L856.4 433.0 L856.4 433.0 L856.5 433.0 L856.5 433.1 L856.6 433.1 L856.6 433.1 L856.6 433.1 L856.7 433.1 L856.7 433.2 L856.8 433.2 L856.8 433.2 L856.9 433.2 L856.9 433.2 L857.0 433.3 L857.0 433.3 L857.1 433.3 L857.1 433.3 L857.1 433.3 L857.2 433.3 L857.2 433.2 L857.3 433.2 L857.3 433.2 L857.4 433.2 L857.4 433.1 L857.5 433.1 L857.5 433.1 L857.6 433.0 L857.6 433.0 L857.6 433.0 L857.7 433.0 L857.7 433.0 L857.8 433.0 L857.8 433.0 L857.9 433.0 L857.9 433.0 L858.0 433.0 L858.0 433.0 L858.1 433.0 L858.1 433.1 L858.1 433.1 L858.2 433.2 L858.2 433.2 L858.3 433.3 L858.3 433.4 L858.4 433.4 L858.4 433.5 L858.5 433.5 L858.5 433.6 L858.6 433.6 L858.6 433.6 L858.6 433.7 L858.7 433.7 L858.7 433.7 L858.8 433.7 L858.8 433.6 L858.9 433.6 L858.9 433.6 L859.0 433.5 L859.0 433.4 L859.1 433.3 L859.1 433.2 L859.1 433.1 L859.2 433.0 L859.2 432.8 L859.3 432.7 L859.3 432.6 L859.4 432.4 L859.4 432.3 L859.5 432.2 L859.5 432.0 L859.6 431.9 L859.6 431.8 L859.6 431.7 L859.7 431.6 L859.7 431.5 L859.8 431.5 L859.8 431.4 L859.9 431.4 L859.9 431.4 L860.0 431.4 L860.0 431.4 L860.1 431.5 L860.1 431.5 L860.1 431.6 L860.2 431.6 L860.2 431.7 L860.3 431.8 L860.3 431.9 L860.4 432.0 L860.4 432.1 L860.5 432.1 L860.5 432.2 L860.6 432.3 L860.6 432.3 L860.6 432.4 L860.7 432.4 L860.7 432.4 L860.8 432.4 L860.8 432.4 L860.9 432.4 L860.9 432.3 L861.0 432.3 L861.0 432.2 L861.1 432.1 L861.1 432.0 L861.2 431.9 L861.2 431.8 L861.2 431.6 L861.3 431.5 L861.3 431.4 L861.4 431.3 L861.4 431.2 L861.5 431.1 L861.5 431.0 L861.6 430.9 L861.6 430.8 L861.7 430.8 L861.7 430.8 L861.7 430.8 L861.8 430.8 L861.8 430.9 L861.9 430.9 L861.9 431.0 L862.0 431.2 L862.0 431.3 L862.1 431.4 L862.1 431.6 L862.2 431.8 L862.2 432.0 L862.2 432.2 L862.3 432.4 L862.3 432.6 L862.4 432.8 L862.4 432.9 L862.5 433.1 L862.5 433.3 L862.6 433.4 L862.6 433.5 L862.7 433.6 L862.7 433.6 L862.7 433.7 L862.8 433.7 L862.8 433.6 L862.9 433.6 L862.9 433.5 L863.0 433.3 L863.0 433.2 L863.1 433.0 L863.1 432.8 L863.2 432.5 L863.2 432.3 L863.2 432.0 L863.3 431.7 L863.3 431.4 L863.4 431.1 L863.4 430.9 L863.5 430.6 L863.5 430.3 L863.6 430.1 L863.6 429.8 L863.7 429.7 L863.7 429.5 L863.7 429.4 L863.8 429.3 L863.8 429.2 L863.9 429.2 L863.9 429.3 L864.0 429.3 L864.0 429.5 L864.1 429.6 L864.1 429.8 L864.2 430.0 L864.2 430.2 L864.2 430.5 L864.3 430.8 L864.3 431.1 L864.4 431.4 L864.4 431.6 L864.5 431.9 L864.5 432.2 L864.6 432.4 L864.6 432.6 L864.7 432.8 L864.7 432.9 L864.7 433.0 L864.8 433.0 L864.8 433.0 L864.9 432.9 L864.9 432.8 L865.0 432.6 L865.0 432.3 L865.1 431.9 L865.1 431.5 L865.2 431.0 L865.2 430.5 L865.2 429.9 L865.3 429.3 L865.3 428.6 L865.4 428.0 L865.4 427.2 L865.5 426.5 L865.5 425.8 L865.6 425.1 L865.6 424.4 L865.7 423.8 L865.7 423.2 L865.7 422.7 L865.8 422.2 L865.8 421.8 L865.9 421.5 L865.9 421.3 L866.0 421.2 L866.0 421.1 L866.1 421.2 L866.1 421.4 L866.2 421.7 L866.2 422.1 L866.2 422.6 L866.3 423.2 L866.3 423.8 L866.4 424.5 L866.4 425.3 L866.5 426.0 L866.5 426.8 L866.6 427.6 L866.6 428.3 L866.7 429.0 L866.7 429.6 L866.7 430.1 L866.8 430.5 L866.8 430.6 L866.9 430.6 L866.9 430.4 L867.0 429.9 L867.0 429.1 L867.1 428.0 L867.1 426.5 L867.2 424.6 L867.2 422.4 L867.2 419.7 L867.3 416.6 L867.3 413.0 L867.4 408.9 L867.4 404.4 L867.5 399.3 L867.5 393.7 L867.6 387.6 L867.6 381.0 L867.7 373.9 L867.7 366.3 L867.8 358.3 L867.8 349.8 L867.8 340.9 L867.9 331.6 L867.9 322.0 L868.0 312.0 L868.0 301.8 L868.1 291.4 L868.1 280.9 L868.2 270.2 L868.2 259.4 L868.3 248.6 L868.3 237.9 L868.3 227.3 L868.4 216.8 L868.4 206.6 L868.5 196.6 L868.5 186.9 L868.6 177.6 L868.6 168.8 L868.7 160.3 L868.7 152.4 L868.8 145.0 L868.8 138.3 L868.8 132.1 L868.9 126.6 L868.9 121.7 L869.0 117.6 L869.0 114.2 L869.1 111.6 L869.1 109.7 L869.2 108.6 L869.2 108.2 L869.3 108.7 L869.3 109.9 L869.3 112.0 L869.4 114.7 L869.4 118.3 L869.5 122.6 L869.5 127.6 L869.6 133.3 L869.6 139.6 L869.7 146.6 L869.7 154.1 L869.8 162.2 L869.8 170.8 L869.8 179.8 L869.9 189.2 L869.9 199.0 L870.0 209.0 L870.0 219.2 L870.1 229.6 L870.1 240.0 L870.2 250.5 L870.2 261.0 L870.3 271.4 L870.3 281.6 L870.3 291.6 L870.4 301.3 L870.4 310.7 L870.5 319.7 L870.5 328.4 L870.6 336.6 L870.6 344.3 L870.7 351.5 L870.7 358.2 L870.8 364.3 L870.8 369.8 L870.8 374.8 L870.9 379.2 L870.9 383.1 L871.0 386.3 L871.0 389.0 L871.1 391.2 L871.1 392.8 L871.2 393.9 L871.2 394.5 L871.3 394.7 L871.3 394.5 L871.3 393.8 L871.4 392.8 L871.4 391.5 L871.5 389.8 L871.5 388.0 L871.6 385.9 L871.6 383.6 L871.7 381.1 L871.7 378.6 L871.8 375.9 L871.8 373.2 L871.8 370.6 L871.9 367.9 L871.9 365.3 L872.0 362.7 L872.0 360.3 L872.1 357.9 L872.1 355.8 L872.2 353.8 L872.2 352.0 L872.3 350.4 L872.3 349.0 L872.3 347.9 L872.4 347.0 L872.4 346.4 L872.5 346.0 L872.5 345.9 L872.6 346.1 L872.6 346.5 L872.7 347.2 L872.7 348.1 L872.8 349.3 L872.8 350.7 L872.8 352.4 L872.9 354.2 L872.9 356.3 L873.0 358.6 L873.0 361.0 L873.1 363.6 L873.1 366.3 L873.2 369.1 L873.2 372.0 L873.3 375.0 L873.3 378.1 L873.3 381.2 L873.4 384.4 L873.4 387.5 L873.5 390.6 L873.5 393.8 L873.6 396.8 L873.6 399.8 L873.7 402.7 L873.7 405.6 L873.8 408.3 L873.8 410.9 L873.8 413.4 L873.9 415.7 L873.9 418.0 L874.0 420.0 L874.0 421.9 L874.1 423.7 L874.1 425.3 L874.2 426.8 L874.2 428.1 L874.3 429.2 L874.3 430.2 L874.4 431.0 L874.4 431.8 L874.4 432.3 L874.5 432.7 L874.5 433.1 L874.6 433.3 L874.6 433.3 L874.7 433.3 L874.7 433.3 L874.8 433.1 L874.8 432.8 L874.9 432.6 L874.9 432.2 L874.9 431.8 L875.0 431.4 L875.0 431.0 L875.1 430.6 L875.1 430.1 L875.2 429.7 L875.2 429.3 L875.3 428.9 L875.3 428.5 L875.4 428.2 L875.4 427.9 L875.4 427.6 L875.5 427.4 L875.5 427.2 L875.6 427.1 L875.6 427.0 L875.7 427.0 L875.7 427.0 L875.8 427.0 L875.8 427.1 L875.9 427.3 L875.9 427.4 L875.9 427.6 L876.0 427.9 L876.0 428.2 L876.1 428.5 L876.1 428.8 L876.2 429.1 L876.2 429.5 L876.3 429.8 L876.3 430.2 L876.4 430.5 L876.4 430.9 L876.4 431.2 L876.5 431.5 L876.5 431.8 L876.6 432.1 L876.6 432.4 L876.7 432.6 L876.7 432.8 L876.8 433.0 L876.8 433.1 L876.9 433.2 L876.9 433.3 L876.9 433.3 L877.0 433.3 L877.0 433.2 L877.1 433.1 L877.1 433.0 L877.2 432.8 L877.2 432.6 L877.3 432.4 L877.3 432.1 L877.4 431.8 L877.4 431.5 L877.4 431.2 L877.5 430.8 L877.5 430.5 L877.6 430.1 L877.6 429.7 L877.7 429.3 L877.7 428.9 L877.8 428.5 L877.8 428.1 L877.9 427.7 L877.9 427.3 L877.9 427.0 L878.0 426.6 L878.0 426.3 L878.1 426.0 L878.1 425.8 L878.2 425.5 L878.2 425.3 L878.3 425.1 L878.3 425.0 L878.4 424.9 L878.4 424.8 L878.4 424.7 L878.5 424.7 L878.5 424.7 L878.6 424.7 L878.6 424.8 L878.7 424.9 L878.7 425.1 L878.8 425.2 L878.8 425.4 L878.9 425.6 L878.9 425.8 L878.9 426.0 L879.0 426.3 L879.0 426.6 L879.1 426.8 L879.1 427.1 L879.2 427.4 L879.2 427.7 L879.3 428.0 L879.3 428.3 L879.4 428.6 L879.4 428.8 L879.4 429.1 L879.5 429.3 L879.5 429.6 L879.6 429.8 L879.6 430.0 L879.7 430.2 L879.7 430.3 L879.8 430.5 L879.8 430.6 L879.9 430.7 L879.9 430.8 L879.9 430.8 L880.0 430.8 L880.0 430.8 L880.1 430.8 L880.1 430.7 L880.2 430.6 L880.2 430.5 L880.3 430.4 L880.3 430.2 L880.4 430.0 L880.4 429.9 L880.4 429.6 L880.5 429.4 L880.5 429.2 L880.6 428.9 L880.6 428.6 L880.7 428.4 L880.7 428.1 L880.8 427.8 L880.8 427.5 L880.9 427.2 L880.9 427.0 L881.0 426.7 L881.0 426.4 L881.0 426.2 L881.1 425.9 L881.1 425.7 L881.2 425.5 L881.2 425.3 L881.3 425.1 L881.3 425.0 L881.4 424.8 L881.4 424.7 L881.5 424.7 L881.5 424.6 L881.5 424.6 L881.6 424.5 L881.6 424.6 L881.7 424.6 L881.7 424.7 L881.8 424.8 L881.8 424.9 L881.9 425.0 L881.9 425.2 L882.0 425.3 L882.0 425.5 L882.0 425.8 L882.1 426.0 L882.1 426.2 L882.2 426.5 L882.2 426.8 L882.3 427.1 L882.3 427.3 L882.4 427.7 L882.4 428.0 L882.5 428.3 L882.5 428.6 L882.5 428.9 L882.6 429.2 L882.6 429.5 L882.7 429.8 L882.7 430.2 L882.8 430.5 L882.8 430.7 L882.9 431.0 L882.9 431.3 L883.0 431.6 L883.0 431.8 L883.0 432.0 L883.1 432.3 L883.1 432.5 L883.2 432.7 L883.2 432.8 L883.3 433.0 L883.3 433.1 L883.4 433.3 L883.4 433.4 L883.5 433.5 L883.5 433.5 L883.5 433.6 L883.6 433.6 L883.6 433.7 L883.7 433.7 L883.7 433.7 L883.8 433.6 L883.8 433.6 L883.9 433.6 L883.9 433.5 L884.0 433.4 L884.0 433.4 L884.0 433.3 L884.1 433.2 L884.1 433.1 L884.2 432.9 L884.2 432.8 L884.3 432.7 L884.3 432.6 L884.4 432.5 L884.4 432.3 L884.5 432.2 L884.5 432.1 L884.5 432.0 L884.6 431.8 L884.6 431.7 L884.7 431.6 L884.7 431.5 L884.8 431.4 L884.8 431.3 L884.9 431.3 L884.9 431.2 L885.0 431.1 L885.0 431.1 L885.0 431.0 L885.1 431.0 L885.1 431.0 L885.2 431.0 L885.2 431.0 L885.3 431.0 L885.3 431.0 L885.4 431.0 L885.4 431.1 L885.5 431.1 L885.5 431.1 L885.5 431.2 L885.6 431.3 L885.6 431.3 L885.7 431.4 L885.7 431.5 L885.8 431.6 L885.8 431.7 L885.9 431.8 L885.9 431.9 L886.0 431.9 L886.0 432.0 L886.0 432.1 L886.1 432.2 L886.1 432.3 L886.2 432.4 L886.2 432.5 L886.3 432.6 L886.3 432.7 L886.4 432.8 L886.4 432.9 L886.5 433.0 L886.5 433.0 L886.5 433.1 L886.6 433.2 L886.6 433.2 L886.7 433.3 L886.7 433.3 L886.8 433.4 L886.8 433.4 L886.9 433.4 L886.9 433.4 L887.0 433.4 L887.0 433.4 L887.0 433.4 L887.1 433.4 L887.1 433.4 L887.2 433.4 L887.2 433.3 L887.3 433.3 L887.3 433.3 L887.4 433.2 L887.4 433.2 L887.5 433.1 L887.5 433.1 L887.6 433.0 L887.6 432.9 L887.6 432.9 L887.7 432.8 L887.7 432.7 L887.8 432.6 L887.8 432.6 L887.9 432.5 L887.9 432.4 L888.0 432.4 L888.0 432.3 L888.1 432.2 L888.1 432.1 L888.1 432.1 L888.2 432.0 L888.2 432.0 L888.3 431.9 L888.3 431.9 L888.4 431.8 L888.4 431.8 L888.5 431.7 L888.5 431.7 L888.6 431.7 L888.6 431.7 L888.6 431.7 L888.7 431.7 L888.7 431.7 L888.8 431.7 L888.8 431.7 L888.9 431.7 L888.9 431.7 L889.0 431.7 L889.0 431.8 L889.1 431.8 L889.1 431.8 L889.1 431.9 L889.2 431.9 L889.2 432.0 L889.3 432.0 L889.3 432.1 L889.4 432.1 L889.4 432.2 L889.5 432.3 L889.5 432.3 L889.6 432.4 L889.6 432.5 L889.6 432.5 L889.7 432.6 L889.7 432.7 L889.8 432.8 L889.8 432.8 L889.9 432.9 L889.9 432.9 L890.0 433.0 L890.0 433.1 L890.1 433.1 L890.1 433.2 L890.1 433.2 L890.2 433.3 L890.2 433.3 L890.3 433.4 L890.3 433.4 L890.4 433.4 L890.4 433.4 L890.5 433.5 L890.5 433.5 L890.6 433.5 L890.6 433.5 L890.6 433.5 L890.7 433.5 L890.7 433.5 L890.8 433.5 L890.8 433.4 L890.9 433.4 L890.9 433.4 L891.0 433.3 L891.0 433.3 L891.1 433.3 L891.1 433.2 L891.1 433.1 L891.2 433.1 L891.2 433.0 L891.3 433.0 L891.3 432.9 L891.4 432.8 L891.4 432.8 L891.5 432.7 L891.5 432.6 L891.6 432.5 L891.6 432.5 L891.6 432.4 L891.7 432.3 L891.7 432.2 L891.8 432.1 L891.8 432.1 L891.9 432.0 L891.9 431.9 L892.0 431.9 L892.0 431.8 L892.1 431.7 L892.1 431.7 L892.1 431.6 L892.2 431.5 L892.2 431.5 L892.3 431.4 L892.3 431.4 L892.4 431.3 L892.4 431.3 L892.5 431.3 L892.5 431.2 L892.6 431.2 L892.6 431.2 L892.6 431.2 L892.7 431.2 L892.7 431.2 L892.8 431.2 L892.8 431.2 L892.9 431.2 L892.9 431.2 L893.0 431.2 L893.0 431.2 L893.1 431.2 L893.1 431.3 L893.1 431.3 L893.2 431.3 L893.2 431.4 L893.3 431.4 L893.3 431.4 L893.4 431.5 L893.4 431.5 L893.5 431.6 L893.5 431.7 L893.6 431.7 L893.6 431.8 L893.6 431.8 L893.7 431.9 L893.7 432.0 L893.8 432.0 L893.8 432.1 L893.9 432.2 L893.9 432.2 L894.0 432.3 L894.0 432.3 L894.1 432.4 L894.1 432.5 L894.2 432.5 L894.2 432.6 L894.2 432.7 L894.3 432.7 L894.3 432.8 L894.4 432.8 L894.4 432.9 L894.5 432.9 L894.5 433.0 L894.6 433.0 L894.6 433.1 L894.7 433.1 L894.7 433.2 L894.7 433.2 L894.8 433.2 L894.8 433.3 L894.9 433.3 L894.9 433.3 L895.0 433.4 L895.0 433.4 L895.1 433.4 L895.1 433.4 L895.2 433.4 L895.2 433.5 L895.2 433.5 L895.3 433.5 L895.3 433.5 L895.4 433.5 L895.4 433.5 L895.5 433.5 L895.5 433.5 L895.6 433.5 L895.6 433.5 L895.7 433.4 L895.7 433.4 L895.7 433.4 L895.8 433.4 L895.8 433.4 L895.9 433.4 L895.9 433.3 L896.0 433.3 L896.0 433.3 L896.1 433.3 L896.1 433.3 L896.2 433.2 L896.2 433.2 L896.2 433.2 L896.3 433.2 L896.3 433.2 L896.4 433.1 L896.4 433.1 L896.5 433.1 L896.5 433.1 L896.6 433.1 L896.6 433.1 L896.7 433.0 L896.7 433.0 L896.7 433.0 L896.8 433.0 L896.8 433.0 L896.9 433.0 L896.9 433.0 L897.0 433.0 L897.0 433.0 L897.1 433.0 L897.1 433.0 L897.2 433.0 L897.2 433.0 L897.2 433.0 L897.3 433.0 L897.3 433.0 L897.4 433.0 L897.4 433.0 L897.5 433.0 L897.5 433.1 L897.6 433.1 L897.6 433.1 L897.7 433.1 L897.7 433.1 L897.7 433.1 L897.8 433.2 L897.8 433.2 L897.9 433.2 L897.9 433.2 L898.0 433.3 L898.0 433.3 L898.1 433.3 L898.1 433.3 L898.2 433.3 L898.2 433.4 L898.2 433.4 L898.3 433.4 L898.3 433.4 L898.4 433.5 L898.4 433.5 L898.5 433.5 L898.5 433.5 L898.6 433.5 L898.6 433.6 L898.7 433.6 L898.7 433.6 L898.7 433.6 L898.8 433.6 L898.8 433.6 L898.9 433.6 L898.9 433.7 L899.0 433.7 L899.0 433.7 L899.1 433.7 L899.1 433.7 L899.2 433.7 L899.2 433.7 L899.2 433.7 L899.3 433.7 L899.3 433.7 L899.4 433.7 L899.4 433.7 L899.5 433.7 L899.5 433.7 L899.6 433.6 L899.6 433.6 L899.7 433.6 L899.7 433.6 L899.7 433.6 L899.8 433.6 L899.8 433.5 L899.9 433.5 L899.9 433.5 L900.0 433.5 L900.0 433.5 L900.1 433.4 L900.1 433.4 L900.2 433.4 L900.2 433.4 L900.2 433.3 L900.3 433.3 L900.3 433.3 L900.4 433.2 L900.4 433.2 L900.5 433.2 L900.5 433.2 L900.6 433.1 L900.6 433.1 L900.7 433.1 L900.7 433.0 L900.8 433.0 L900.8 433.0 L900.8 433.0 L900.9 432.9 L900.9 432.9 L901.0 432.9 L901.0 432.9 L901.1 432.8 L901.1 432.8 L901.2 432.8 L901.2 432.8 L901.3 432.8 L901.3 432.7 L901.3 432.7 L901.4 432.7 L901.4 432.7 L901.5 432.7 L901.5 432.7 L901.6 432.7 L901.6 432.7 L901.7 432.7 L901.7 432.7 L901.8 432.7 L901.8 432.7 L901.8 432.7 L901.9 432.7 L901.9 432.7 L902.0 432.7 L902.0 432.7 L902.1 432.7 L902.1 432.7 L902.2 432.7 L902.2 432.7 L902.3 432.8 L902.3 432.8 L902.3 432.8 L902.4 432.8 L902.4 432.8 L902.5 432.9 L902.5 432.9 L902.6 432.9 L902.6 432.9 L902.7 432.9 L902.7 433.0 L902.8 433.0 L902.8 433.0 L902.8 433.0 L902.9 433.1 L902.9 433.1 L903.0 433.1 L903.0 433.1 L903.1 433.2 L903.1 433.2 L903.2 433.2 L903.2 433.2 L903.3 433.3 L903.3 433.3 L903.3 433.3 L903.4 433.3 L903.4 433.3 L903.5 433.4 L903.5 433.4 L903.6 433.4 L903.6 433.4 L903.7 433.4 L903.7 433.4 L903.8 433.5 L903.8 433.5 L903.8 433.5 L903.9 433.5 L903.9 433.5 L904.0 433.5 L904.0 433.5 L904.1 433.5 L904.1 433.5 L904.2 433.5 L904.2 433.6 L904.3 433.6 L904.3 433.6 L904.3 433.6 L904.4 433.6 L904.4 433.5 L904.5 433.5 L904.5 433.5 L904.6 433.5 L904.6 433.5 L904.7 433.5 L904.7 433.5 L904.8 433.5 L904.8 433.5 L904.8 433.5 L904.9 433.4 L904.9 433.4 L905.0 433.4 L905.0 433.4 L905.1 433.4 L905.1 433.3 L905.2 433.3 L905.2 433.3 L905.3 433.3 L905.3 433.2 L905.3 433.2 L905.4 433.2 L905.4 433.2 L905.5 433.1 L905.5 433.1 L905.6 433.1 L905.6 433.0 L905.7 433.0 L905.7 433.0 L905.8 433.0 L905.8 432.9 L905.8 432.9 L905.9 432.9 L905.9 432.8 L906.0 432.8 L906.0 432.8 L906.1 432.7 L906.1 432.7 L906.2 432.7 L906.2 432.7 L906.3 432.6 L906.3 432.6 L906.3 432.6 L906.4 432.6 L906.4 432.5 L906.5 432.5 L906.5 432.5 L906.6 432.5 L906.6 432.4 L906.7 432.4 L906.7 432.4 L906.8 432.4 L906.8 432.4 L906.8 432.4 L906.9 432.3 L906.9 432.3 L907.0 432.3 L907.0 432.3 L907.1 432.3 L907.1 432.3 L907.2 432.3 L907.2 432.3 L907.3 432.3 L907.3 432.3 L907.4 432.3 L907.4 432.3 L907.4 432.3 L907.5 432.3 L907.5 432.3 L907.6 432.3 L907.6 432.3 L907.7 432.3 L907.7 432.3 L907.8 432.3 L907.8 432.3 L907.9 432.3 L907.9 432.3 L907.9 432.3 L908.0 432.4 L908.0 432.4 L908.1 432.4 L908.1 432.4 L908.2 432.4 L908.2 432.4 L908.3 432.4 L908.3 432.4 L908.4 432.5 L908.4 432.5 L908.4 432.5 L908.5 432.5 L908.5 432.5 L908.6 432.5 L908.6 432.5 L908.7 432.6 L908.7 432.6 L908.8 432.6 L908.8 432.6 L908.9 432.6 L908.9 432.6 L908.9 432.6 L909.0 432.7 L909.0 432.7 L909.1 432.7 L909.1 432.7 L909.2 432.7 L909.2 432.7 L909.3 432.7 L909.3 432.7 L909.4 432.8 L909.4 432.8 L909.4 432.8 L909.5 432.8 L909.5 432.8 L909.6 432.8 L909.6 432.8 L909.7 432.8 L909.7 432.8 L909.8 432.8 L909.8 432.8 L909.9 432.8 L909.9 432.8 L909.9 432.8 L910.0 432.8 L910.0 432.8 L910.1 432.8 L910.1 432.8 L910.2 432.8 L910.2 432.8 L910.3 432.8 L910.3 432.8 L910.4 432.8 L910.4 432.8 L910.4 432.8 L910.5 432.7 L910.5 432.7 L910.6 432.7 L910.6 432.7 L910.7 432.7 L910.7 432.7 L910.8 432.7 L910.8 432.6 L910.9 432.6 L910.9 432.6 L910.9 432.6 L911.0 432.6 L911.0 432.5 L911.1 432.5 L911.1 432.5 L911.2 432.5 L911.2 432.4 L911.3 432.4 L911.3 432.4 L911.4 432.4 L911.4 432.3 L911.4 432.3 L911.5 432.3 L911.5 432.2 L911.6 432.2 L911.6 432.2 L911.7 432.2 L911.7 432.1 L911.8 432.1 L911.8 432.1 L911.9 432.0 L911.9 432.0 L911.9 432.0 L912.0 431.9 L912.0 431.9 L912.1 431.9 L912.1 431.9 L912.2 431.8 L912.2 431.8 L912.3 431.8 L912.3 431.7 L912.4 431.7 L912.4 431.7 L912.4 431.7 L912.5 431.6 L912.5 431.6 L912.6 431.6 L912.6 431.6 L912.7 431.5 L912.7 431.5 L912.8 431.5 L912.8 431.5 L912.9 431.4 L912.9 431.4 L912.9 431.4 L913.0 431.4 L913.0 431.4 L913.1 431.3 L913.1 431.3 L913.2 431.3 L913.2 431.3 L913.3 431.3 L913.3 431.3 L913.4 431.3 L913.4 431.2 L913.4 431.2 L913.5 431.2 L913.5 431.2 L913.6 431.2 L913.6 431.2 L913.7 431.2 L913.7 431.2 L913.8 431.2 L913.8 431.2 L913.9 431.2 L913.9 431.2 L914.0 431.2 L914.0 431.2 L914.0 431.2 L914.1 431.2 L914.1 431.2 L914.2 431.2 L914.2 431.2 L914.3 431.2 L914.3 431.2 L914.4 431.2 L914.4 431.2 L914.5 431.2 L914.5 431.2 L914.5 431.2 L914.6 431.2 L914.6 431.2 L914.7 431.2 L914.7 431.2 L914.8 431.2 L914.8 431.2 L914.9 431.2 L914.9 431.2 L915.0 431.2 L915.0 431.2 L915.0 431.2 L915.1 431.2 L915.1 431.2 L915.2 431.2 L915.2 431.2 L915.3 431.2 L915.3 431.2 L915.4 431.2 L915.4 431.2 L915.5 431.2 L915.5 431.2 L915.5 431.2 L915.6 431.2 L915.6 431.2 L915.7 431.2 L915.7 431.2 L915.8 431.2 L915.8 431.2 L915.9 431.2 L915.9 431.2 L916.0 431.2 L916.0 431.2 L916.0 431.2 L916.1 431.2 L916.1 431.2 L916.2 431.2 L916.2 431.2 L916.3 431.2 L916.3 431.2 L916.4 431.2 L916.4 431.1 L916.5 431.1 L916.5 431.1 L916.5 431.1 L916.6 431.1 L916.6 431.1 L916.7 431.1 L916.7 431.1 L916.8 431.1 L916.8 431.1 L916.9 431.0 L916.9 431.0 L917.0 431.0 L917.0 431.0 L917.0 431.0 L917.1 431.0 L917.1 431.0 L917.2 431.0 L917.2 430.9 L917.3 430.9 L917.3 430.9 L917.4 430.9 L917.4 430.9 L917.5 430.9 L917.5 430.9 L917.5 430.8 L917.6 430.8 L917.6 430.8 L917.7 430.8 L917.7 430.8 L917.8 430.8 L917.8 430.8 L917.9 430.7 L917.9 430.7 L918.0 430.7 L918.0 430.7 L918.0 430.7 L918.1 430.7 L918.1 430.7 L918.2 430.6 L918.2 430.6 L918.3 430.6 L918.3 430.6 L918.4 430.6 L918.4 430.6 L918.5 430.6 L918.5 430.5 L918.5 430.5 L918.6 430.5 L918.6 430.5 L918.7 430.5 L918.7 430.5 L918.8 430.5 L918.8 430.5 L918.9 430.4 L918.9 430.4 L919.0 430.4 L919.0 430.4 L919.0 430.4 L919.1 430.4 L919.1 430.4 L919.2 430.4 L919.2 430.4 L919.3 430.4 L919.3 430.4 L919.4 430.4 L919.4 430.3 L919.5 430.3 L919.5 430.3 L919.5 430.3 L919.6 430.3 L919.6 430.3 L919.7 430.3 L919.7 430.3 L919.8 430.3 L919.8 430.3 L919.9 430.3 L919.9 430.3 L920.0 430.3 L920.0 430.4 L920.0 430.4 L920.1 430.4 L920.1 430.4 L920.2 430.4 L920.2 430.4 L920.3 430.4 L920.3 430.4 L920.4 430.4 L920.4 430.4 L920.5 430.5 L920.5 430.5 L920.6 430.5 L920.6 430.5 L920.6 430.5 L920.7 430.6 L920.7 430.6 L920.8 430.6 L920.8 430.6 L920.9 430.6 L920.9 430.7 L921.0 430.7 L921.0 430.7 L921.1 430.8 L921.1 430.8 L921.1 430.8 L921.2 430.8 L921.2 430.9 L921.3 430.9 L921.3 430.9 L921.4 431.0 L921.4 431.0 L921.5 431.0 L921.5 431.1 L921.6 431.1 L921.6 431.2 L921.6 431.2 L921.7 431.2 L921.7 431.3 L921.8 431.3 L921.8 431.4 L921.9 431.4 L921.9 431.4 L922.0 431.5 L922.0 431.5 L922.1 431.6 L922.1 431.6 L922.1 431.6 L922.2 431.7 L922.2 431.7 L922.3 431.8 L922.3 431.8 L922.4 431.8 L922.4 431.9 L922.5 431.9 L922.5 432.0 L922.6 432.0 L922.6 432.0 L922.6 432.1 L922.7 432.1 L922.7 432.2 L922.8 432.2 L922.8 432.2 L922.9 432.3 L922.9 432.3 L923.0 432.4 L923.0 432.4 L923.1 432.4 L923.1 432.5 L923.1 432.5 L923.2 432.5 L923.2 432.6 L923.3 432.6 L923.3 432.6 L923.4 432.6 L923.4 432.7 L923.5 432.7 L923.5 432.7 L923.6 432.8 L923.6 432.8 L923.6 432.8 L923.7 432.8 L923.7 432.8 L923.8 432.9 L923.8 432.9 L923.9 432.9 L923.9 432.9 L924.0 432.9 L924.0 433.0 L924.1 433.0 L924.1 433.0 L924.1 433.0 L924.2 433.0 L924.2 433.0 L924.3 433.0 L924.3 433.0 L924.4 433.0 L924.4 433.0 L924.5 433.1 L924.5 433.1 L924.6 433.1 L924.6 433.1 L924.6 433.1 L924.7 433.1 L924.7 433.1 L924.8 433.1 L924.8 433.1 L924.9 433.0 L924.9 433.0 L925.0 433.0 L925.0 433.0 L925.1 433.0 L925.1 433.0 L925.1 433.0 L925.2 433.0 L925.2 433.0 L925.3 433.0 L925.3 432.9 L925.4 432.9 L925.4 432.9 L925.5 432.9 L925.5 432.9 L925.6 432.8 L925.6 432.8 L925.6 432.8 L925.7 432.8 L925.7 432.8 L925.8 432.7 L925.8 432.7 L925.9 432.7 L925.9 432.7 L926.0 432.6 L926.0 432.6 L926.1 432.6 L926.1 432.6 L926.1 432.5 L926.2 432.5 L926.2 432.5 L926.3 432.4 L926.3 432.4 L926.4 432.4 L926.4 432.3 L926.5 432.3 L926.5 432.3 L926.6 432.2 L926.6 432.2 L926.6 432.2 L926.7 432.1 L926.7 432.1 L926.8 432.1 L926.8 432.0 L926.9 432.0 L926.9 431.9 L927.0 431.9 L927.0 431.9 L927.1 431.8 L927.1 431.8 L927.2 431.8 L927.2 431.7 L927.2 431.7 L927.3 431.6 L927.3 431.6 L927.4 431.6 L927.4 431.5 L927.5 431.5 L927.5 431.4 L927.6 431.4 L927.6 431.4 L927.7 431.3 L927.7 431.3 L927.7 431.3 L927.8 431.2 L927.8 431.2 L927.9 431.1 L927.9 431.1 L928.0 431.1 L928.0 431.0 L928.1 431.0 L928.1 431.0 L928.2 430.9 L928.2 430.9 L928.2 430.9 L928.3 430.8 L928.3 430.8 L928.4 430.8 L928.4 430.7 L928.5 430.7 L928.5 430.7 L928.6 430.6 L928.6 430.6 L928.7 430.6 L928.7 430.6 L928.7 430.5 L928.8 430.5 L928.8 430.5 L928.9 430.5 L928.9 430.4 L929.0 430.4 L929.0 430.4 L929.1 430.4 L929.1 430.4 L929.2 430.4 L929.2 430.3 L929.2 430.3 L929.3 430.3 L929.3 430.3 L929.4 430.3 L929.4 430.3 L929.5 430.3 L929.5 430.2 L929.6 430.2 L929.6 430.2 L929.7 430.2 L929.7 430.2 L929.7 430.2 L929.8 430.2 L929.8 430.2 L929.9 430.2 L929.9 430.2 L930.0 430.2 L930.0 430.2 L930.1 430.2 L930.1 430.2 L930.2 430.2 L930.2 430.2 L930.2 430.2 L930.3 430.2 L930.3 430.3 L930.4 430.3 L930.4 430.3 L930.5 430.3 L930.5 430.3 L930.6 430.3 L930.6 430.3 L930.7 430.4 L930.7 430.4 L930.7 430.4 L930.8 430.4 L930.8 430.4 L930.9 430.4 L930.9 430.5 L931.0 430.5 L931.0 430.5 L931.1 430.5 L931.1 430.6 L931.2 430.6 L931.2 430.6 L931.2 430.6 L931.3 430.7 L931.3 430.7 L931.4 430.7 L931.4 430.7 L931.5 430.8 L931.5 430.8 L931.6 430.8 L931.6 430.9 L931.7 430.9 L931.7 430.9 L931.7 430.9 L931.8 431.0 L931.8 431.0 L931.9 431.0 L931.9 431.1 L932.0 431.1 L932.0 431.1 L932.1 431.2 L932.1 431.2 L932.2 431.2 L932.2 431.3 L932.2 431.3 L932.3 431.3 L932.3 431.4 L932.4 431.4 L932.4 431.4 L932.5 431.5 L932.5 431.5 L932.6 431.5 L932.6 431.6 L932.7 431.6 L932.7 431.6 L932.7 431.7 L932.8 431.7 L932.8 431.7 L932.9 431.8 L932.9 431.8 L933.0 431.8 L933.0 431.8 L933.1 431.9 L933.1 431.9 L933.2 431.9 L933.2 432.0 L933.2 432.0 L933.3 432.0 L933.3 432.0 L933.4 432.1 L933.4 432.1 L933.5 432.1 L933.5 432.2 L933.6 432.2 L933.6 432.2 L933.7 432.2 L933.7 432.2 L933.8 432.3 L933.8 432.3 L933.8 432.3 L933.9 432.3 L933.9 432.4 L934.0 432.4 L934.0 432.4 L934.1 432.4 L934.1 432.4 L934.2 432.4 L934.2 432.5 L934.3 432.5 L934.3 432.5 L934.3 432.5 L934.4 432.5 L934.4 432.5 L934.5 432.5 L934.5 432.6 L934.6 432.6 L934.6 432.6 L934.7 432.6 L934.7 432.6 L934.8 432.6 L934.8 432.6 L934.8 432.6 L934.9 432.6 L934.9 432.6 L935.0 432.6 L935.0 432.7 L935.1 432.7 L935.1 432.7 L935.2 432.7 L935.2 432.7 L935.3 432.7 L935.3 432.7 L935.3 432.7 L935.4 432.7 L935.4 432.7 L935.5 432.7 L935.5 432.7 L935.6 432.7 L935.6 432.7 L935.7 432.7 L935.7 432.7 L935.8 432.6 L935.8 432.6 L935.8 432.6 L935.9 432.6 L935.9 432.6 L936.0 432.6 L936.0 432.6 L936.1 432.6 L936.1 432.6 L936.2 432.6 L936.2 432.6 L936.3 432.6 L936.3 432.5 L936.3 432.5 L936.4 432.5 L936.4 432.5 L936.5 432.5 L936.5 432.5 L936.6 432.5 L936.6 432.4 L936.7 432.4 L936.7 432.4 L936.8 432.4 L936.8 432.4 L936.8 432.4 L936.9 432.3 L936.9 432.3 L937.0 432.3 L937.0 432.3 L937.1 432.3 L937.1 432.2 L937.2 432.2 L937.2 432.2 L937.3 432.2 L937.3 432.2 L937.3 432.1 L937.4 432.1 L937.4 432.1 L937.5 432.1 L937.5 432.0 L937.6 432.0 L937.6 432.0 L937.7 432.0 L937.7 431.9 L937.8 431.9 L937.8 431.9 L937.8 431.9 L937.9 431.8 L937.9 431.8 L938.0 431.8 L938.0 431.8 L938.1 431.7 L938.1 431.7 L938.2 431.7 L938.2 431.7 L938.3 431.6 L938.3 431.6 L938.3 431.6 L938.4 431.6 L938.4 431.5 L938.5 431.5 L938.5 431.5 L938.6 431.4 L938.6 431.4 L938.7 431.4 L938.7 431.4 L938.8 431.3 L938.8 431.3 L938.8 431.3 L938.9 431.3 L938.9 431.2 L939.0 431.2 L939.0 431.2 L939.1 431.2 L939.1 431.1 L939.2 431.1 L939.2 431.1 L939.3 431.1 L939.3 431.0 L939.3 431.0 L939.4 431.0 L939.4 431.0 L939.5 430.9 L939.5 430.9 L939.6 430.9 L939.6 430.9 L939.7 430.8 L939.7 430.8 L939.8 430.8 L939.8 430.8 L939.8 430.8 L939.9 430.7 L939.9 430.7 L940.0 430.7 L940.0 430.7 L940.1 430.7 L940.1 430.7 L940.2 430.6 L940.2 430.6 L940.3 430.6 L940.3 430.6 L940.4 430.6 L940.4 430.6 L940.4 430.6 L940.5 430.5 L940.5 430.5 L940.6 430.5 L940.6 430.5 L940.7 430.5 L940.7 430.5 L940.8 430.5 L940.8 430.5 L940.9 430.5 L940.9 430.5 L940.9 430.5 L941.0 430.5 L941.0 430.5 L941.1 430.4 L941.1 430.4 L941.2 430.4 L941.2 430.4 L941.3 430.4 L941.3 430.4 L941.4 430.4 L941.4 430.4 L941.4 430.4 L941.5 430.4 L941.5 430.5 L941.6 430.5 L941.6 430.5 L941.7 430.5 L941.7 430.5 L941.8 430.5 L941.8 430.5 L941.9 430.5 L941.9 430.5 L941.9 430.5 L942.0 430.5 L942.0 430.5 L942.1 430.5 L942.1 430.6 L942.2 430.6 L942.2 430.6 L942.3 430.6 L942.3 430.6 L942.4 430.6 L942.4 430.6 L942.4 430.7 L942.5 430.7 L942.5 430.7 L942.6 430.7 L942.6 430.7 L942.7 430.7 L942.7 430.8 L942.8 430.8 L942.8 430.8 L942.9 430.8 L942.9 430.8 L942.9 430.9 L943.0 430.9 L943.0 430.9 L943.1 430.9 L943.1 431.0 L943.2 431.0 L943.2 431.0 L943.3 431.0 L943.3 431.0 L943.4 431.1 L943.4 431.1 L943.4 431.1 L943.5 431.1 L943.5 431.2 L943.6 431.2 L943.6 431.2 L943.7 431.2 L943.7 431.3 L943.8 431.3 L943.8 431.3 L943.9 431.3 L943.9 431.4 L943.9 431.4 L944.0 431.4 L944.0 431.4 L944.1 431.5 L944.1 431.5 L944.2 431.5 L944.2 431.5 L944.3 431.6 L944.3 431.6 L944.4 431.6 L944.4 431.6 L944.4 431.7 L944.5 431.7 L944.5 431.7 L944.6 431.7 L944.6 431.8 L944.7 431.8 L944.7 431.8 L944.8 431.8 L944.8 431.9 L944.9 431.9 L944.9 431.9 L944.9 431.9 L945.0 431.9 L945.0 432.0 L945.1 432.0 L945.1 432.0 L945.2 432.0 L945.2 432.0 L945.3 432.1 L945.3 432.1 L945.4 432.1 L945.4 432.1 L945.4 432.1 L945.5 432.2 L945.5 432.2 L945.6 432.2 L945.6 432.2 L945.7 432.2 L945.7 432.2 L945.8 432.2 L945.8 432.3 L945.9 432.3 L945.9 432.3 L945.9 432.3 L946.0 432.3 L946.0 432.3 L946.1 432.3 L946.1 432.3 L946.2 432.4 L946.2 432.4 L946.3 432.4 L946.3 432.4 L946.4 432.4 L946.4 432.4 L946.4 432.4 L946.5 432.4 L946.5 432.4 L946.6 432.4 L946.6 432.4 L946.7 432.4 L946.7 432.4 L946.8 432.4 L946.8 432.4 L946.9 432.4 L946.9 432.4 L947.0 432.4 L947.0 432.4 L947.0 432.4 L947.1 432.4 L947.1 432.4 L947.2 432.4 L947.2 432.4 L947.3 432.4 L947.3 432.4 L947.4 432.4 L947.4 432.4 L947.5 432.4 L947.5 432.4 L947.5 432.3 L947.6 432.3 L947.6 432.3 L947.7 432.3 L947.7 432.3 L947.8 432.3 L947.8 432.3 L947.9 432.3 L947.9 432.2 L948.0 432.2 L948.0 432.2 L948.0 432.2 L948.1 432.2 L948.1 432.2 L948.2 432.1 L948.2 432.1 L948.3 432.1 L948.3 432.1 L948.4 432.1 L948.4 432.0 L948.5 432.0 L948.5 432.0 L948.5 432.0 L948.6 431.9 L948.6 431.9 L948.7 431.9 L948.7 431.9 L948.8 431.8 L948.8 431.8 L948.9 431.8 L948.9 431.7 L949.0 431.7 L949.0 431.7 L949.0 431.6 L949.1 431.6 L949.1 431.6 L949.2 431.5 L949.2 431.5 L949.3 431.5 L949.3 431.4 L949.4 431.4 L949.4 431.4 L949.5 431.3 L949.5 431.3 L949.5 431.2 L949.6 431.2 L949.6 431.2 L949.7 431.1 L949.7 431.1 L949.8 431.0 L949.8 431.0 L949.9 430.9 L949.9 430.9 L950.0 430.9 L950.0 430.8 L950.0 430.8 L950.1 430.7 L950.1 430.7 L950.2 430.6 L950.2 430.6 L950.3 430.5 L950.3 430.5 L950.4 430.4 L950.4 430.4 L950.5 430.3 L950.5 430.3 L950.5 430.2 L950.6 430.2 L950.6 430.1 L950.7 430.1 L950.7 430.0 L950.8 429.9 L950.8 429.9 L950.9 429.8 L950.9 429.8 L951.0 429.7 L951.0 429.7 L951.0 429.6 L951.1 429.5 L951.1 429.5 L951.2 429.4 L951.2 429.4 L951.3 429.3 L951.3 429.2 L951.4 429.2 L951.4 429.1 L951.5 429.0 L951.5 429.0 L951.5 428.9 L951.6 428.8 L951.6 428.8 L951.7 428.7 L951.7 428.6 L951.8 428.6 L951.8 428.5 L951.9 428.4 L951.9 428.4 L952.0 428.3 L952.0 428.2 L952.0 428.2 L952.1 428.1 L952.1 428.0 L952.2 428.0 L952.2 427.9 L952.3 427.8 L952.3 427.7 L952.4 427.7 L952.4 427.6 L952.5 427.5 L952.5 427.4 L952.5 427.4 L952.6 427.3 L952.6 427.2 L952.7 427.2 L952.7 427.1 L952.8 427.0 L952.8 426.9 L952.9 426.9 L952.9 426.8 L953.0 426.7 L953.0 426.6 L953.0 426.6 L953.1 426.5 L953.1 426.4 L953.2 426.3 L953.2 426.3 L953.3 426.2 L953.3 426.1 L953.4 426.0 L953.4 426.0 L953.5 425.9 L953.5 425.8 L953.6 425.7 L953.6 425.7 L953.6 425.6 L953.7 425.5 L953.7 425.4 L953.8 425.4 L953.8 425.3 L953.9 425.2 L953.9 425.1 L954.0 425.1 L954.0 425.0 L954.1 424.9 L954.1 424.8 L954.1 424.8 L954.2 424.7 L954.2 424.6 L954.3 424.6 L954.3 424.5 L954.4 424.4 L954.4 424.3 L954.5 424.3 L954.5 424.2 L954.6 424.1 L954.6 424.1 L954.6 424.0 L954.7 423.9 L954.7 423.9 L954.8 423.8 L954.8 423.7 L954.9 423.7 L954.9 423.6 L955.0 423.5 L955.0 423.5 L955.1 423.4 L955.1 423.3 L955.1 423.3 L955.2 423.2 L955.2 423.2 L955.3 423.1 L955.3 423.0 L955.4 423.0 L955.4 422.9 L955.5 422.9 L955.5 422.8 L955.6 422.8 L955.6 422.7 L955.6 422.6 L955.7 422.6 L955.7 422.5 L955.8 422.5 L955.8 422.4 L955.9 422.4 L955.9 422.3 L956.0 422.3 L956.0 422.2 L956.1 422.2 L956.1 422.2 L956.1 422.1 L956.2 422.1 L956.2 422.0 L956.3 422.0 L956.3 421.9 L956.4 421.9 L956.4 421.9 L956.5 421.8 L956.5 421.8 L956.6 421.7 L956.6 421.7 L956.6 421.7 L956.7 421.6 L956.7 421.6 L956.8 421.6 L956.8 421.5 L956.9 421.5 L956.9 421.5 L957.0 421.5 L957.0 421.4 L957.1 421.4 L957.1 421.4 L957.1 421.4 L957.2 421.3 L957.2 421.3 L957.3 421.3 L957.3 421.3 L957.4 421.3 L957.4 421.2 L957.5 421.2 L957.5 421.2 L957.6 421.2 L957.6 421.2 L957.6 421.2 L957.7 421.1 L957.7 421.1 L957.8 421.1 L957.8 421.1 L957.9 421.1 L957.9 421.1 L958.0 421.1 L958.0 421.1 L958.1 421.1 L958.1 421.1 L958.1 421.1 L958.2 421.1 L958.2 421.1 L958.3 421.1 L958.3 421.1 L958.4 421.1 L958.4 421.1 L958.5 421.1 L958.5 421.1 L958.6 421.1 L958.6 421.1 L958.6 421.1 L958.7 421.1 L958.7 421.1 L958.8 421.1 L958.8 421.1 L958.9 421.1 L958.9 421.1 L959.0 421.2 L959.0 421.2 L959.1 421.2 L959.1 421.2 L959.1 421.2 L959.2 421.2 L959.2 421.2 L959.3 421.2 L959.3 421.3 L959.4 421.3 L959.4 421.3 L959.5 421.3 L959.5 421.3 L959.6 421.3 L959.6 421.4" stroke="#000" stroke-width="3.1" stroke-linejoin="round" fill="none"/>
<rect x="1196.50" y="51.40" width="273.00" height="382.00" fill="none" stroke="#000" stroke-width="2.90" stroke-linejoin="round"/>
<path d="M1251.10 51.40v7.15M1251.10 433.40v-7.15M1305.70 51.40v7.15M1305.70 433.40v-7.15M1360.30 51.40v7.15M1360.30 433.40v-7.15M1414.90 51.40v7.15M1414.90 433.40v-7.15" stroke="#000" stroke-width="3.00" fill="none"/>
<path d="M1210.15 51.40v3.45M1210.15 433.40v-3.45M1223.80 51.40v3.45M1223.80 433.40v-3.45M1237.45 51.40v3.45M1237.45 433.40v-3.45M1264.75 51.40v3.45M1264.75 433.40v-3.45M1278.40 51.40v3.45M1278.40 433.40v-3.45M1292.05 51.40v3.45M1292.05 433.40v-3.45M1319.35 51.40v3.45M1319.35 433.40v-3.45M1333.00 51.40v3.45M1333.00 433.40v-3.45M1346.65 51.40v3.45M1346.65 433.40v-3.45M1373.95 51.40v3.45M1373.95 433.40v-3.45M1387.60 51.40v3.45M1387.60 433.40v-3.45M1401.25 51.40v3.45M1401.25 433.40v-3.45M1428.55 51.40v3.45M1428.55 433.40v-3.45M1442.20 51.40v3.45M1442.20 433.40v-3.45M1455.85 51.40v3.45M1455.85 433.40v-3.45" stroke="#000" stroke-width="3.00" fill="none"/>
<path d="M1196.50 62.90h5.45M1469.50 62.90h-5.45M1196.50 152.55h5.45M1469.50 152.55h-5.45M1196.50 242.20h5.45M1469.50 242.20h-5.45M1196.50 331.85h5.45M1469.50 331.85h-5.45M1196.50 421.50h5.45M1469.50 421.50h-5.45" stroke="#000" stroke-width="3.00" fill="none"/>
<path d="M1196.50 85.31h2.55M1469.50 85.31h-2.55M1196.50 107.72h2.55M1469.50 107.72h-2.55M1196.50 130.14h2.55M1469.50 130.14h-2.55M1196.50 174.96h2.55M1469.50 174.96h-2.55M1196.50 197.38h2.55M1469.50 197.38h-2.55M1196.50 219.79h2.55M1469.50 219.79h-2.55M1196.50 264.61h2.55M1469.50 264.61h-2.55M1196.50 287.02h2.55M1469.50 287.02h-2.55M1196.50 309.44h2.55M1469.50 309.44h-2.55M1196.50 354.26h2.55M1469.50 354.26h-2.55M1196.50 376.68h2.55M1469.50 376.68h-2.55M1196.50 399.09h2.55M1469.50 399.09h-2.55" stroke="#000" stroke-width="2.40" fill="none"/>
<text x="1187.90" y="75.20" font-family='"Liberation Sans", sans-serif' font-size="34.70" text-anchor="end" >1.04</text>
<text x="1187.90" y="164.85" font-family='"Liberation Sans", sans-serif' font-size="34.70" text-anchor="end" >1.02</text>
<text x="1187.90" y="254.50" font-family='"Liberation Sans", sans-serif' font-size="34.70" text-anchor="end" >1.00</text>
<text x="1187.90" y="344.15" font-family='"Liberation Sans", sans-serif' font-size="34.70" text-anchor="end" >0.98</text>
<text x="1187.90" y="433.80" font-family='"Liberation Sans", sans-serif' font-size="34.70" text-anchor="end" >0.96</text>
<text x="1194.70" y="477.00" font-family='"Liberation Sans", sans-serif' font-size="34.70" text-anchor="middle" >0.0</text>
<text x="1251.00" y="477.00" font-family='"Liberation Sans", sans-serif' font-size="34.70" text-anchor="middle" >0.2</text>
<text x="1304.70" y="477.00" font-family='"Liberation Sans", sans-serif' font-size="34.70" text-anchor="middle" >0.4</text>
<text x="1359.20" y="477.00" font-family='"Liberation Sans", sans-serif' font-size="34.70" text-anchor="middle" >0.6</text>
<text x="1414.90" y="477.00" font-family='"Liberation Sans", sans-serif' font-size="34.70" text-anchor="middle" >0.8</text>
<text x="1469.70" y="477.00" font-family='"Liberation Sans", sans-serif' font-size="34.70" text-anchor="middle" >1.0</text>
<text x="1333.00" y="514.10" font-family='"Liberation Sans", sans-serif' font-size="34.70" text-anchor="middle" >phase</text>
<text transform="translate(1093.30 237.90) rotate(-90)" font-family='"Liberation Sans", sans-serif' font-size="34.70" text-anchor="middle" letter-spacing="0.33">relative flux</text>
<text x="1271.50" y="34.00" font-family='"Liberation Sans", sans-serif' font-size="43.90" text-anchor="start" >4.020d</text>
<path d="M1449.6 284.2h0M1450.9 284.0h0M1452.3 283.8h0M1453.7 283.7h0M1455.1 283.6h0M1457.9 283.6h0M1459.3 283.5h0M1460.7 283.6h0M1462.0 283.6h0M1463.4 283.6h0M1466.2 283.7h0M1467.6 283.7h0M1469.0 283.8h0M1197.4 283.8h0M1198.8 283.8h0M1201.5 283.8h0M1202.9 283.8h0M1204.3 283.7h0M1205.7 283.6h0M1207.1 283.5h0M1209.9 283.1h0M1211.2 282.9h0M1212.6 282.6h0M1214.0 282.2h0M1215.4 281.8h0M1218.2 280.8h0M1219.6 280.2h0M1221.0 279.6h0M1222.3 278.8h0M1223.7 278.1h0M1226.5 276.3h0M1227.9 275.3h0M1229.3 274.3h0M1230.7 273.3h0M1232.1 272.2h0M1234.8 269.8h0M1236.2 268.6h0M1237.6 267.3h0M1239.0 266.0h0M1240.4 264.6h0M1243.2 261.8h0M1244.5 260.4h0M1245.9 258.9h0M1247.3 257.4h0M1248.7 255.9h0M1251.5 252.8h0M1252.9 251.3h0M1254.3 249.7h0M1255.7 248.1h0M1257.0 246.5h0M1259.8 243.3h0M1261.2 241.7h0M1262.6 240.1h0M1264.0 238.4h0M1265.4 236.8h0M1268.1 233.6h0M1269.5 232.0h0M1270.9 230.4h0M1272.3 228.8h0M1273.7 227.2h0M1276.5 224.0h0M1277.9 222.5h0M1279.2 220.9h0M1280.6 219.4h0M1282.0 217.8h0M1284.8 214.8h0M1286.2 213.3h0M1287.6 211.8h0M1289.0 210.4h0M1290.3 208.9h0M1293.1 206.1h0M1294.5 204.7h0M1295.9 203.3h0M1297.3 202.0h0M1298.7 200.6h0M1301.4 198.0h0M1302.8 196.8h0M1304.2 195.6h0M1305.6 194.4h0M1307.0 193.2h0M1309.8 191.1h0M1311.2 190.0h0M1312.5 189.1h0M1313.9 188.1h0M1315.3 187.3h0M1318.1 185.8h0M1319.5 185.1h0M1320.9 184.5h0M1322.3 184.0h0M1323.6 183.5h0M1326.4 182.8h0M1327.8 182.6h0M1329.2 182.5h0M1330.6 182.5h0M1332.0 182.6h0M1334.7 183.0h0M1336.1 183.3h0M1337.5 183.7h0M1338.9 184.2h0M1340.3 184.7h0M1343.1 186.0h0M1344.5 186.8h0M1345.9 187.6h0M1347.2 188.4h0M1348.6 189.3h0M1351.4 191.1h0M1352.8 192.1h0M1354.2 193.1h0M1355.6 194.1h0M1357.0 195.2h0M1359.7 197.3h0M1361.1 198.4h0M1362.5 199.5h0M1363.9 200.7h0M1365.3 201.9h0M1368.1 204.4h0M1369.4 205.8h0M1370.8 207.2h0M1372.2 208.6h0M1373.6 210.1h0M1376.4 213.3h0M1377.8 215.0h0M1379.2 216.7h0M1380.5 218.4h0M1381.9 220.2h0M1384.7 223.7h0M1386.1 225.6h0M1387.5 227.4h0M1388.9 229.2h0M1390.3 230.9h0M1393.0 234.4h0M1394.4 236.2h0M1395.8 237.8h0M1397.2 239.5h0M1398.6 241.1h0M1401.4 244.1h0M1402.7 245.5h0M1404.1 246.8h0M1405.5 248.0h0M1406.9 249.2h0M1409.7 251.3h0M1411.1 252.2h0M1412.5 253.1h0M1413.8 253.9h0M1415.2 254.6h0M1418.0 256.0h0M1419.4 256.5h0M1420.8 257.1h0M1422.2 257.6h0M1423.6 258.0h0M1426.3 258.9h0M1427.7 259.2h0M1429.1 259.6h0M1430.5 259.9h0M1431.9 260.2h0M1434.7 260.8h0M1436.0 261.1h0M1437.4 261.4h0M1438.8 261.7h0M1440.2 262.0h0M1443.0 262.6h0M1444.4 263.0h0M1445.8 263.3h0M1447.2 263.7h0M1448.5 264.1h0M1451.3 265.1h0M1452.7 265.5h0M1454.1 266.1h0M1455.5 266.6h0M1456.9 267.1h0M1459.6 268.3h0M1461.0 268.8h0M1462.4 269.4h0M1463.8 270.0h0M1465.2 270.6h0M1468.0 271.8h0M1469.4 272.4h0M1197.7 273.0h0M1199.1 273.6h0M1200.5 274.2h0M1203.3 275.3h0M1204.7 275.8h0M1206.1 276.4h0M1207.5 276.9h0M1208.8 277.4h0M1211.6 278.3h0M1213.0 278.7h0M1214.4 279.0h0M1215.8 279.4h0M1217.2 279.7h0M1219.9 280.2h0M1221.3 280.4h0M1222.7 280.6h0M1224.1 280.7h0M1225.5 280.8h0M1228.3 280.8h0M1229.7 280.7h0M1231.0 280.6h0M1232.4 280.4h0M1233.8 280.2h0M1236.6 279.5h0M1238.0 279.1h0M1239.4 278.6h0M1240.8 278.1h0M1242.1 277.4h0M1244.9 276.0h0M1246.3 275.2h0M1247.7 274.2h0M1249.1 273.3h0M1250.5 272.2h0M1253.2 269.8h0M1254.6 268.5h0M1256.0 267.1h0M1257.4 265.6h0M1258.8 264.0h0M1261.6 260.7h0M1263.0 258.9h0M1264.4 257.0h0M1265.7 255.1h0M1267.1 253.1h0M1269.9 249.1h0M1271.3 247.0h0M1272.7 244.9h0M1274.1 242.8h0M1275.5 240.7h0M1278.2 236.5h0M1279.6 234.4h0M1281.0 232.4h0M1282.4 230.3h0M1283.8 228.3h0M1286.6 224.5h0M1287.9 222.6h0M1289.3 220.8h0M1290.7 219.1h0M1292.1 217.4h0M1294.9 214.3h0M1296.3 212.8h0M1297.7 211.4h0M1299.0 210.0h0M1300.4 208.7h0M1303.2 206.3h0M1304.6 205.1h0M1306.0 204.0h0M1307.4 203.0h0M1308.8 201.9h0M1311.5 200.0h0M1312.9 199.1h0M1314.3 198.2h0M1315.7 197.3h0M1317.1 196.5h0M1319.9 194.9h0M1321.2 194.1h0M1322.6 193.4h0M1324.0 192.7h0M1325.4 192.0h0M1328.2 190.8h0M1329.6 190.3h0M1331.0 189.8h0M1332.3 189.4h0M1333.7 189.0h0M1336.5 188.4h0M1337.9 188.3h0M1339.3 188.2h0M1340.7 188.1h0M1342.1 188.2h0M1344.8 188.5h0M1346.2 188.7h0M1347.6 189.0h0M1349.0 189.3h0M1350.4 189.7h0M1353.2 190.6h0M1354.5 191.1h0M1355.9 191.6h0M1357.3 192.2h0M1358.7 192.7h0M1361.5 193.9h0M1362.9 194.5h0M1364.3 195.2h0M1365.7 195.8h0M1367.0 196.5h0M1369.8 197.9h0M1371.2 198.6h0M1372.6 199.3h0M1374.0 200.1h0M1375.4 200.9h0M1378.1 202.7h0M1379.5 203.6h0M1380.9 204.5h0M1382.3 205.5h0M1383.7 206.5h0M1386.5 208.6h0M1387.9 209.7h0M1389.2 210.8h0M1390.6 212.0h0M1392.0 213.1h0M1394.8 215.4h0M1396.2 216.6h0M1397.6 217.7h0M1399.0 218.9h0M1400.3 220.0h0M1403.1 222.2h0M1404.5 223.3h0M1405.9 224.4h0M1407.3 225.4h0M1408.7 226.4h0M1411.4 228.3h0M1412.8 229.2h0M1414.2 230.1h0M1415.6 230.9h0M1417.0 231.6h0M1419.8 233.0h0M1421.2 233.5h0M1422.5 234.0h0M1423.9 234.5h0M1425.3 234.8h0M1428.1 235.5h0M1429.5 235.7h0M1430.9 235.9h0M1432.3 236.1h0M1433.6 236.3h0M1436.4 236.7h0M1437.8 236.9h0M1439.2 237.1h0M1440.6 237.3h0M1442.0 237.6h0M1444.7 238.3h0M1446.1 238.7h0M1447.5 239.2h0M1448.9 239.7h0M1450.3 240.4h0M1453.1 241.9h0M1454.5 242.8h0M1455.9 243.9h0M1457.2 245.0h0M1458.6 246.2h0M1461.4 249.0h0M1462.8 250.4h0M1464.2 251.9h0M1465.6 253.5h0M1467.0 255.1h0M1196.7 258.4h0M1198.1 260.1h0M1199.5 261.7h0M1200.9 263.4h0M1202.3 265.0h0M1205.1 268.2h0M1206.4 269.7h0M1207.8 271.2h0M1209.2 272.6h0M1210.6 273.9h0M1213.4 276.3h0M1214.8 277.3h0M1216.2 278.2h0M1217.5 279.0h0M1218.9 279.7h0M1221.7 280.6h0M1223.1 280.8h0M1224.5 280.8h0M1225.9 280.7h0M1227.3 280.4h0M1230.0 279.3h0M1231.4 278.5h0M1232.8 277.7h0M1234.2 276.6h0M1235.6 275.5h0M1238.4 272.9h0M1239.7 271.4h0M1241.1 269.9h0M1242.5 268.3h0M1243.9 266.5h0M1246.7 262.9h0M1248.1 261.0h0M1249.5 259.0h0M1250.8 257.0h0M1252.2 254.9h0M1255.0 250.8h0M1256.4 248.7h0M1257.8 246.5h0M1259.2 244.4h0M1260.6 242.3h0M1263.3 238.1h0M1264.7 236.0h0M1266.1 233.9h0M1267.5 232.0h0M1268.9 230.0h0M1271.7 226.3h0M1273.0 224.5h0M1274.4 222.8h0M1275.8 221.2h0M1277.2 219.7h0M1280.0 217.0h0M1281.4 215.7h0M1282.8 214.7h0M1284.2 213.7h0M1285.5 212.8h0M1288.3 211.4h0M1289.7 210.8h0M1291.1 210.3h0M1292.5 209.9h0M1293.9 209.6h0M1296.6 209.1h0M1298.0 209.0h0M1299.4 208.9h0M1300.8 208.9h0M1302.2 208.9h0M1305.0 209.1h0M1306.4 209.2h0M1307.7 209.4h0M1309.1 209.5h0M1310.5 209.7h0M1313.3 210.1h0M1314.7 210.3h0M1316.1 210.5h0M1317.5 210.7h0M1318.8 210.8h0M1321.6 211.0h0M1323.0 211.1h0M1324.4 211.1h0M1325.8 211.1h0M1327.2 211.1h0M1329.9 210.9h0M1331.3 210.7h0M1332.7 210.6h0M1334.1 210.4h0M1335.5 210.2h0M1338.3 209.7h0M1339.7 209.5h0M1341.0 209.2h0M1342.4 209.0h0M1343.8 208.7h0M1346.6 208.2h0M1348.0 207.9h0M1349.4 207.7h0M1350.8 207.5h0M1352.1 207.3h0M1354.9 206.9h0M1356.3 206.7h0M1357.7 206.6h0M1359.1 206.5h0M1360.5 206.5h0M1363.2 206.4h0M1364.6 206.5h0M1366.0 206.6h0M1367.4 206.7h0M1368.8 206.9h0M1371.6 207.3h0M1373.0 207.6h0M1374.4 207.9h0M1375.7 208.3h0M1377.1 208.6h0M1379.9 209.4h0M1381.3 209.8h0M1382.7 210.3h0M1384.1 210.7h0M1385.5 211.2h0M1388.2 212.2h0M1389.6 212.7h0M1391.0 213.2h0M1392.4 213.7h0M1393.8 214.2h0M1396.6 215.2h0M1397.9 215.7h0M1399.3 216.2h0M1400.7 216.7h0M1402.1 217.1h0M1404.9 218.0h0M1406.3 218.5h0M1407.7 218.9h0M1409.0 219.3h0M1410.4 219.7h0M1413.2 220.5h0M1414.6 220.8h0M1416.0 221.1h0M1417.4 221.5h0M1418.8 221.8h0M1421.5 222.3h0M1422.9 222.6h0M1424.3 222.8h0M1425.7 223.0h0M1427.1 223.2h0M1429.9 223.6h0M1431.2 223.7h0M1432.6 223.8h0M1434.0 223.9h0M1435.4 224.0h0M1438.2 224.2h0M1439.6 224.3h0M1441.0 224.4h0M1442.3 224.5h0M1443.7 224.7h0M1446.5 225.1h0M1447.9 225.3h0M1449.3 225.6h0M1450.7 226.0h0M1452.1 226.4h0M1454.8 227.3h0M1456.2 227.9h0M1457.6 228.5h0M1459.0 229.3h0M1460.4 230.1h0M1463.2 231.9h0M1464.5 232.9h0M1465.9 234.0h0M1467.3 235.1h0M1468.7 236.3h0M1198.5 238.8h0M1199.9 240.1h0M1201.3 241.4h0M1202.7 242.8h0M1204.0 244.2h0M1206.8 246.9h0M1208.2 248.3h0M1209.6 249.6h0M1211.0 251.0h0M1212.4 252.3h0M1215.1 254.9h0M1216.5 256.1h0M1217.9 257.3h0M1219.3 258.5h0M1220.7 259.6h0M1223.5 261.6h0M1224.9 262.5h0M1226.2 263.3h0M1227.6 264.0h0M1229.0 264.7h0M1231.8 265.7h0M1233.2 266.1h0M1234.6 266.3h0M1236.0 266.4h0M1237.3 266.4h0M1240.1 266.0h0M1241.5 265.6h0M1242.9 265.1h0M1244.3 264.4h0M1245.7 263.6h0M1248.4 261.7h0M1249.8 260.6h0M1251.2 259.4h0M1252.6 258.1h0M1254.0 256.8h0M1256.8 253.9h0M1258.2 252.3h0M1259.5 250.7h0M1260.9 249.1h0M1262.3 247.5h0M1265.1 244.1h0M1266.5 242.4h0M1267.9 240.7h0M1269.3 239.0h0M1270.6 237.3h0M1273.4 234.0h0M1274.8 232.4h0M1276.2 230.9h0M1277.6 229.3h0M1279.0 227.8h0M1281.7 224.8h0M1283.1 223.4h0M1284.5 222.0h0M1285.9 220.7h0M1287.3 219.4h0M1290.1 216.9h0M1291.5 215.7h0M1292.9 214.6h0M1294.2 213.5h0M1295.6 212.5h0M1298.4 210.7h0M1299.8 209.8h0M1301.2 209.1h0M1302.6 208.3h0M1304.0 207.7h0M1306.7 206.6h0M1308.1 206.2h0M1309.5 205.8h0M1310.9 205.5h0M1312.3 205.3h0M1315.1 205.1h0M1316.4 205.1h0M1317.8 205.1h0M1319.2 205.2h0M1320.6 205.4h0M1323.4 205.9h0M1324.8 206.2h0M1326.2 206.6h0M1327.5 207.0h0M1328.9 207.4h0M1331.7 208.3h0M1333.1 208.8h0M1334.5 209.3h0M1335.9 209.8h0M1337.3 210.3h0M1340.0 211.4h0M1341.4 211.9h0M1342.8 212.4h0M1344.2 212.9h0M1345.6 213.4h0M1348.4 214.3h0M1349.7 214.7h0M1351.1 215.1h0M1352.5 215.5h0M1353.9 215.8h0M1356.7 216.3h0M1358.1 216.5h0M1359.5 216.6h0M1360.8 216.7h0M1362.2 216.8h0M1365.0 217.0h0M1366.4 217.0h0M1367.8 217.0h0M1369.2 217.0h0M1370.6 217.0h0M1373.3 217.0h0M1374.7 216.9h0M1376.1 216.9h0M1377.5 216.9h0M1378.9 216.9h0M1381.7 216.9h0M1383.1 216.9h0M1384.4 216.9h0M1385.8 217.0h0M1387.2 217.0h0M1390.0 217.2h0M1391.4 217.4h0M1392.8 217.6h0M1394.2 217.8h0M1395.5 218.0h0M1398.3 218.6h0M1399.7 219.0h0M1401.1 219.4h0M1402.5 219.8h0M1403.9 220.2h0M1406.6 221.2h0M1408.0 221.6h0M1409.4 222.1h0M1410.8 222.6h0M1412.2 223.2h0M1415.0 224.2h0M1416.4 224.7h0M1417.7 225.2h0M1419.1 225.8h0M1420.5 226.3h0M1423.3 227.2h0M1424.7 227.7h0M1426.1 228.1h0M1427.5 228.5h0M1428.8 228.9h0M1431.6 229.6h0M1433.0 229.9h0M1434.4 230.2h0M1435.8 230.4h0M1437.2 230.6h0M1439.9 230.8h0M1441.3 230.9h0M1442.7 231.0h0M1444.1 231.0h0M1445.5 231.0h0M1448.3 231.1h0M1449.7 231.1h0M1451.0 231.1h0M1452.4 231.2h0M1453.8 231.2h0M1456.6 231.5h0M1458.0 231.6h0M1459.4 231.9h0M1460.8 232.1h0M1462.1 232.4h0M1464.9 233.3h0M1466.3 233.8h0M1467.7 234.4h0M1469.1 235.1h0M1197.5 235.8h0M1200.2 237.6h0M1201.6 238.6h0M1203.0 239.7h0M1204.4 240.8h0M1205.8 241.9h0M1208.6 244.3h0M1210.0 245.5h0M1211.4 246.7h0M1212.7 247.9h0M1214.1 249.1h0M1216.9 251.5h0M1218.3 252.6h0M1219.7 253.7h0M1221.1 254.7h0M1222.5 255.7h0M1225.2 257.4h0M1226.6 258.2h0M1228.0 258.9h0M1229.4 259.4h0M1230.8 259.9h0M1233.6 260.4h0M1234.9 260.5h0M1236.3 260.4h0M1237.7 260.2h0M1239.1 259.9h0M1241.9 258.7h0M1243.3 257.9h0M1244.7 257.0h0M1246.0 255.9h0M1247.4 254.8h0M1250.2 252.2h0M1251.6 250.7h0M1253.0 249.2h0M1254.4 247.6h0M1255.8 246.0h0M1258.5 242.6h0M1259.9 240.8h0M1261.3 239.0h0M1262.7 237.1h0M1264.1 235.3h0M1266.9 231.6h0M1268.2 229.8h0M1269.6 228.0h0M1271.0 226.2h0M1272.4 224.4h0M1275.2 220.9h0M1276.6 219.2h0M1278.0 217.5h0M1279.3 215.9h0M1280.7 214.3h0M1283.5 211.3h0M1284.9 209.8h0M1286.3 208.5h0M1287.7 207.1h0M1289.1 205.8h0M1291.8 203.5h0M1293.2 202.4h0M1294.6 201.4h0M1296.0 200.5h0M1297.4 199.7h0M1300.2 198.2h0M1301.6 197.7h0M1302.9 197.2h0M1304.3 196.8h0M1305.7 196.5h0M1308.5 196.2h0M1309.9 196.2h0M1311.3 196.4h0M1312.7 196.6h0M1314.0 196.9h0M1316.8 197.7h0M1318.2 198.3h0M1319.6 198.9h0M1321.0 199.5h0M1322.4 200.2h0M1325.1 201.8h0M1326.5 202.6h0M1327.9 203.4h0M1329.3 204.3h0M1330.7 205.1h0M1333.5 206.8h0M1334.9 207.6h0M1336.2 208.5h0M1337.6 209.2h0M1339.0 210.0h0M1341.8 211.4h0M1343.2 212.0h0M1344.6 212.6h0M1346.0 213.1h0M1347.3 213.6h0M1350.1 214.4h0M1351.5 214.7h0M1352.9 215.1h0M1354.3 215.3h0M1355.7 215.6h0M1358.4 216.0h0M1359.8 216.2h0M1361.2 216.3h0M1362.6 216.4h0M1364.0 216.5h0M1366.8 216.7h0M1368.2 216.7h0M1369.5 216.8h0M1370.9 216.8h0M1372.3 216.8h0M1375.1 216.8h0M1376.5 216.8h0M1377.9 216.8h0M1379.3 216.8h0M1380.6 216.8h0M1383.4 216.8h0M1384.8 216.9h0M1386.2 216.9h0M1387.6 216.9h0M1389.0 216.9h0M1391.7 217.0h0M1393.1 217.1h0M1394.5 217.2h0M1395.9 217.3h0M1397.3 217.4h0M1400.1 217.7h0M1401.5 217.9h0M1402.9 218.1h0M1404.2 218.3h0M1405.6 218.6h0M1408.4 219.2h0M1409.8 219.6h0M1411.2 220.0h0M1412.6 220.4h0M1414.0 220.9h0M1416.7 221.9h0M1418.1 222.4h0M1419.5 223.0h0M1420.9 223.6h0M1422.3 224.2h0M1425.1 225.4h0M1426.4 226.0h0M1427.8 226.6h0M1429.2 227.2h0M1430.6 227.8h0M1433.4 228.9h0M1434.8 229.5h0M1436.2 230.0h0M1437.5 230.5h0M1438.9 231.0h0M1441.7 231.8h0M1443.1 232.2h0M1444.5 232.5h0M1445.9 232.8h0M1447.3 233.0h0M1450.0 233.2h0M1451.4 233.3h0M1452.8 233.3h0M1454.2 233.3h0M1455.6 233.3h0M1458.4 233.2h0M1459.7 233.1h0M1461.1 233.0h0M1462.5 233.0h0M1463.9 233.0h0M1466.7 233.0h0M1468.1 233.1h0M1469.5 233.3h0M1197.8 233.5h0M1199.2 233.8h0M1202.0 234.6h0M1203.4 235.1h0M1204.8 235.8h0M1206.2 236.5h0M1207.6 237.4h0M1210.3 239.5h0M1211.7 240.7h0M1213.1 242.0h0M1214.5 243.4h0M1215.9 244.8h0M1218.7 247.9h0M1220.1 249.4h0M1221.4 251.0h0M1222.8 252.6h0M1224.2 254.2h0M1227.0 257.2h0M1228.4 258.6h0M1229.8 260.0h0M1231.2 261.3h0M1232.5 262.5h0M1235.3 264.6h0M1236.7 265.5h0M1238.1 266.2h0M1239.5 266.8h0M1240.9 267.2h0M1243.6 267.4h0M1245.0 267.3h0M1246.4 266.9h0M1247.8 266.2h0M1249.2 265.4h0M1252.0 262.9h0M1253.4 261.3h0M1254.7 259.5h0M1256.1 257.5h0M1257.5 255.3h0M1260.3 250.6h0M1261.7 248.1h0M1263.1 245.5h0M1264.5 242.9h0M1265.8 240.2h0M1268.6 234.8h0M1270.0 232.1h0M1271.4 229.5h0M1272.8 226.9h0M1274.2 224.4h0M1276.9 219.4h0M1278.3 217.0h0M1279.7 214.7h0M1281.1 212.4h0M1282.5 210.2h0M1285.3 206.0h0M1286.7 203.9h0M1288.0 202.0h0M1289.4 200.1h0M1290.8 198.3h0M1293.6 195.0h0M1295.0 193.5h0M1296.4 192.0h0M1297.8 190.7h0M1299.1 189.4h0M1301.9 187.2h0M1303.3 186.2h0M1304.7 185.3h0M1306.1 184.6h0M1307.5 184.0h0M1310.2 183.0h0M1311.6 182.7h0M1313.0 182.5h0M1314.4 182.5h0M1315.8 182.5h0M1318.6 182.9h0M1320.0 183.3h0M1321.4 183.7h0M1322.7 184.2h0M1324.1 184.8h0M1326.9 186.1h0M1328.3 186.9h0M1329.7 187.7h0M1331.1 188.5h0M1332.5 189.4h0M1335.2 191.3h0M1336.6 192.2h0M1338.0 193.2h0M1339.4 194.2h0M1340.8 195.2h0M1343.6 197.2h0M1344.9 198.2h0M1346.3 199.2h0M1347.7 200.1h0M1349.1 201.0h0M1351.9 202.7h0M1353.3 203.5h0M1354.7 204.2h0M1356.0 205.0h0M1357.4 205.7h0M1360.2 207.0h0M1361.6 207.6h0M1363.0 208.1h0M1364.4 208.7h0M1365.8 209.2h0M1368.5 210.2h0M1369.9 210.6h0M1371.3 211.0h0M1372.7 211.4h0M1374.1 211.8h0M1376.9 212.5h0M1378.2 212.8h0M1379.6 213.1h0M1381.0 213.4h0M1382.4 213.7h0M1385.2 214.2h0M1386.6 214.4h0M1388.0 214.7h0M1389.3 214.9h0M1390.7 215.1h0M1393.5 215.4h0M1394.9 215.6h0M1396.3 215.7h0M1397.7 215.9h0M1399.1 216.0h0M1401.8 216.3h0M1403.2 216.4h0M1404.6 216.6h0M1406.0 216.7h0M1407.4 216.8h0M1410.2 217.0h0M1411.6 217.2h0M1412.9 217.3h0M1414.3 217.4h0M1415.7 217.5h0M1418.5 217.7h0M1419.9 217.8h0M1421.3 218.0h0M1422.7 218.1h0M1424.0 218.2h0M1426.8 218.5h0M1428.2 218.7h0M1429.6 218.9h0M1431.0 219.0h0M1432.4 219.2h0M1435.1 219.6h0M1436.5 219.9h0M1437.9 220.1h0M1439.3 220.4h0M1440.7 220.7h0M1443.5 221.4h0M1444.9 221.7h0M1446.2 222.1h0M1447.6 222.5h0M1449.0 223.0h0M1451.8 224.0h0M1453.2 224.5h0M1454.6 225.1h0M1456.0 225.7h0M1457.3 226.3h0M1460.1 227.7h0M1461.5 228.5h0M1462.9 229.3h0M1464.3 230.1h0M1465.7 231.0h0M1468.4 232.9h0M1196.8 233.9h0M1198.2 235.0h0M1199.6 236.0h0M1201.0 237.1h0M1203.8 239.3h0M1205.2 240.5h0M1206.5 241.6h0M1207.9 242.7h0M1209.3 243.8h0M1212.1 246.1h0M1213.5 247.2h0M1214.9 248.2h0M1216.3 249.2h0M1217.6 250.3h0M1220.4 252.1h0M1221.8 253.0h0M1223.2 253.9h0M1224.6 254.6h0M1226.0 255.4h0M1228.7 256.6h0M1230.1 257.1h0M1231.5 257.6h0M1232.9 258.0h0M1234.3 258.2h0M1237.1 258.5h0M1238.5 258.5h0M1239.9 258.4h0M1241.2 258.2h0M1242.6 257.9h0M1245.4 256.9h0M1246.8 256.2h0M1248.2 255.4h0M1249.6 254.5h0M1251.0 253.5h0M1253.7 251.3h0M1255.1 250.0h0M1256.5 248.7h0M1257.9 247.3h0M1259.3 245.8h0M1262.1 242.7h0M1263.4 241.1h0M1264.8 239.5h0M1266.2 237.9h0M1267.6 236.2h0M1270.4 232.8h0M1271.8 231.1h0M1273.2 229.4h0M1274.5 227.8h0M1275.9 226.1h0M1278.7 222.9h0M1280.1 221.3h0M1281.5 219.8h0M1282.9 218.3h0M1284.3 216.8h0M1287.0 213.9h0M1288.4 212.5h0M1289.8 211.2h0M1291.2 209.9h0M1292.6 208.6h0M1295.4 206.2h0M1296.7 205.1h0M1298.1 204.0h0M1299.5 203.0h0M1300.9 202.0h0M1303.7 200.2h0M1305.1 199.4h0M1306.5 198.7h0M1307.8 198.0h0M1309.2 197.4h0M1312.0 196.3h0M1313.4 195.9h0M1314.8 195.6h0M1316.2 195.3h0M1317.6 195.1h0M1320.3 194.9h0M1321.7 195.0h0M1323.1 195.0h0M1324.5 195.2h0M1325.9 195.4h0M1328.7 196.0h0M1330.1 196.4h0M1331.4 196.9h0M1332.8 197.4h0M1334.2 198.0h0M1337.0 199.3h0M1338.4 200.0h0M1339.8 200.8h0M1341.2 201.6h0M1342.5 202.5h0M1345.3 204.3h0M1346.7 205.3h0M1348.1 206.3h0M1349.5 207.4h0M1350.9 208.5h0M1353.6 210.8h0M1355.0 212.0h0M1356.4 213.2h0M1357.8 214.4h0M1359.2 215.7h0M1362.0 218.1h0M1363.4 219.4h0M1364.7 220.6h0M1366.1 221.8h0M1367.5 223.0h0M1370.3 225.3h0M1371.7 226.5h0M1373.1 227.6h0M1374.5 228.6h0M1375.8 229.6h0M1378.6 231.5h0M1380.0 232.3h0M1381.4 233.1h0M1382.8 233.9h0M1384.2 234.5h0M1386.9 235.6h0M1388.3 236.0h0M1389.7 236.4h0M1391.1 236.6h0M1392.5 236.8h0M1395.3 237.0h0M1396.7 237.0h0M1398.0 237.0h0M1399.4 236.9h0M1400.8 236.7h0M1403.6 236.2h0M1405.0 235.9h0M1406.4 235.5h0M1407.8 235.1h0M1409.1 234.7h0M1411.9 233.7h0M1413.3 233.2h0M1414.7 232.6h0M1416.1 232.1h0M1417.5 231.5h0M1420.2 230.2h0M1421.6 229.6h0M1423.0 229.0h0M1424.4 228.3h0M1425.8 227.6h0M1428.6 226.3h0M1430.0 225.7h0M1431.4 225.0h0M1432.7 224.4h0M1434.1 223.8h0M1436.9 222.5h0M1438.3 222.0h0M1439.7 221.4h0M1441.1 220.9h0M1442.5 220.3h0M1445.2 219.4h0M1446.6 219.0h0M1448.0 218.6h0M1449.4 218.2h0M1450.8 217.9h0M1453.6 217.4h0M1454.9 217.3h0M1456.3 217.1h0M1457.7 217.1h0M1459.1 217.0h0M1461.9 217.2h0M1463.3 217.3h0M1464.7 217.6h0M1466.0 217.8h0M1467.4 218.1h0M1197.2 218.9h0M1198.6 219.4h0M1200.0 219.9h0M1201.4 220.4h0M1202.8 221.0h0M1205.5 222.3h0M1206.9 223.0h0M1208.3 223.7h0M1209.7 224.4h0M1211.1 225.2h0M1213.9 226.8h0M1215.2 227.6h0M1216.6 228.4h0M1218.0 229.3h0M1219.4 230.2h0M1222.2 231.9h0M1223.6 232.8h0M1225.0 233.7h0M1226.3 234.5h0M1227.7 235.3h0M1230.5 237.0h0M1231.9 237.7h0M1233.3 238.5h0M1234.7 239.2h0M1236.1 239.9h0M1238.8 241.0h0M1240.2 241.6h0M1241.6 242.0h0M1243.0 242.4h0M1244.4 242.8h0M1247.2 243.3h0M1248.6 243.4h0M1249.9 243.4h0M1251.3 243.4h0M1252.7 243.3h0M1255.5 242.7h0M1256.9 242.4h0M1258.3 241.9h0M1259.7 241.4h0M1261.0 240.8h0M1263.8 239.3h0M1265.2 238.5h0M1266.6 237.6h0M1268.0 236.6h0M1269.4 235.6h0M1272.1 233.3h0M1273.5 232.1h0M1274.9 230.9h0M1276.3 229.6h0M1277.7 228.2h0M1280.5 225.3h0M1281.9 223.8h0M1283.2 222.3h0M1284.6 220.7h0M1286.0 219.0h0M1288.8 215.7h0M1290.2 214.0h0M1291.6 212.3h0M1293.0 210.6h0M1294.3 208.9h0M1297.1 205.6h0M1298.5 204.0h0M1299.9 202.4h0M1301.3 200.8h0M1302.7 199.3h0M1305.4 196.5h0M1306.8 195.1h0M1308.2 193.9h0M1309.6 192.7h0M1311.0 191.7h0M1313.8 189.8h0M1315.2 189.1h0M1316.5 188.4h0M1317.9 187.9h0M1319.3 187.6h0M1322.1 187.2h0M1323.5 187.2h0M1324.9 187.4h0M1326.3 187.7h0M1327.6 188.1h0M1330.4 189.2h0M1331.8 189.9h0M1333.2 190.8h0M1334.6 191.6h0M1336.0 192.6h0M1338.8 194.8h0M1340.1 195.9h0M1341.5 197.2h0M1342.9 198.4h0M1344.3 199.8h0M1347.1 202.5h0M1348.5 203.9h0M1349.9 205.3h0M1351.2 206.8h0M1352.6 208.2h0M1355.4 211.1h0M1356.8 212.5h0M1358.2 213.9h0M1359.6 215.3h0M1361.0 216.7h0M1363.7 219.5h0M1365.1 220.8h0M1366.5 222.1h0M1367.9 223.5h0M1369.3 224.8h0M1372.1 227.3h0M1373.4 228.6h0M1374.8 229.8h0M1376.2 231.0h0M1377.6 232.2h0M1380.4 234.6h0M1381.8 235.7h0M1383.2 236.8h0M1384.5 237.9h0M1385.9 239.0h0M1388.7 241.0h0M1390.1 242.0h0M1391.5 243.0h0M1392.9 243.9h0M1394.3 244.8h0M1397.0 246.5h0M1398.4 247.3h0M1399.8 248.0h0M1401.2 248.7h0M1402.6 249.4h0M1405.4 250.6h0M1406.7 251.1h0M1408.1 251.6h0M1409.5 252.0h0M1410.9 252.3h0M1413.7 252.9h0M1415.1 253.1h0M1416.5 253.2h0M1417.8 253.3h0M1419.2 253.3h0M1422.0 253.1h0M1423.4 252.9h0M1424.8 252.6h0M1426.2 252.3h0M1427.6 251.8h0M1430.3 250.8h0M1431.7 250.2h0M1433.1 249.5h0M1434.5 248.8h0M1435.9 248.1h0M1438.7 246.5h0M1440.1 245.6h0M1441.4 244.7h0M1442.8 243.8h0M1444.2 242.9h0M1447.0 241.1h0M1448.4 240.2h0M1449.8 239.3h0M1451.2 238.4h0M1452.5 237.5h0M1455.3 235.8h0M1456.7 235.0h0M1458.1 234.2h0M1459.5 233.4h0M1460.9 232.6h0M1463.6 231.2h0M1465.0 230.6h0M1466.4 230.0h0M1467.8 229.4h0M1469.2 228.9h0M1199.0 228.0h0M1200.4 227.6h0M1201.7 227.3h0M1203.1 227.0h0M1204.5 226.9h0M1207.3 226.7h0M1208.7 226.7h0M1210.1 226.8h0M1211.5 226.9h0M1212.8 227.2h0M1215.6 227.9h0M1217.0 228.4h0M1218.4 228.9h0M1219.8 229.5h0M1221.2 230.2h0M1223.9 231.7h0M1225.3 232.5h0M1226.7 233.4h0M1228.1 234.3h0M1229.5 235.2h0M1232.3 237.2h0M1233.7 238.2h0M1235.0 239.1h0M1236.4 240.1h0M1237.8 241.1h0M1240.6 243.1h0M1242.0 244.1h0M1243.4 245.0h0M1244.8 245.9h0M1246.1 246.7h0M1248.9 248.2h0M1250.3 248.8h0M1251.7 249.3h0M1253.1 249.7h0M1254.5 250.1h0M1257.3 250.3h0M1258.6 250.3h0M1260.0 250.1h0M1261.4 249.7h0M1262.8 249.2h0M1265.6 247.8h0M1267.0 246.9h0M1268.4 245.9h0M1269.7 244.8h0M1271.1 243.6h0M1273.9 240.8h0M1275.3 239.3h0M1276.7 237.7h0M1278.1 236.0h0M1279.5 234.2h0M1282.2 230.5h0M1283.6 228.5h0M1285.0 226.5h0M1286.4 224.5h0M1287.8 222.4h0M1290.6 218.0h0M1291.9 215.9h0M1293.3 213.6h0M1294.7 211.4h0M1296.1 209.2h0M1298.9 204.8h0M1300.3 202.6h0M1301.7 200.4h0M1303.0 198.3h0M1304.4 196.2h0M1307.2 192.2h0M1308.6 190.2h0M1310.0 188.4h0M1311.4 186.6h0M1312.8 184.8h0M1315.5 181.7h0M1316.9 180.2h0M1318.3 178.9h0M1319.7 177.7h0M1321.1 176.6h0M1323.9 174.8h0M1325.2 174.1h0M1326.6 173.5h0M1328.0 173.1h0M1329.4 172.8h0M1332.2 172.8h0M1333.6 172.9h0M1335.0 173.2h0M1336.3 173.6h0M1337.7 174.1h0M1340.5 175.6h0M1341.9 176.4h0M1343.3 177.4h0M1344.7 178.4h0M1346.1 179.6h0M1348.8 182.2h0M1350.2 183.6h0M1351.6 185.0h0M1353.0 186.6h0M1354.4 188.2h0M1357.2 191.6h0M1358.6 193.4h0M1359.9 195.2h0M1361.3 197.0h0M1362.7 198.9h0M1365.5 202.8h0M1366.9 204.8h0M1368.3 206.8h0M1369.7 208.8h0M1371.0 210.9h0M1373.8 214.9h0M1375.2 217.0h0M1376.6 219.0h0M1378.0 221.1h0M1379.4 223.1h0M1382.1 227.1h0M1383.5 229.1h0M1384.9 231.0h0M1386.3 232.9h0M1387.7 234.8h0M1390.5 238.4h0M1391.9 240.2h0M1393.2 241.9h0M1394.6 243.5h0M1396.0 245.1h0M1398.8 248.1h0M1400.2 249.6h0M1401.6 250.9h0M1403.0 252.2h0M1404.3 253.5h0M1407.1 255.7h0M1408.5 256.8h0M1409.9 257.7h0M1411.3 258.6h0M1412.7 259.4h0M1415.4 260.7h0M1416.8 261.3h0M1418.2 261.8h0M1419.6 262.2h0M1421.0 262.5h0M1423.8 262.8h0M1425.2 262.8h0M1426.5 262.7h0M1427.9 262.6h0M1429.3 262.3h0M1432.1 261.6h0M1433.5 261.1h0M1434.9 260.6h0M1436.3 260.0h0M1437.6 259.3h0M1440.4 257.8h0M1441.8 257.0h0M1443.2 256.2h0M1444.6 255.3h0M1446.0 254.4h0M1448.8 252.4h0M1450.1 251.4h0M1451.5 250.4h0M1452.9 249.4h0M1454.3 248.3h0M1457.1 246.3h0M1458.5 245.2h0M1459.9 244.2h0M1461.2 243.3h0M1462.6 242.3h0M1465.4 240.5h0M1466.8 239.7h0M1468.2 239.0h0M1196.6 238.3h0M1198.0 237.7h0M1200.7 236.8h0M1202.1 236.4h0M1203.5 236.2h0M1204.9 236.1h0M1206.3 236.1h0M1209.1 236.4h0M1210.4 236.8h0M1211.8 237.3h0M1213.2 238.0h0M1214.6 238.7h0M1217.4 240.5h0M1218.8 241.4h0M1220.2 242.5h0M1221.5 243.5h0M1222.9 244.6h0M1225.7 246.9h0M1227.1 248.0h0M1228.5 249.0h0M1229.9 250.1h0M1231.3 251.1h0M1234.0 252.9h0M1235.4 253.7h0M1236.8 254.4h0M1238.2 255.0h0M1239.6 255.4h0M1242.4 255.9h0M1243.7 255.9h0M1245.1 255.7h0M1246.5 255.4h0M1247.9 254.9h0M1250.7 253.5h0M1252.1 252.7h0M1253.5 251.7h0M1254.8 250.6h0M1256.2 249.4h0M1259.0 246.8h0M1260.4 245.3h0M1261.8 243.9h0M1263.2 242.3h0M1264.6 240.7h0M1265.9 239.1h0M1267.3 237.4h0M1268.7 235.6h0M1270.1 233.8h0M1271.5 232.0h0M1272.9 230.1h0M1275.7 226.2h0M1277.1 224.2h0M1278.4 222.1h0M1279.8 220.1h0M1281.2 218.0h0M1282.6 215.9h0M1284.0 213.8h0M1285.4 211.6h0M1286.8 209.5h0M1288.2 207.3h0M1289.5 205.1h0M1292.3 200.8h0M1293.7 198.7h0M1295.1 196.5h0M1296.5 194.4h0M1297.9 192.3h0M1299.3 190.3h0M1300.6 188.2h0M1302.0 186.2h0M1303.4 184.3h0M1304.8 182.4h0M1306.2 180.5h0M1309.0 177.0h0M1310.4 175.3h0M1311.7 173.7h0M1313.1 172.2h0M1314.5 170.8h0M1315.9 169.4h0M1317.3 168.1h0M1318.7 167.0h0M1320.1 165.9h0M1321.5 164.9h0M1322.8 164.0h0M1325.6 162.7h0M1327.0 162.2h0M1328.4 161.8h0M1329.8 161.5h0M1331.2 161.4h0M1332.6 161.4h0M1333.9 161.6h0M1335.3 161.9h0M1336.7 162.4h0M1338.1 163.0h0M1339.5 163.8h0M1342.3 165.8h0M1343.7 167.0h0M1345.0 168.4h0M1346.4 169.8h0M1347.8 171.4h0M1349.2 173.1h0M1350.6 175.0h0M1352.0 176.9h0M1353.4 179.0h0M1354.8 181.1h0M1356.1 183.3h0M1358.9 188.1h0M1360.3 190.6h0M1361.7 193.2h0M1363.1 195.9h0M1364.5 198.6h0M1365.9 201.4h0M1367.3 204.2h0M1368.6 207.1h0M1370.0 210.1h0M1371.4 213.1h0M1372.8 216.1h0M1375.6 222.2h0M1377.0 225.3h0M1378.4 228.3h0M1379.7 231.4h0M1381.1 234.3h0M1382.5 237.3h0M1383.9 240.1h0M1385.3 242.9h0M1386.7 245.6h0M1388.1 248.1h0M1389.5 250.6h0M1392.2 255.1h0M1393.6 257.2h0M1395.0 259.2h0M1396.4 261.0h0M1397.8 262.7h0M1399.2 264.4h0M1400.6 265.9h0M1401.9 267.3h0M1403.3 268.6h0M1404.7 269.8h0M1406.1 270.9h0M1408.9 272.9h0M1410.3 273.8h0M1411.7 274.5h0M1413.0 275.2h0M1414.4 275.9h0M1415.8 276.4h0M1417.2 276.9h0M1418.6 277.3h0M1420.0 277.6h0M1421.4 277.9h0M1422.8 278.1h0M1425.5 278.4h0M1426.9 278.5h0M1428.3 278.5h0M1429.7 278.5h0M1431.1 278.4h0M1432.5 278.3h0M1433.9 278.1h0M1435.2 278.0h0M1436.6 277.8h0M1438.0 277.5h0M1439.4 277.2h0M1442.2 276.6h0M1443.6 276.2h0M1445.0 275.8h0M1446.3 275.4h0M1447.7 275.0h0M1449.1 274.5h0M1450.5 274.0h0M1451.9 273.5h0M1453.3 272.9h0M1454.7 272.3h0M1456.1 271.8h0M1458.8 270.5h0M1460.2 269.8h0M1461.6 269.2h0M1463.0 268.5h0M1464.4 267.8h0M1465.8 267.0h0M1467.2 266.3h0M1468.6 265.5h0M1196.9 264.8h0M1198.3 264.0h0M1199.7 263.2h0M1202.5 261.7h0M1203.9 260.9h0M1205.3 260.2h0M1206.7 259.5h0M1208.0 258.8h0M1209.4 258.2h0M1210.8 257.6h0M1212.2 257.1h0M1213.6 256.6h0M1215.0 256.2h0M1216.4 255.9h0M1219.1 255.5h0M1220.5 255.4h0M1221.9 255.4h0M1223.3 255.5h0M1224.7 255.7h0M1226.1 255.9h0M1227.5 256.2h0M1228.9 256.5h0M1230.2 256.8h0M1231.6 257.2h0M1233.0 257.5h0M1235.8 258.3h0M1237.2 258.7h0M1238.6 259.1h0M1240.0 259.4h0M1241.3 259.7h0M1242.7 260.0h0M1244.1 260.2h0M1245.5 260.4h0M1246.9 260.5h0M1248.3 260.6h0M1249.7 260.5h0M1252.4 260.2h0M1253.8 260.0h0M1255.2 259.6h0M1256.6 259.1h0M1258.0 258.6h0M1259.4 258.0h0M1260.8 257.2h0M1262.2 256.4h0M1263.5 255.4h0M1264.9 254.3h0M1266.3 253.2h0M1269.1 250.4h0M1270.5 248.9h0M1271.9 247.2h0M1273.3 245.5h0M1274.6 243.6h0M1276.0 241.6h0M1277.4 239.5h0M1278.8 237.3h0M1280.2 235.1h0M1281.6 232.8h0M1283.0 230.4h0M1285.8 225.5h0M1287.1 223.0h0M1288.5 220.5h0M1289.9 217.9h0M1291.3 215.3h0M1292.7 212.8h0M1294.1 210.2h0M1295.5 207.6h0M1296.9 205.1h0M1298.2 202.5h0M1299.6 200.0h0M1302.4 195.2h0M1303.8 192.8h0M1305.2 190.5h0M1306.6 188.2h0M1308.0 186.0h0M1309.3 183.9h0M1310.7 181.9h0M1312.1 179.9h0M1313.5 178.0h0M1314.9 176.2h0M1316.3 174.5h0M1319.1 171.4h0M1320.4 170.0h0M1321.8 168.7h0M1323.2 167.6h0M1324.6 166.6h0M1326.0 165.7h0M1327.4 164.9h0M1328.8 164.3h0M1330.2 163.9h0M1331.5 163.6h0M1332.9 163.4h0M1335.7 163.6h0M1337.1 164.0h0M1338.5 164.5h0M1339.9 165.1h0M1341.3 165.9h0M1342.6 166.9h0M1344.0 167.9h0M1345.4 169.2h0M1346.8 170.5h0M1348.2 172.0h0M1349.6 173.6h0M1352.4 177.2h0M1353.7 179.1h0M1355.1 181.2h0M1356.5 183.4h0M1357.9 185.6h0M1359.3 188.0h0M1360.7 190.4h0M1362.1 193.0h0M1363.5 195.6h0M1364.8 198.3h0M1366.2 201.1h0M1369.0 206.9h0M1370.4 209.9h0M1371.8 212.9h0M1373.2 215.9h0M1374.6 218.9h0M1375.9 222.0h0M1377.3 224.9h0M1378.7 227.9h0M1380.1 230.7h0M1381.5 233.5h0M1382.9 236.2h0M1385.7 241.2h0M1387.1 243.5h0M1388.4 245.6h0M1389.8 247.5h0M1391.2 249.2h0M1392.6 250.7h0M1394.0 252.0h0M1395.4 253.2h0M1396.8 254.3h0M1398.2 255.3h0M1399.5 256.2h0M1402.3 258.3h0M1403.7 259.4h0M1405.1 260.7h0M1406.5 262.0h0M1407.9 263.4h0M1409.3 264.9h0M1410.6 266.5h0M1412.0 268.0h0M1413.4 269.7h0M1414.8 271.3h0M1416.2 273.0h0M1419.0 276.4h0M1420.4 278.0h0M1421.7 279.7h0M1423.1 281.3h0M1424.5 282.9h0M1425.9 284.4h0M1427.3 285.9h0M1428.7 287.3h0M1430.1 288.6h0M1431.5 289.9h0M1432.8 291.0h0M1435.6 293.0h0M1437.0 293.8h0M1438.4 294.4h0M1439.8 294.9h0M1441.2 295.3h0M1442.6 295.5h0M1443.9 295.6h0M1445.3 295.6h0M1446.7 295.5h0M1448.1 295.2h0M1449.5 294.9h0M1452.3 293.9h0M1453.7 293.2h0M1455.0 292.5h0M1456.4 291.7h0M1457.8 290.8h0M1459.2 289.8h0M1460.6 288.8h0M1462.0 287.8h0M1463.4 286.7h0M1464.8 285.5h0M1466.1 284.3h0M1468.9 281.8h0M1197.3 280.5h0M1198.7 279.2h0M1200.1 277.9h0M1201.5 276.6h0M1202.9 275.3h0M1204.3 274.0h0M1205.6 272.7h0M1207.0 271.5h0M1208.4 270.2h0M1209.8 269.0h0M1212.6 266.7h0M1214.0 265.6h0M1215.4 264.5h0M1216.7 263.5h0M1218.1 262.6h0M1219.5 261.7h0M1220.9 260.9h0M1222.3 260.1h0M1223.7 259.4h0M1225.1 258.8h0M1226.5 258.3h0M1229.2 257.5h0M1230.6 257.2h0M1232.0 257.1h0M1233.4 257.0h0M1234.8 257.0h0M1236.2 257.2h0M1237.6 257.4h0M1238.9 257.8h0M1240.3 258.2h0M1241.7 258.7h0M1243.1 259.3h0M1245.9 260.5h0M1247.3 261.0h0M1248.7 261.6h0M1250.0 262.1h0M1251.4 262.5h0M1252.8 262.9h0M1254.2 263.2h0M1255.6 263.3h0M1257.0 263.4h0M1258.4 263.3h0M1259.8 263.1h0M1262.5 262.4h0M1263.9 261.8h0M1265.3 261.2h0M1266.7 260.5h0M1268.1 259.6h0M1269.5 258.7h0M1270.9 257.6h0M1272.2 256.5h0M1273.6 255.2h0M1275.0 253.9h0M1276.4 252.5h0M1279.2 249.3h0M1280.6 247.6h0M1282.0 245.8h0M1283.3 243.9h0M1284.7 242.0h0M1286.1 239.9h0M1287.5 237.8h0M1288.9 235.7h0M1290.3 233.5h0M1291.7 231.2h0M1293.1 228.9h0M1295.8 224.2h0M1297.2 221.8h0M1298.6 219.4h0M1300.0 217.0h0M1301.4 214.5h0M1302.8 212.0h0M1304.2 209.6h0M1305.6 207.1h0M1306.9 204.7h0M1308.3 202.3h0M1309.7 199.8h0M1312.5 195.1h0M1313.9 192.9h0M1315.3 190.6h0M1316.7 188.5h0M1318.0 186.4h0M1319.4 184.5h0M1320.8 182.6h0M1322.2 180.8h0M1323.6 179.1h0M1325.0 177.6h0M1326.4 176.2h0M1329.1 173.9h0M1330.5 173.0h0M1331.9 172.2h0M1333.3 171.6h0M1334.7 171.2h0M1336.1 171.1h0M1337.5 171.1h0M1338.9 171.3h0M1340.2 171.8h0M1341.6 172.5h0M1343.0 173.4h0M1345.8 175.9h0M1347.2 177.4h0M1348.6 179.0h0M1350.0 180.8h0M1351.3 182.8h0M1352.7 184.8h0M1354.1 187.0h0M1355.5 189.2h0M1356.9 191.6h0M1358.3 194.0h0M1359.7 196.4h0M1362.4 201.4h0M1363.8 204.0h0M1365.2 206.5h0M1366.6 209.0h0M1368.0 211.5h0M1369.4 214.0h0M1370.8 216.4h0M1372.2 218.8h0M1373.5 221.2h0M1374.9 223.5h0M1376.3 225.9h0M1379.1 230.5h0M1380.5 232.8h0M1381.9 235.0h0M1383.3 237.3h0M1384.6 239.5h0M1386.0 241.7h0M1387.4 244.0h0M1388.8 246.2h0M1390.2 248.4h0M1391.6 250.6h0M1393.0 252.7h0M1395.8 257.1h0M1397.1 259.3h0M1398.5 261.5h0M1399.9 263.6h0M1401.3 265.8h0M1402.7 267.9h0M1404.1 270.0h0M1405.5 272.1h0M1406.9 274.2h0M1408.2 276.2h0M1409.6 278.2h0M1412.4 282.0h0M1413.8 283.9h0M1415.2 285.7h0M1416.6 287.5h0M1418.0 289.2h0M1419.3 290.9h0M1420.7 292.5h0M1422.1 294.1h0M1423.5 295.6h0M1424.9 297.0h0M1426.3 298.3h0M1429.1 300.8h0M1430.4 301.9h0M1431.8 302.9h0M1433.2 303.8h0M1434.6 304.7h0M1436.0 305.4h0M1437.4 306.1h0M1438.8 306.6h0M1440.2 307.1h0M1441.5 307.4h0M1442.9 307.7h0M1445.7 307.8h0M1447.1 307.7h0M1448.5 307.5h0M1449.9 307.1h0M1451.3 306.7h0M1452.6 306.2h0M1454.0 305.6h0M1455.4 304.9h0M1456.8 304.2h0M1458.2 303.3h0M1459.6 302.4h0M1462.4 300.5h0M1463.7 299.4h0M1465.1 298.3h0M1466.5 297.1h0M1467.9 295.9h0M1469.3 294.7h0M1197.7 293.4h0M1199.1 292.2h0M1200.5 290.9h0M1201.8 289.6h0M1203.2 288.3h0M1206.0 285.7h0M1207.4 284.4h0M1208.8 283.1h0M1210.2 281.9h0M1211.6 280.7h0M1213.0 279.5h0M1214.3 278.3h0M1215.7 277.2h0M1217.1 276.1h0M1218.5 275.1h0M1219.9 274.1h0M1222.7 272.2h0M1224.1 271.4h0M1225.4 270.6h0M1226.8 269.8h0M1228.2 269.1h0M1229.6 268.5h0M1231.0 267.9h0M1232.4 267.4h0M1233.8 267.0h0M1235.2 266.6h0M1236.5 266.3h0M1239.3 265.9h0M1240.7 265.8h0M1242.1 265.8h0M1243.5 265.9h0M1244.9 266.0h0M1246.3 266.2h0M1247.6 266.4h0M1249.0 266.7h0M1250.4 266.9h0M1251.8 267.2h0M1253.2 267.5h0M1256.0 267.9h0M1257.4 268.0h0M1258.7 268.0h0M1260.1 267.9h0M1261.5 267.8h0M1262.9 267.6h0M1264.3 267.2h0M1265.7 266.8h0M1267.1 266.3h0M1268.5 265.8h0M1269.8 265.1h0M1272.6 263.6h0M1274.0 262.7h0M1275.4 261.8h0M1276.8 260.7h0M1278.2 259.7h0M1279.6 258.5h0M1280.9 257.3h0M1282.3 256.1h0M1283.7 254.8h0M1285.1 253.4h0M1286.5 252.0h0M1289.3 249.0h0M1290.7 247.5h0M1292.0 245.9h0M1293.4 244.2h0M1294.8 242.5h0M1296.2 240.7h0M1297.6 238.9h0M1299.0 237.1h0M1300.4 235.1h0M1301.8 233.2h0M1303.1 231.2h0M1305.9 227.0h0M1307.3 224.8h0M1308.7 222.5h0M1310.1 220.2h0M1311.5 217.9h0M1312.9 215.4h0M1314.3 213.0h0M1315.6 210.4h0M1317.0 207.8h0M1318.4 205.1h0M1319.8 202.4h0M1322.6 196.8h0M1324.0 194.0h0M1325.4 191.2h0M1326.7 188.4h0M1328.1 185.7h0M1329.5 183.1h0M1330.9 180.5h0M1332.3 178.1h0M1333.7 175.7h0M1335.1 173.6h0M1336.5 171.6h0M1339.2 168.2h0M1340.6 166.8h0M1342.0 165.7h0M1343.4 164.8h0M1344.8 164.2h0M1346.2 164.0h0M1347.6 164.0h0M1348.9 164.4h0M1350.3 165.0h0M1351.7 166.0h0M1353.1 167.1h0M1355.9 170.1h0M1357.3 171.9h0M1358.7 173.9h0M1360.0 176.1h0M1361.4 178.4h0M1362.8 180.8h0M1364.2 183.3h0M1365.6 185.9h0M1367.0 188.6h0M1368.4 191.3h0M1369.8 194.1h0M1372.5 199.7h0M1373.9 202.5h0M1375.3 205.2h0M1376.7 207.9h0M1378.1 210.5h0M1379.5 213.2h0M1380.9 215.8h0M1382.2 218.4h0M1383.6 221.0h0M1385.0 223.6h0M1386.4 226.2h0M1389.2 231.6h0M1390.6 234.3h0M1392.0 237.1h0M1393.3 240.0h0M1394.7 243.0h0M1396.1 246.0h0M1397.5 249.1h0M1398.9 252.4h0M1400.3 255.7h0M1401.7 259.2h0M1403.1 262.7h0M1405.8 269.8h0M1407.2 273.4h0M1408.6 277.0h0M1410.0 280.5h0M1411.4 284.1h0M1412.8 287.5h0M1414.2 290.9h0M1415.6 294.1h0M1416.9 297.3h0M1418.3 300.3h0M1419.7 303.2h0M1422.5 308.6h0M1423.9 311.2h0M1425.3 313.6h0M1426.7 315.8h0M1428.0 317.9h0M1429.4 319.9h0M1430.8 321.8h0M1432.2 323.5h0M1433.6 325.0h0M1435.0 326.4h0M1436.4 327.6h0M1439.1 329.7h0M1440.5 330.4h0M1441.9 331.0h0M1443.3 331.5h0M1444.7 331.7h0M1446.1 331.8h0M1447.5 331.8h0M1448.9 331.6h0M1450.2 331.2h0M1451.6 330.8h0M1453.0 330.1h0M1455.8 328.6h0M1457.2 327.6h0M1458.6 326.6h0M1460.0 325.5h0M1461.3 324.2h0M1462.7 323.0h0M1464.1 321.6h0M1465.5 320.2h0M1466.9 318.8h0M1468.3 317.3h0M1196.7 315.7h0M1199.4 312.6h0M1200.8 311.0h0M1202.2 309.4h0M1203.6 307.8h0M1205.0 306.3h0M1206.4 304.7h0M1207.8 303.2h0M1209.2 301.7h0M1210.5 300.2h0M1211.9 298.7h0M1213.3 297.3h0M1216.1 294.5h0M1217.5 293.2h0M1218.9 291.8h0M1220.3 290.5h0M1221.6 289.3h0M1223.0 288.0h0M1224.4 286.8h0M1225.8 285.7h0M1227.2 284.5h0M1228.6 283.4h0M1230.0 282.4h0M1232.8 280.4h0M1234.1 279.4h0M1235.5 278.6h0M1236.9 277.8h0M1238.3 277.0h0M1239.7 276.3h0M1241.1 275.7h0M1242.5 275.2h0M1243.9 274.8h0M1245.2 274.5h0M1246.6 274.3h0M1249.4 274.1h0M1250.8 274.2h0M1252.2 274.4h0M1253.6 274.8h0M1255.0 275.2h0M1256.3 275.8h0M1257.7 276.4h0M1259.1 277.0h0M1260.5 277.6h0M1261.9 278.1h0M1263.3 278.6h0M1266.1 279.4h0M1267.4 279.6h0M1268.8 279.7h0M1270.2 279.6h0M1271.6 279.5h0M1273.0 279.2h0M1274.4 278.9h0M1275.8 278.4h0M1277.2 277.9h0M1278.5 277.3h0M1279.9 276.6h0M1282.7 274.9h0M1284.1 274.0h0M1285.5 273.0h0M1286.9 271.9h0M1288.3 270.8h0M1289.6 269.7h0M1291.0 268.4h0M1292.4 267.2h0M1293.8 265.9h0M1295.2 264.5h0M1296.6 263.1h0M1299.4 260.1h0M1300.7 258.5h0M1302.1 256.8h0M1303.5 255.0h0M1304.9 253.1h0M1306.3 251.1h0M1307.7 248.9h0M1309.1 246.5h0M1310.5 244.0h0M1311.8 241.4h0M1313.2 238.6h0M1316.0 232.8h0M1317.4 229.8h0M1318.8 226.8h0M1320.2 223.7h0M1321.6 220.7h0M1323.0 217.7h0M1324.3 214.7h0M1325.7 211.7h0M1327.1 208.9h0M1328.5 206.1h0M1329.9 203.5h0M1332.7 198.5h0M1334.1 196.2h0M1335.4 194.1h0M1336.8 192.1h0M1338.2 190.2h0M1339.6 188.6h0M1341.0 187.1h0M1342.4 185.7h0M1343.8 184.6h0M1345.2 183.6h0M1346.5 182.9h0M1349.3 182.1h0M1350.7 182.0h0M1352.1 182.2h0M1353.5 182.6h0M1354.9 183.2h0M1356.3 184.0h0M1357.6 185.0h0M1359.0 186.2h0M1360.4 187.5h0M1361.8 189.0h0M1363.2 190.7h0M1366.0 194.5h0M1367.4 196.5h0M1368.7 198.7h0M1370.1 201.0h0M1371.5 203.3h0M1372.9 205.8h0M1374.3 208.3h0M1375.7 210.9h0M1377.1 213.5h0M1378.5 216.2h0M1379.8 218.9h0M1382.6 224.3h0M1384.0 227.1h0M1385.4 229.9h0M1386.8 232.7h0M1388.2 235.5h0M1389.6 238.3h0M1390.9 241.1h0M1392.3 243.9h0M1393.7 246.7h0M1395.1 249.5h0M1396.5 252.3h0M1399.3 257.8h0M1400.7 260.5h0M1402.0 263.2h0M1403.4 265.9h0M1404.8 268.5h0M1406.2 271.1h0M1407.6 273.7h0M1409.0 276.3h0M1410.4 278.8h0M1411.8 281.3h0M1413.1 283.9h0M1415.9 288.9h0M1417.3 291.4h0M1418.7 293.9h0M1420.1 296.4h0M1421.5 299.0h0M1422.9 301.5h0M1424.3 304.0h0M1425.6 306.5h0M1427.0 309.0h0M1428.4 311.5h0M1429.8 314.0h0M1432.6 318.8h0M1434.0 321.2h0M1435.4 323.5h0M1436.7 325.8h0M1438.1 328.0h0M1439.5 330.1h0M1440.9 332.2h0M1442.3 334.1h0M1443.7 336.0h0M1445.1 337.6h0M1446.5 339.1h0M1449.2 341.5h0M1450.6 342.4h0M1452.0 343.1h0M1453.4 343.4h0M1454.8 343.5h0M1456.2 343.4h0M1457.6 342.9h0M1458.9 342.3h0M1460.3 341.4h0M1461.7 340.4h0M1463.1 339.2h0M1465.9 336.3h0M1467.3 334.7h0M1468.7 333.1h0M1197.0 331.4h0M1198.4 329.6h0M1199.8 327.9h0M1201.2 326.1h0M1202.6 324.4h0M1204.0 322.7h0M1205.4 321.1h0M1206.8 319.5h0M1209.5 316.2h0M1210.9 314.6h0M1212.3 313.0h0M1213.7 311.3h0M1215.1 309.6h0M1216.5 307.7h0M1217.9 305.9h0M1219.2 303.9h0M1220.6 301.8h0M1222.0 299.7h0M1223.4 297.5h0M1226.2 293.2h0M1227.6 291.1h0M1229.0 289.0h0M1230.3 287.0h0M1231.7 285.2h0M1233.1 283.4h0M1234.5 281.9h0M1235.9 280.5h0M1237.3 279.3h0M1238.7 278.2h0M1240.1 277.3h0M1242.8 276.0h0M1244.2 275.6h0M1245.6 275.3h0M1247.0 275.1h0M1248.4 275.1h0M1249.8 275.2h0M1251.2 275.4h0M1252.6 275.7h0M1253.9 276.1h0M1255.3 276.6h0M1256.7 277.2h0M1259.5 278.5h0M1260.9 279.2h0M1262.3 280.0h0M1263.7 280.8h0M1265.0 281.6h0M1266.4 282.4h0M1267.8 283.1h0M1269.2 283.9h0M1270.6 284.6h0M1272.0 285.3h0M1273.4 286.0h0M1276.1 287.1h0M1277.5 287.5h0M1278.9 287.8h0M1280.3 288.1h0M1281.7 288.2h0M1283.1 288.2h0M1284.5 288.1h0M1285.9 287.8h0M1287.2 287.4h0M1288.6 286.8h0M1290.0 286.1h0M1292.8 284.2h0M1294.2 283.0h0M1295.6 281.8h0M1297.0 280.5h0M1298.3 279.2h0M1299.7 277.7h0M1301.1 276.3h0M1302.5 274.8h0M1303.9 273.3h0M1305.3 271.8h0M1306.7 270.4h0M1309.4 267.5h0M1310.8 266.1h0M1312.2 264.6h0M1313.6 263.1h0M1315.0 261.6h0M1316.4 260.1h0M1317.8 258.4h0M1319.2 256.7h0M1320.5 255.0h0M1321.9 253.1h0M1323.3 251.1h0M1326.1 246.7h0M1327.5 244.4h0M1328.9 241.8h0M1330.3 239.2h0M1331.6 236.5h0M1333.0 233.7h0M1334.4 230.9h0M1335.8 228.0h0M1337.2 225.0h0M1338.6 222.1h0M1340.0 219.1h0M1342.8 213.2h0M1344.1 210.3h0M1345.5 207.5h0M1346.9 204.8h0M1348.3 202.1h0M1349.7 199.6h0M1351.1 197.3h0M1352.5 195.1h0M1353.9 193.1h0M1355.2 191.3h0M1356.6 189.8h0M1359.4 187.5h0M1360.8 186.9h0M1362.2 186.5h0M1363.6 186.5h0M1365.0 186.7h0M1366.3 187.3h0M1367.7 188.2h0M1369.1 189.3h0M1370.5 190.6h0M1371.9 192.1h0M1373.3 193.7h0M1376.1 197.5h0M1377.4 199.5h0M1378.8 201.6h0M1380.2 203.7h0M1381.6 205.8h0M1383.0 208.0h0M1384.4 210.1h0M1385.8 212.1h0M1387.2 214.1h0M1388.5 215.9h0M1389.9 217.7h0M1392.7 221.0h0M1394.1 222.7h0M1395.5 224.4h0M1396.9 226.1h0M1398.3 227.9h0M1399.6 229.8h0M1401.0 231.8h0M1402.4 234.0h0M1403.8 236.3h0M1405.2 238.9h0M1406.6 241.7h0M1409.4 248.2h0M1410.7 252.0h0M1412.1 256.0h0M1413.5 260.5h0M1414.9 265.3h0M1416.3 270.4h0M1417.7 275.6h0M1419.1 280.9h0M1420.5 286.3h0M1421.8 291.5h0M1423.2 296.5h0M1426.0 305.8h0M1427.4 310.0h0M1428.8 313.9h0M1430.2 317.5h0M1431.6 320.8h0M1433.0 323.9h0M1434.3 326.7h0M1435.7 329.2h0M1437.1 331.5h0M1438.5 333.5h0M1439.9 335.3h0M1442.7 338.2h0M1444.1 339.3h0M1445.4 340.1h0M1446.8 340.8h0M1448.2 341.2h0M1449.6 341.5h0M1451.0 341.5h0M1452.4 341.3h0M1453.8 341.0h0M1455.2 340.5h0M1456.5 339.8h0M1459.3 338.0h0M1460.7 336.9h0M1462.1 335.6h0M1463.5 334.3h0M1464.9 332.8h0M1466.3 331.2h0M1467.6 329.5h0M1469.0 327.7h0M1197.4 325.9h0M1198.8 324.0h0M1200.2 322.0h0M1203.0 317.9h0M1204.4 315.8h0M1205.7 313.7h0M1207.1 311.6h0M1208.5 309.4h0M1209.9 307.3h0M1211.3 305.1h0M1212.7 303.0h0M1214.1 300.8h0M1215.5 298.7h0M1216.8 296.6h0M1219.6 292.5h0M1221.0 290.6h0M1222.4 288.6h0M1223.8 286.7h0M1225.2 284.9h0M1226.6 283.1h0M1227.9 281.4h0M1229.3 279.7h0M1230.7 278.2h0M1232.1 276.7h0M1233.5 275.2h0M1236.3 272.6h0M1237.7 271.4h0M1239.0 270.4h0M1240.4 269.4h0M1241.8 268.5h0M1243.2 267.7h0M1244.6 267.1h0M1246.0 266.5h0M1247.4 266.1h0M1248.8 265.7h0M1250.2 265.5h0M1252.9 265.5h0M1254.3 265.7h0M1255.7 266.1h0M1257.1 266.5h0M1258.5 267.0h0M1259.9 267.6h0M1261.3 268.3h0M1262.6 269.1h0M1264.0 269.9h0M1265.4 270.8h0M1266.8 271.7h0M1269.6 273.6h0M1271.0 274.6h0M1272.4 275.6h0M1273.7 276.6h0M1275.1 277.5h0M1276.5 278.5h0M1277.9 279.3h0M1279.3 280.2h0M1280.7 281.0h0M1282.1 281.7h0M1283.5 282.3h0M1286.2 283.3h0M1287.6 283.6h0M1289.0 283.9h0M1290.4 284.0h0M1291.8 283.9h0M1293.2 283.8h0M1294.6 283.5h0M1295.9 283.1h0M1297.3 282.7h0M1298.7 282.0h0M1300.1 281.3h0M1302.9 279.6h0M1304.3 278.5h0M1305.7 277.4h0M1307.0 276.1h0M1308.4 274.8h0M1309.8 273.4h0M1311.2 271.8h0M1312.6 270.2h0M1314.0 268.5h0M1315.4 266.6h0M1316.8 264.7h0M1319.5 260.7h0M1320.9 258.5h0M1322.3 256.3h0M1323.7 254.0h0M1325.1 251.6h0M1326.5 249.1h0M1327.9 246.6h0M1329.2 244.1h0M1330.6 241.5h0M1332.0 238.9h0M1333.4 236.2h0M1336.2 230.8h0M1337.6 228.0h0M1339.0 225.2h0M1340.3 222.5h0M1341.7 219.7h0M1343.1 216.9h0M1344.5 214.3h0M1345.9 211.6h0M1347.3 209.1h0M1348.7 206.7h0M1350.1 204.5h0M1352.8 200.5h0M1354.2 198.8h0M1355.6 197.3h0M1357.0 196.1h0M1358.4 195.2h0M1359.8 194.6h0M1361.2 194.3h0M1362.6 194.3h0M1363.9 194.7h0M1365.3 195.3h0M1366.7 196.3h0M1369.5 198.8h0M1370.9 200.4h0M1372.3 202.2h0M1373.7 204.1h0M1375.0 206.1h0M1376.4 208.2h0M1377.8 210.5h0M1379.2 212.7h0M1380.6 215.0h0M1382.0 217.3h0M1383.4 219.6h0M1386.1 224.0h0M1387.5 226.1h0M1388.9 228.1h0M1390.3 230.0h0M1391.7 231.9h0M1393.1 233.7h0M1394.5 235.5h0M1395.9 237.3h0M1397.2 239.2h0M1398.6 241.1h0M1400.0 243.0h0M1402.8 247.1h0M1404.2 249.3h0M1405.6 251.6h0M1407.0 254.1h0M1408.3 256.7h0M1409.7 259.5h0M1411.1 262.5h0M1412.5 265.7h0M1413.9 269.0h0M1415.3 272.5h0M1416.7 276.1h0M1419.4 283.4h0M1420.8 287.2h0M1422.2 291.0h0M1423.6 294.7h0M1425.0 298.5h0M1426.4 302.1h0M1427.8 305.7h0M1429.2 309.3h0M1430.5 312.7h0M1431.9 316.0h0M1433.3 319.2h0M1436.1 325.2h0M1437.5 327.9h0M1438.9 330.5h0M1440.3 333.0h0M1441.7 335.3h0M1443.0 337.3h0M1444.4 339.2h0M1445.8 340.9h0M1447.2 342.4h0M1448.6 343.6h0M1450.0 344.6h0M1452.8 345.8h0M1454.1 346.1h0M1455.5 346.0h0M1456.9 345.7h0M1458.3 345.2h0M1459.7 344.4h0M1461.1 343.4h0M1462.5 342.2h0M1463.9 340.9h0M1465.2 339.3h0M1466.6 337.6h0M1469.4 333.8h0M1197.8 331.7h0M1199.2 329.5h0M1200.6 327.2h0M1202.0 324.9h0M1203.3 322.4h0M1204.7 320.0h0M1206.1 317.4h0M1207.5 314.9h0M1208.9 312.3h0M1210.3 309.8h0M1213.1 304.8h0M1214.4 302.3h0M1215.8 299.9h0M1217.2 297.6h0M1218.6 295.3h0M1220.0 293.1h0M1221.4 290.9h0M1222.8 288.8h0M1224.2 286.8h0M1225.5 284.9h0M1226.9 283.0h0M1229.7 279.6h0M1231.1 278.1h0M1232.5 276.6h0M1233.9 275.2h0M1235.3 274.0h0M1236.6 272.9h0M1238.0 271.8h0M1239.4 270.9h0M1240.8 270.2h0M1242.2 269.5h0M1243.6 269.0h0M1246.4 268.5h0M1247.7 268.4h0M1249.1 268.5h0M1250.5 268.7h0M1251.9 269.1h0M1253.3 269.5h0M1254.7 270.1h0M1256.1 270.9h0M1257.5 271.7h0M1258.8 272.6h0M1260.2 273.5h0M1263.0 275.7h0M1264.4 276.9h0M1265.8 278.1h0M1267.2 279.3h0M1268.6 280.6h0M1270.0 281.9h0M1271.3 283.2h0M1272.7 284.6h0M1274.1 285.9h0M1275.5 287.2h0M1276.9 288.4h0M1279.7 290.9h0M1281.1 292.0h0M1282.4 293.1h0M1283.8 294.1h0M1285.2 295.1h0M1286.6 296.0h0M1288.0 296.7h0M1289.4 297.4h0M1290.8 298.0h0M1292.2 298.4h0M1293.5 298.7h0M1296.3 298.9h0M1297.7 298.8h0M1299.1 298.5h0M1300.5 298.0h0M1301.9 297.4h0M1303.3 296.6h0M1304.6 295.6h0M1306.0 294.5h0M1307.4 293.2h0M1308.8 291.9h0M1310.2 290.4h0M1313.0 287.1h0M1314.4 285.3h0M1315.7 283.5h0M1317.1 281.6h0M1318.5 279.6h0M1319.9 277.6h0M1321.3 275.6h0M1322.7 273.6h0M1324.1 271.5h0M1325.5 269.4h0M1326.8 267.4h0M1329.6 263.4h0M1331.0 261.4h0M1332.4 259.4h0M1333.8 257.4h0M1335.2 255.5h0M1336.6 253.5h0M1337.9 251.5h0M1339.3 249.5h0M1340.7 247.5h0M1342.1 245.5h0M1343.5 243.4h0M1346.3 239.2h0M1347.7 237.0h0M1349.0 234.8h0M1350.4 232.5h0M1351.8 230.1h0M1353.2 227.8h0M1354.6 225.5h0M1356.0 223.2h0M1357.4 221.0h0M1358.8 218.9h0M1360.2 216.9h0M1362.9 213.4h0M1364.3 211.9h0M1365.7 210.7h0M1367.1 209.7h0M1368.5 209.0h0M1369.9 208.6h0M1371.3 208.5h0M1372.6 208.8h0M1374.0 209.4h0M1375.4 210.2h0M1376.8 211.4h0M1379.6 214.3h0M1381.0 216.1h0M1382.4 218.0h0M1383.7 220.1h0M1385.1 222.2h0M1386.5 224.4h0M1387.9 226.7h0M1389.3 229.0h0M1390.7 231.2h0M1392.1 233.4h0M1393.5 235.6h0M1396.2 239.7h0M1397.6 241.7h0M1399.0 243.6h0M1400.4 245.4h0M1401.8 247.2h0M1403.2 248.9h0M1404.6 250.7h0M1405.9 252.3h0M1407.3 254.0h0M1408.7 255.6h0M1410.1 257.2h0M1412.9 260.4h0M1414.3 262.0h0M1415.7 263.6h0M1417.0 265.3h0M1418.4 266.9h0M1419.8 268.6h0M1421.2 270.4h0M1422.6 272.2h0M1424.0 274.0h0M1425.4 275.9h0M1426.8 277.9h0M1429.5 282.2h0M1430.9 284.5h0M1432.3 286.9h0M1433.7 289.4h0M1435.1 292.1h0M1436.5 294.9h0M1437.9 297.8h0M1439.2 300.9h0M1440.6 304.2h0M1442.0 307.5h0M1443.4 310.9h0M1446.2 317.7h0M1447.6 321.0h0M1449.0 324.3h0M1450.3 327.5h0M1451.7 330.5h0M1453.1 333.3h0M1454.5 335.9h0M1455.9 338.3h0M1457.3 340.4h0M1458.7 342.1h0M1460.1 343.5h0M1462.8 345.2h0M1464.2 345.5h0M1465.6 345.5h0M1467.0 345.1h0M1468.4 344.5h0M1196.8 343.6h0M1198.2 342.5h0M1199.6 341.1h0M1200.9 339.5h0M1202.3 337.7h0M1203.7 335.8h0M1206.5 331.4h0M1207.9 329.0h0M1209.3 326.6h0M1210.7 324.0h0M1212.0 321.4h0M1213.4 318.7h0M1214.8 316.0h0M1216.2 313.3h0M1217.6 310.6h0M1219.0 307.9h0M1220.4 305.3h0M1223.1 300.2h0M1224.5 297.8h0M1225.9 295.4h0M1227.3 293.1h0M1228.7 290.9h0M1230.1 288.7h0M1231.5 286.6h0M1232.9 284.6h0M1234.2 282.7h0M1235.6 280.9h0M1237.0 279.1h0M1239.8 275.9h0M1241.2 274.4h0M1242.6 273.1h0M1244.0 271.8h0M1245.3 270.7h0M1246.7 269.6h0M1248.1 268.7h0M1249.5 267.8h0M1250.9 267.1h0M1252.3 266.6h0M1253.7 266.1h0M1256.4 265.6h0M1257.8 265.5h0M1259.2 265.6h0M1260.6 265.7h0M1262.0 266.0h0M1263.4 266.5h0M1264.8 267.0h0M1266.2 267.6h0M1267.5 268.3h0M1268.9 269.0h0M1270.3 269.9h0M1273.1 271.7h0M1274.5 272.7h0M1275.9 273.7h0M1277.3 274.7h0M1278.7 275.8h0M1280.0 276.9h0M1281.4 278.0h0M1282.8 279.0h0M1284.2 280.1h0M1285.6 281.1h0M1287.0 282.1h0M1289.8 284.0h0M1291.1 284.9h0M1292.5 285.7h0M1293.9 286.4h0M1295.3 287.1h0M1296.7 287.6h0M1298.1 288.1h0M1299.5 288.5h0M1300.9 288.7h0M1302.2 288.8h0M1303.6 288.8h0M1306.4 288.4h0M1307.8 288.0h0M1309.2 287.4h0M1310.6 286.7h0M1312.0 285.9h0M1313.3 284.9h0M1314.7 283.8h0M1316.1 282.6h0M1317.5 281.3h0M1318.9 279.9h0M1320.3 278.4h0M1323.1 275.2h0M1324.4 273.5h0M1325.8 271.7h0M1327.2 269.9h0M1328.6 268.0h0M1330.0 266.1h0M1331.4 264.2h0M1332.8 262.2h0M1334.2 260.3h0M1335.5 258.3h0M1336.9 256.3h0M1339.7 252.4h0M1341.1 250.4h0M1342.5 248.5h0M1343.9 246.6h0M1345.3 244.8h0M1346.6 243.0h0M1348.0 241.3h0M1349.4 239.6h0M1350.8 238.0h0M1352.2 236.5h0M1353.6 235.1h0M1356.4 232.5h0M1357.7 231.4h0M1359.1 230.4h0M1360.5 229.5h0" stroke="#000" stroke-width="2.15" stroke-linecap="round" fill="none"/>
<rect x="1706.50" y="51.40" width="273.00" height="382.00" fill="none" stroke="#000" stroke-width="2.90" stroke-linejoin="round"/>
<path d="M1761.10 51.40v7.15M1761.10 433.40v-7.15M1815.70 51.40v7.15M1815.70 433.40v-7.15M1870.30 51.40v7.15M1870.30 433.40v-7.15M1924.90 51.40v7.15M1924.90 433.40v-7.15" stroke="#000" stroke-width="3.00" fill="none"/>
<path d="M1720.15 51.40v3.45M1720.15 433.40v-3.45M1733.80 51.40v3.45M1733.80 433.40v-3.45M1747.45 51.40v3.45M1747.45 433.40v-3.45M1774.75 51.40v3.45M1774.75 433.40v-3.45M1788.40 51.40v3.45M1788.40 433.40v-3.45M1802.05 51.40v3.45M1802.05 433.40v-3.45M1829.35 51.40v3.45M1829.35 433.40v-3.45M1843.00 51.40v3.45M1843.00 433.40v-3.45M1856.65 51.40v3.45M1856.65 433.40v-3.45M1883.95 51.40v3.45M1883.95 433.40v-3.45M1897.60 51.40v3.45M1897.60 433.40v-3.45M1911.25 51.40v3.45M1911.25 433.40v-3.45M1938.55 51.40v3.45M1938.55 433.40v-3.45M1952.20 51.40v3.45M1952.20 433.40v-3.45M1965.85 51.40v3.45M1965.85 433.40v-3.45" stroke="#000" stroke-width="3.00" fill="none"/>
<path d="M1706.50 62.90h5.45M1979.50 62.90h-5.45M1706.50 152.55h5.45M1979.50 152.55h-5.45M1706.50 242.20h5.45M1979.50 242.20h-5.45M1706.50 331.85h5.45M1979.50 331.85h-5.45M1706.50 421.50h5.45M1979.50 421.50h-5.45" stroke="#000" stroke-width="3.00" fill="none"/>
<path d="M1706.50 85.31h2.55M1979.50 85.31h-2.55M1706.50 107.72h2.55M1979.50 107.72h-2.55M1706.50 130.14h2.55M1979.50 130.14h-2.55M1706.50 174.96h2.55M1979.50 174.96h-2.55M1706.50 197.38h2.55M1979.50 197.38h-2.55M1706.50 219.79h2.55M1979.50 219.79h-2.55M1706.50 264.61h2.55M1979.50 264.61h-2.55M1706.50 287.02h2.55M1979.50 287.02h-2.55M1706.50 309.44h2.55M1979.50 309.44h-2.55M1706.50 354.26h2.55M1979.50 354.26h-2.55M1706.50 376.68h2.55M1979.50 376.68h-2.55M1706.50 399.09h2.55M1979.50 399.09h-2.55" stroke="#000" stroke-width="2.40" fill="none"/>
<text x="1697.90" y="75.20" font-family='"Liberation Sans", sans-serif' font-size="34.70" text-anchor="end" >1.04</text>
<text x="1697.90" y="164.85" font-family='"Liberation Sans", sans-serif' font-size="34.70" text-anchor="end" >1.02</text>
<text x="1697.90" y="254.50" font-family='"Liberation Sans", sans-serif' font-size="34.70" text-anchor="end" >1.00</text>
<text x="1697.90" y="344.15" font-family='"Liberation Sans", sans-serif' font-size="34.70" text-anchor="end" >0.98</text>
<text x="1697.90" y="433.80" font-family='"Liberation Sans", sans-serif' font-size="34.70" text-anchor="end" >0.96</text>
<text x="1704.70" y="477.00" font-family='"Liberation Sans", sans-serif' font-size="34.70" text-anchor="middle" >0.0</text>
<text x="1761.00" y="477.00" font-family='"Liberation Sans", sans-serif' font-size="34.70" text-anchor="middle" >0.2</text>
<text x="1814.70" y="477.00" font-family='"Liberation Sans", sans-serif' font-size="34.70" text-anchor="middle" >0.4</text>
<text x="1869.20" y="477.00" font-family='"Liberation Sans", sans-serif' font-size="34.70" text-anchor="middle" >0.6</text>
<text x="1924.90" y="477.00" font-family='"Liberation Sans", sans-serif' font-size="34.70" text-anchor="middle" >0.8</text>
<text x="1979.70" y="477.00" font-family='"Liberation Sans", sans-serif' font-size="34.70" text-anchor="middle" >1.0</text>
<text x="1843.00" y="514.10" font-family='"Liberation Sans", sans-serif' font-size="34.70" text-anchor="middle" >phase</text>
<text transform="translate(1603.30 237.90) rotate(-90)" font-family='"Liberation Sans", sans-serif' font-size="34.70" text-anchor="middle" letter-spacing="0.33">relative flux</text>
<text x="1781.50" y="34.00" font-family='"Liberation Sans", sans-serif' font-size="43.90" text-anchor="start" >4.354d</text>
<path d="M1961.1 284.2h0M1962.4 284.0h0M1963.6 283.8h0M1964.9 283.7h0M1966.2 283.6h0M1968.8 283.6h0M1970.1 283.5h0M1971.3 283.6h0M1972.6 283.6h0M1973.9 283.6h0M1976.5 283.7h0M1977.7 283.7h0M1979.0 283.8h0M1707.3 283.8h0M1708.6 283.8h0M1711.1 283.8h0M1712.4 283.8h0M1713.7 283.7h0M1715.0 283.6h0M1716.3 283.5h0M1718.8 283.1h0M1720.1 282.9h0M1721.4 282.6h0M1722.7 282.2h0M1724.0 281.8h0M1726.5 280.8h0M1727.8 280.2h0M1729.1 279.6h0M1730.4 278.8h0M1731.6 278.1h0M1734.2 276.3h0M1735.5 275.3h0M1736.8 274.3h0M1738.1 273.3h0M1739.3 272.2h0M1741.9 269.8h0M1743.2 268.6h0M1744.5 267.3h0M1745.7 266.0h0M1747.0 264.6h0M1749.6 261.8h0M1750.9 260.4h0M1752.1 258.9h0M1753.4 257.4h0M1754.7 255.9h0M1757.3 252.8h0M1758.6 251.3h0M1759.8 249.7h0M1761.1 248.1h0M1762.4 246.5h0M1765.0 243.3h0M1766.2 241.7h0M1767.5 240.1h0M1768.8 238.4h0M1770.1 236.8h0M1772.6 233.6h0M1773.9 232.0h0M1775.2 230.4h0M1776.5 228.8h0M1777.8 227.2h0M1780.3 224.0h0M1781.6 222.5h0M1782.9 220.9h0M1784.2 219.4h0M1785.5 217.8h0M1788.0 214.8h0M1789.3 213.3h0M1790.6 211.8h0M1791.9 210.4h0M1793.1 208.9h0M1795.7 206.1h0M1797.0 204.7h0M1798.3 203.3h0M1799.6 202.0h0M1800.8 200.6h0M1803.4 198.0h0M1804.7 196.8h0M1806.0 195.6h0M1807.2 194.4h0M1808.5 193.2h0M1811.1 191.1h0M1812.4 190.0h0M1813.6 189.1h0M1814.9 188.1h0M1816.2 187.3h0M1818.8 185.8h0M1820.1 185.1h0M1821.3 184.5h0M1822.6 184.0h0M1823.9 183.5h0M1826.5 182.8h0M1827.7 182.6h0M1829.0 182.5h0M1830.3 182.5h0M1831.6 182.6h0M1834.1 183.0h0M1835.4 183.3h0M1836.7 183.7h0M1838.0 184.2h0M1839.3 184.7h0M1841.8 186.0h0M1843.1 186.8h0M1844.4 187.6h0M1845.7 188.4h0M1847.0 189.3h0M1849.5 191.1h0M1850.8 192.1h0M1852.1 193.1h0M1853.4 194.1h0M1854.6 195.2h0M1857.2 197.3h0M1858.5 198.4h0M1859.8 199.5h0M1861.0 200.7h0M1862.3 201.9h0M1864.9 204.4h0M1866.2 205.8h0M1867.5 207.2h0M1868.7 208.6h0M1870.0 210.1h0M1872.6 213.3h0M1873.9 215.0h0M1875.1 216.7h0M1876.4 218.4h0M1877.7 220.2h0M1880.3 223.7h0M1881.5 225.6h0M1882.8 227.4h0M1884.1 229.2h0M1885.4 230.9h0M1888.0 234.4h0M1889.2 236.2h0M1890.5 237.8h0M1891.8 239.5h0M1893.1 241.1h0M1895.6 244.1h0M1896.9 245.5h0M1898.2 246.8h0M1899.5 248.0h0M1900.8 249.2h0M1903.3 251.3h0M1904.6 252.2h0M1905.9 253.1h0M1907.2 253.9h0M1908.5 254.6h0M1911.0 256.0h0M1912.3 256.5h0M1913.6 257.1h0M1914.9 257.6h0M1916.1 258.0h0M1918.7 258.9h0M1920.0 259.2h0M1921.3 259.6h0M1922.5 259.9h0M1923.8 260.2h0M1926.4 260.8h0M1927.7 261.1h0M1929.0 261.4h0M1930.2 261.7h0M1931.5 262.0h0M1934.1 262.6h0M1935.4 263.0h0M1936.6 263.3h0M1937.9 263.7h0M1939.2 264.1h0M1941.8 265.1h0M1943.0 265.5h0M1944.3 266.1h0M1945.6 266.6h0M1946.9 267.1h0M1949.5 268.3h0M1950.7 268.8h0M1952.0 269.4h0M1953.3 270.0h0M1954.6 270.6h0M1957.1 271.8h0M1958.4 272.4h0M1959.7 273.0h0M1961.0 273.6h0M1962.3 274.2h0M1964.8 275.3h0M1966.1 275.8h0M1967.4 276.4h0M1968.7 276.9h0M1970.0 277.4h0M1972.5 278.3h0M1973.8 278.7h0M1975.1 279.0h0M1976.4 279.4h0M1977.6 279.7h0M1707.2 280.2h0M1708.5 280.4h0M1709.8 280.6h0M1711.0 280.7h0M1712.3 280.8h0M1714.9 280.8h0M1716.2 280.7h0M1717.5 280.6h0M1718.7 280.4h0M1720.0 280.2h0M1722.6 279.5h0M1723.9 279.1h0M1725.1 278.6h0M1726.4 278.1h0M1727.7 277.4h0M1730.3 276.0h0M1731.5 275.2h0M1732.8 274.2h0M1734.1 273.3h0M1735.4 272.2h0M1738.0 269.8h0M1739.2 268.5h0M1740.5 267.1h0M1741.8 265.6h0M1743.1 264.0h0M1745.6 260.7h0M1746.9 258.9h0M1748.2 257.0h0M1749.5 255.1h0M1750.8 253.1h0M1753.3 249.1h0M1754.6 247.0h0M1755.9 244.9h0M1757.2 242.8h0M1758.5 240.7h0M1761.0 236.5h0M1762.3 234.4h0M1763.6 232.4h0M1764.9 230.3h0M1766.1 228.3h0M1768.7 224.5h0M1770.0 222.6h0M1771.3 220.8h0M1772.5 219.1h0M1773.8 217.4h0M1776.4 214.3h0M1777.7 212.8h0M1779.0 211.4h0M1780.2 210.0h0M1781.5 208.7h0M1784.1 206.3h0M1785.4 205.1h0M1786.6 204.0h0M1787.9 203.0h0M1789.2 201.9h0M1791.8 200.0h0M1793.0 199.1h0M1794.3 198.2h0M1795.6 197.3h0M1796.9 196.5h0M1799.5 194.9h0M1800.7 194.1h0M1802.0 193.4h0M1803.3 192.7h0M1804.6 192.0h0M1807.1 190.8h0M1808.4 190.3h0M1809.7 189.8h0M1811.0 189.4h0M1812.3 189.0h0M1814.8 188.4h0M1816.1 188.3h0M1817.4 188.2h0M1818.7 188.1h0M1820.0 188.2h0M1822.5 188.5h0M1823.8 188.7h0M1825.1 189.0h0M1826.4 189.3h0M1827.6 189.7h0M1830.2 190.6h0M1831.5 191.1h0M1832.8 191.6h0M1834.0 192.2h0M1835.3 192.7h0M1837.9 193.9h0M1839.2 194.5h0M1840.5 195.2h0M1841.7 195.8h0M1843.0 196.5h0M1845.6 197.9h0M1846.9 198.6h0M1848.1 199.3h0M1849.4 200.1h0M1850.7 200.9h0M1853.3 202.7h0M1854.5 203.6h0M1855.8 204.5h0M1857.1 205.5h0M1858.4 206.5h0M1861.0 208.6h0M1862.2 209.7h0M1863.5 210.8h0M1864.8 212.0h0M1866.1 213.1h0M1868.6 215.4h0M1869.9 216.6h0M1871.2 217.7h0M1872.5 218.9h0M1873.8 220.0h0M1876.3 222.2h0M1877.6 223.3h0M1878.9 224.4h0M1880.2 225.4h0M1881.5 226.4h0M1884.0 228.3h0M1885.3 229.2h0M1886.6 230.1h0M1887.9 230.9h0M1889.1 231.6h0M1891.7 233.0h0M1893.0 233.5h0M1894.3 234.0h0M1895.5 234.5h0M1896.8 234.8h0M1899.4 235.5h0M1900.7 235.7h0M1902.0 235.9h0M1903.2 236.1h0M1904.5 236.3h0M1907.1 236.7h0M1908.4 236.9h0M1909.6 237.1h0M1910.9 237.3h0M1912.2 237.6h0M1914.8 238.3h0M1916.0 238.7h0M1917.3 239.2h0M1918.6 239.7h0M1919.9 240.4h0M1922.5 241.9h0M1923.7 242.8h0M1925.0 243.9h0M1926.3 245.0h0M1927.6 246.2h0M1930.1 249.0h0M1931.4 250.4h0M1932.7 251.9h0M1934.0 253.5h0M1935.3 255.1h0M1937.8 258.4h0M1939.1 260.1h0M1940.4 261.7h0M1941.7 263.4h0M1943.0 265.0h0M1945.5 268.2h0M1946.8 269.7h0M1948.1 271.2h0M1949.4 272.6h0M1950.6 273.9h0M1953.2 276.3h0M1954.5 277.3h0M1955.8 278.2h0M1957.0 279.0h0M1958.3 279.7h0M1960.9 280.6h0M1962.2 280.8h0M1963.5 280.8h0M1964.7 280.7h0M1966.0 280.4h0M1968.6 279.3h0M1969.9 278.5h0M1971.1 277.7h0M1972.4 276.6h0M1973.7 275.5h0M1976.3 272.9h0M1977.5 271.4h0M1978.8 269.9h0M1707.1 268.3h0M1708.4 266.5h0M1710.9 262.9h0M1712.2 261.0h0M1713.5 259.0h0M1714.8 257.0h0M1716.1 254.9h0M1718.6 250.8h0M1719.9 248.7h0M1721.2 246.5h0M1722.5 244.4h0M1723.8 242.3h0M1726.3 238.1h0M1727.6 236.0h0M1728.9 233.9h0M1730.2 232.0h0M1731.4 230.0h0M1734.0 226.3h0M1735.3 224.5h0M1736.6 222.8h0M1737.9 221.2h0M1739.1 219.7h0M1741.7 217.0h0M1743.0 215.7h0M1744.3 214.7h0M1745.5 213.7h0M1746.8 212.8h0M1749.4 211.4h0M1750.7 210.8h0M1751.9 210.3h0M1753.2 209.9h0M1754.5 209.6h0M1757.1 209.1h0M1758.4 209.0h0M1759.6 208.9h0M1760.9 208.9h0M1762.2 208.9h0M1764.8 209.1h0M1766.0 209.2h0M1767.3 209.4h0M1768.6 209.5h0M1769.9 209.7h0M1772.4 210.1h0M1773.7 210.3h0M1775.0 210.5h0M1776.3 210.7h0M1777.6 210.8h0M1780.1 211.0h0M1781.4 211.1h0M1782.7 211.1h0M1784.0 211.1h0M1785.3 211.1h0M1787.8 210.9h0M1789.1 210.7h0M1790.4 210.6h0M1791.7 210.4h0M1792.9 210.2h0M1795.5 209.7h0M1796.8 209.5h0M1798.1 209.2h0M1799.4 209.0h0M1800.6 208.7h0M1803.2 208.2h0M1804.5 207.9h0M1805.8 207.7h0M1807.0 207.5h0M1808.3 207.3h0M1810.9 206.9h0M1812.2 206.7h0M1813.4 206.6h0M1814.7 206.5h0M1816.0 206.5h0M1818.6 206.4h0M1819.9 206.5h0M1821.1 206.6h0M1822.4 206.7h0M1823.7 206.9h0M1826.3 207.3h0M1827.5 207.6h0M1828.8 207.9h0M1830.1 208.3h0M1831.4 208.6h0M1833.9 209.4h0M1835.2 209.8h0M1836.5 210.3h0M1837.8 210.7h0M1839.1 211.2h0M1841.6 212.2h0M1842.9 212.7h0M1844.2 213.2h0M1845.5 213.7h0M1846.8 214.2h0M1849.3 215.2h0M1850.6 215.7h0M1851.9 216.2h0M1853.2 216.7h0M1854.4 217.1h0M1857.0 218.0h0M1858.3 218.5h0M1859.6 218.9h0M1860.9 219.3h0M1862.1 219.7h0M1864.7 220.5h0M1866.0 220.8h0M1867.3 221.1h0M1868.5 221.5h0M1869.8 221.8h0M1872.4 222.3h0M1873.7 222.6h0M1874.9 222.8h0M1876.2 223.0h0M1877.5 223.2h0M1880.1 223.6h0M1881.4 223.7h0M1882.6 223.8h0M1883.9 223.9h0M1885.2 224.0h0M1887.8 224.2h0M1889.0 224.3h0M1890.3 224.4h0M1891.6 224.5h0M1892.9 224.7h0M1895.4 225.1h0M1896.7 225.3h0M1898.0 225.6h0M1899.3 226.0h0M1900.6 226.4h0M1903.1 227.3h0M1904.4 227.9h0M1905.7 228.5h0M1907.0 229.3h0M1908.3 230.1h0M1910.8 231.9h0M1912.1 232.9h0M1913.4 234.0h0M1914.7 235.1h0M1915.9 236.3h0M1918.5 238.8h0M1919.8 240.1h0M1921.1 241.4h0M1922.4 242.8h0M1923.6 244.2h0M1926.2 246.9h0M1927.5 248.3h0M1928.8 249.6h0M1930.0 251.0h0M1931.3 252.3h0M1933.9 254.9h0M1935.2 256.1h0M1936.4 257.3h0M1937.7 258.5h0M1939.0 259.6h0M1941.6 261.6h0M1942.9 262.5h0M1944.1 263.3h0M1945.4 264.0h0M1946.7 264.7h0M1949.3 265.7h0M1950.5 266.1h0M1951.8 266.3h0M1953.1 266.4h0M1954.4 266.4h0M1956.9 266.0h0M1958.2 265.6h0M1959.5 265.1h0M1960.8 264.4h0M1962.1 263.6h0M1964.6 261.7h0M1965.9 260.6h0M1967.2 259.4h0M1968.5 258.1h0M1969.8 256.8h0M1972.3 253.9h0M1973.6 252.3h0M1974.9 250.7h0M1976.2 249.1h0M1977.4 247.5h0M1707.0 244.1h0M1708.3 242.4h0M1709.6 240.7h0M1710.9 239.0h0M1712.1 237.3h0M1714.7 234.0h0M1716.0 232.4h0M1717.3 230.9h0M1718.5 229.3h0M1719.8 227.8h0M1722.4 224.8h0M1723.7 223.4h0M1724.9 222.0h0M1726.2 220.7h0M1727.5 219.4h0M1730.1 216.9h0M1731.4 215.7h0M1732.6 214.6h0M1733.9 213.5h0M1735.2 212.5h0M1737.8 210.7h0M1739.0 209.8h0M1740.3 209.1h0M1741.6 208.3h0M1742.9 207.7h0M1745.4 206.6h0M1746.7 206.2h0M1748.0 205.8h0M1749.3 205.5h0M1750.6 205.3h0M1753.1 205.1h0M1754.4 205.1h0M1755.7 205.1h0M1757.0 205.2h0M1758.3 205.4h0M1760.8 205.9h0M1762.1 206.2h0M1763.4 206.6h0M1764.7 207.0h0M1765.9 207.4h0M1768.5 208.3h0M1769.8 208.8h0M1771.1 209.3h0M1772.4 209.8h0M1773.6 210.3h0M1776.2 211.4h0M1777.5 211.9h0M1778.8 212.4h0M1780.0 212.9h0M1781.3 213.4h0M1783.9 214.3h0M1785.2 214.7h0M1786.4 215.1h0M1787.7 215.5h0M1789.0 215.8h0M1791.6 216.3h0M1792.9 216.5h0M1794.1 216.6h0M1795.4 216.7h0M1796.7 216.8h0M1799.3 217.0h0M1800.5 217.0h0M1801.8 217.0h0M1803.1 217.0h0M1804.4 217.0h0M1806.9 217.0h0M1808.2 216.9h0M1809.5 216.9h0M1810.8 216.9h0M1812.1 216.9h0M1814.6 216.9h0M1815.9 216.9h0M1817.2 216.9h0M1818.5 217.0h0M1819.8 217.0h0M1822.3 217.2h0M1823.6 217.4h0M1824.9 217.6h0M1826.2 217.8h0M1827.4 218.0h0M1830.0 218.6h0M1831.3 219.0h0M1832.6 219.4h0M1833.9 219.8h0M1835.1 220.2h0M1837.7 221.2h0M1839.0 221.6h0M1840.3 222.1h0M1841.5 222.6h0M1842.8 223.2h0M1845.4 224.2h0M1846.7 224.7h0M1847.9 225.2h0M1849.2 225.8h0M1850.5 226.3h0M1853.1 227.2h0M1854.4 227.7h0M1855.6 228.1h0M1856.9 228.5h0M1858.2 228.9h0M1860.8 229.6h0M1862.0 229.9h0M1863.3 230.2h0M1864.6 230.4h0M1865.9 230.6h0M1868.4 230.8h0M1869.7 230.9h0M1871.0 231.0h0M1872.3 231.0h0M1873.6 231.0h0M1876.1 231.1h0M1877.4 231.1h0M1878.7 231.1h0M1880.0 231.2h0M1881.3 231.2h0M1883.8 231.5h0M1885.1 231.6h0M1886.4 231.9h0M1887.7 232.1h0M1888.9 232.4h0M1891.5 233.3h0M1892.8 233.8h0M1894.1 234.4h0M1895.3 235.1h0M1896.6 235.8h0M1899.2 237.6h0M1900.5 238.6h0M1901.8 239.7h0M1903.0 240.8h0M1904.3 241.9h0M1906.9 244.3h0M1908.2 245.5h0M1909.4 246.7h0M1910.7 247.9h0M1912.0 249.1h0M1914.6 251.5h0M1915.8 252.6h0M1917.1 253.7h0M1918.4 254.7h0M1919.7 255.7h0M1922.3 257.4h0M1923.5 258.2h0M1924.8 258.9h0M1926.1 259.4h0M1927.4 259.9h0M1929.9 260.4h0M1931.2 260.5h0M1932.5 260.4h0M1933.8 260.2h0M1935.1 259.9h0M1937.6 258.7h0M1938.9 257.9h0M1940.2 257.0h0M1941.5 255.9h0M1942.8 254.8h0M1945.3 252.2h0M1946.6 250.7h0M1947.9 249.2h0M1949.2 247.6h0M1950.4 246.0h0M1953.0 242.6h0M1954.3 240.8h0M1955.6 239.0h0M1956.8 237.1h0M1958.1 235.3h0M1960.7 231.6h0M1962.0 229.8h0M1963.3 228.0h0M1964.5 226.2h0M1965.8 224.4h0M1968.4 220.9h0M1969.7 219.2h0M1970.9 217.5h0M1972.2 215.9h0M1973.5 214.3h0M1976.1 211.3h0M1977.3 209.8h0M1978.6 208.5h0M1706.9 207.1h0M1708.2 205.8h0M1710.8 203.5h0M1712.0 202.4h0M1713.3 201.4h0M1714.6 200.5h0M1715.9 199.7h0M1718.4 198.2h0M1719.7 197.7h0M1721.0 197.2h0M1722.3 196.8h0M1723.6 196.5h0M1726.1 196.2h0M1727.4 196.2h0M1728.7 196.4h0M1730.0 196.6h0M1731.3 196.9h0M1733.8 197.7h0M1735.1 198.3h0M1736.4 198.9h0M1737.7 199.5h0M1738.9 200.2h0M1741.5 201.8h0M1742.8 202.6h0M1744.1 203.4h0M1745.3 204.3h0M1746.6 205.1h0M1749.2 206.8h0M1750.5 207.6h0M1751.8 208.5h0M1753.0 209.2h0M1754.3 210.0h0M1756.9 211.4h0M1758.2 212.0h0M1759.4 212.6h0M1760.7 213.1h0M1762.0 213.6h0M1764.6 214.4h0M1765.8 214.7h0M1767.1 215.1h0M1768.4 215.3h0M1769.7 215.6h0M1772.3 216.0h0M1773.5 216.2h0M1774.8 216.3h0M1776.1 216.4h0M1777.4 216.5h0M1779.9 216.7h0M1781.2 216.7h0M1782.5 216.8h0M1783.8 216.8h0M1785.1 216.8h0M1787.6 216.8h0M1788.9 216.8h0M1790.2 216.8h0M1791.5 216.8h0M1792.8 216.8h0M1795.3 216.8h0M1796.6 216.9h0M1797.9 216.9h0M1799.2 216.9h0M1800.4 216.9h0M1803.0 217.0h0M1804.3 217.1h0M1805.6 217.2h0M1806.8 217.3h0M1808.1 217.4h0M1810.7 217.7h0M1812.0 217.9h0M1813.3 218.1h0M1814.5 218.3h0M1815.8 218.6h0M1818.4 219.2h0M1819.7 219.6h0M1820.9 220.0h0M1822.2 220.4h0M1823.5 220.9h0M1826.1 221.9h0M1827.3 222.4h0M1828.6 223.0h0M1829.9 223.6h0M1831.2 224.2h0M1833.8 225.4h0M1835.0 226.0h0M1836.3 226.6h0M1837.6 227.2h0M1838.9 227.8h0M1841.4 228.9h0M1842.7 229.5h0M1844.0 230.0h0M1845.3 230.5h0M1846.6 231.0h0M1849.1 231.8h0M1850.4 232.2h0M1851.7 232.5h0M1853.0 232.8h0M1854.3 233.0h0M1856.8 233.2h0M1858.1 233.3h0M1859.4 233.3h0M1860.7 233.3h0M1861.9 233.3h0M1864.5 233.2h0M1865.8 233.1h0M1867.1 233.0h0M1868.3 233.0h0M1869.6 233.0h0M1872.2 233.0h0M1873.5 233.1h0M1874.8 233.3h0M1876.0 233.5h0M1877.3 233.8h0M1879.9 234.6h0M1881.2 235.1h0M1882.4 235.8h0M1883.7 236.5h0M1885.0 237.4h0M1887.6 239.5h0M1888.8 240.7h0M1890.1 242.0h0M1891.4 243.4h0M1892.7 244.8h0M1895.3 247.9h0M1896.5 249.4h0M1897.8 251.0h0M1899.1 252.6h0M1900.4 254.2h0M1902.9 257.2h0M1904.2 258.6h0M1905.5 260.0h0M1906.8 261.3h0M1908.1 262.5h0M1910.6 264.6h0M1911.9 265.5h0M1913.2 266.2h0M1914.5 266.8h0M1915.8 267.2h0M1918.3 267.4h0M1919.6 267.3h0M1920.9 266.9h0M1922.2 266.2h0M1923.4 265.4h0M1926.0 262.9h0M1927.3 261.3h0M1928.6 259.5h0M1929.8 257.5h0M1931.1 255.3h0M1933.7 250.6h0M1935.0 248.1h0M1936.3 245.5h0M1937.5 242.9h0M1938.8 240.2h0M1941.4 234.8h0M1942.7 232.1h0M1943.9 229.5h0M1945.2 226.9h0M1946.5 224.4h0M1949.1 219.4h0M1950.3 217.0h0M1951.6 214.7h0M1952.9 212.4h0M1954.2 210.2h0M1956.8 206.0h0M1958.0 203.9h0M1959.3 202.0h0M1960.6 200.1h0M1961.9 198.3h0M1964.4 195.0h0M1965.7 193.5h0M1967.0 192.0h0M1968.3 190.7h0M1969.6 189.4h0M1972.1 187.2h0M1973.4 186.2h0M1974.7 185.3h0M1976.0 184.6h0M1977.3 184.0h0M1706.8 183.0h0M1708.1 182.7h0M1709.4 182.5h0M1710.7 182.5h0M1711.9 182.5h0M1714.5 182.9h0M1715.8 183.3h0M1717.1 183.7h0M1718.3 184.2h0M1719.6 184.8h0M1722.2 186.1h0M1723.5 186.9h0M1724.8 187.7h0M1726.0 188.5h0M1727.3 189.4h0M1729.9 191.3h0M1731.2 192.2h0M1732.4 193.2h0M1733.7 194.2h0M1735.0 195.2h0M1737.6 197.2h0M1738.8 198.2h0M1740.1 199.2h0M1741.4 200.1h0M1742.7 201.0h0M1745.3 202.7h0M1746.5 203.5h0M1747.8 204.2h0M1749.1 205.0h0M1750.4 205.7h0M1752.9 207.0h0M1754.2 207.6h0M1755.5 208.1h0M1756.8 208.7h0M1758.1 209.2h0M1760.6 210.2h0M1761.9 210.6h0M1763.2 211.0h0M1764.5 211.4h0M1765.7 211.8h0M1768.3 212.5h0M1769.6 212.8h0M1770.9 213.1h0M1772.2 213.4h0M1773.4 213.7h0M1776.0 214.2h0M1777.3 214.4h0M1778.6 214.7h0M1779.8 214.9h0M1781.1 215.1h0M1783.7 215.4h0M1785.0 215.6h0M1786.2 215.7h0M1787.5 215.9h0M1788.8 216.0h0M1791.4 216.3h0M1792.7 216.4h0M1793.9 216.6h0M1795.2 216.7h0M1796.5 216.8h0M1799.1 217.0h0M1800.3 217.2h0M1801.6 217.3h0M1802.9 217.4h0M1804.2 217.5h0M1806.7 217.7h0M1808.0 217.8h0M1809.3 218.0h0M1810.6 218.1h0M1811.9 218.2h0M1814.4 218.5h0M1815.7 218.7h0M1817.0 218.9h0M1818.3 219.0h0M1819.6 219.2h0M1822.1 219.6h0M1823.4 219.9h0M1824.7 220.1h0M1826.0 220.4h0M1827.2 220.7h0M1829.8 221.4h0M1831.1 221.7h0M1832.4 222.1h0M1833.7 222.5h0M1834.9 223.0h0M1837.5 224.0h0M1838.8 224.5h0M1840.1 225.1h0M1841.3 225.7h0M1842.6 226.3h0M1845.2 227.7h0M1846.5 228.5h0M1847.7 229.3h0M1849.0 230.1h0M1850.3 231.0h0M1852.9 232.9h0M1854.2 233.9h0M1855.4 235.0h0M1856.7 236.0h0M1858.0 237.1h0M1860.6 239.3h0M1861.8 240.5h0M1863.1 241.6h0M1864.4 242.7h0M1865.7 243.8h0M1868.2 246.1h0M1869.5 247.2h0M1870.8 248.2h0M1872.1 249.2h0M1873.4 250.3h0M1875.9 252.1h0M1877.2 253.0h0M1878.5 253.9h0M1879.8 254.6h0M1881.1 255.4h0M1883.6 256.6h0M1884.9 257.1h0M1886.2 257.6h0M1887.5 258.0h0M1888.7 258.2h0M1891.3 258.5h0M1892.6 258.5h0M1893.9 258.4h0M1895.2 258.2h0M1896.4 257.9h0M1899.0 256.9h0M1900.3 256.2h0M1901.6 255.4h0M1902.8 254.5h0M1904.1 253.5h0M1906.7 251.3h0M1908.0 250.0h0M1909.2 248.7h0M1910.5 247.3h0M1911.8 245.8h0M1914.4 242.7h0M1915.7 241.1h0M1916.9 239.5h0M1918.2 237.9h0M1919.5 236.2h0M1922.1 232.8h0M1923.3 231.1h0M1924.6 229.4h0M1925.9 227.8h0M1927.2 226.1h0M1929.7 222.9h0M1931.0 221.3h0M1932.3 219.8h0M1933.6 218.3h0M1934.9 216.8h0M1937.4 213.9h0M1938.7 212.5h0M1940.0 211.2h0M1941.3 209.9h0M1942.6 208.6h0M1945.1 206.2h0M1946.4 205.1h0M1947.7 204.0h0M1949.0 203.0h0M1950.2 202.0h0M1952.8 200.2h0M1954.1 199.4h0M1955.4 198.7h0M1956.7 198.0h0M1957.9 197.4h0M1960.5 196.3h0M1961.8 195.9h0M1963.1 195.6h0M1964.3 195.3h0M1965.6 195.1h0M1968.2 194.9h0M1969.5 195.0h0M1970.7 195.0h0M1972.0 195.2h0M1973.3 195.4h0M1975.9 196.0h0M1977.2 196.4h0M1978.4 196.9h0M1706.7 197.4h0M1708.0 198.0h0M1710.6 199.3h0M1711.8 200.0h0M1713.1 200.8h0M1714.4 201.6h0M1715.7 202.5h0M1718.2 204.3h0M1719.5 205.3h0M1720.8 206.3h0M1722.1 207.4h0M1723.4 208.5h0M1725.9 210.8h0M1727.2 212.0h0M1728.5 213.2h0M1729.8 214.4h0M1731.1 215.7h0M1733.6 218.1h0M1734.9 219.4h0M1736.2 220.6h0M1737.5 221.8h0M1738.7 223.0h0M1741.3 225.3h0M1742.6 226.5h0M1743.9 227.6h0M1745.2 228.6h0M1746.4 229.6h0M1749.0 231.5h0M1750.3 232.3h0M1751.6 233.1h0M1752.8 233.9h0M1754.1 234.5h0M1756.7 235.6h0M1758.0 236.0h0M1759.2 236.4h0M1760.5 236.6h0M1761.8 236.8h0M1764.4 237.0h0M1765.7 237.0h0M1766.9 237.0h0M1768.2 236.9h0M1769.5 236.7h0M1772.1 236.2h0M1773.3 235.9h0M1774.6 235.5h0M1775.9 235.1h0M1777.2 234.7h0M1779.7 233.7h0M1781.0 233.2h0M1782.3 232.6h0M1783.6 232.1h0M1784.9 231.5h0M1787.4 230.2h0M1788.7 229.6h0M1790.0 229.0h0M1791.3 228.3h0M1792.6 227.6h0M1795.1 226.3h0M1796.4 225.7h0M1797.7 225.0h0M1799.0 224.4h0M1800.2 223.8h0M1802.8 222.5h0M1804.1 222.0h0M1805.4 221.4h0M1806.7 220.9h0M1807.9 220.3h0M1810.5 219.4h0M1811.8 219.0h0M1813.1 218.6h0M1814.3 218.2h0M1815.6 217.9h0M1818.2 217.4h0M1819.5 217.3h0M1820.7 217.1h0M1822.0 217.1h0M1823.3 217.0h0M1825.9 217.2h0M1827.2 217.3h0M1828.4 217.6h0M1829.7 217.8h0M1831.0 218.1h0M1833.6 218.9h0M1834.8 219.4h0M1836.1 219.9h0M1837.4 220.4h0M1838.7 221.0h0M1841.2 222.3h0M1842.5 223.0h0M1843.8 223.7h0M1845.1 224.4h0M1846.4 225.2h0M1848.9 226.8h0M1850.2 227.6h0M1851.5 228.4h0M1852.8 229.3h0M1854.1 230.2h0M1856.6 231.9h0M1857.9 232.8h0M1859.2 233.7h0M1860.5 234.5h0M1861.7 235.3h0M1864.3 237.0h0M1865.6 237.7h0M1866.9 238.5h0M1868.2 239.2h0M1869.4 239.9h0M1872.0 241.0h0M1873.3 241.6h0M1874.6 242.0h0M1875.8 242.4h0M1877.1 242.8h0M1879.7 243.3h0M1881.0 243.4h0M1882.2 243.4h0M1883.5 243.4h0M1884.8 243.3h0M1887.4 242.7h0M1888.7 242.4h0M1889.9 241.9h0M1891.2 241.4h0M1892.5 240.8h0M1895.1 239.3h0M1896.3 238.5h0M1897.6 237.6h0M1898.9 236.6h0M1900.2 235.6h0M1902.7 233.3h0M1904.0 232.1h0M1905.3 230.9h0M1906.6 229.6h0M1907.9 228.2h0M1910.4 225.3h0M1911.7 223.8h0M1913.0 222.3h0M1914.3 220.7h0M1915.6 219.0h0M1918.1 215.7h0M1919.4 214.0h0M1920.7 212.3h0M1922.0 210.6h0M1923.2 208.9h0M1925.8 205.6h0M1927.1 204.0h0M1928.4 202.4h0M1929.6 200.8h0M1930.9 199.3h0M1933.5 196.5h0M1934.8 195.1h0M1936.1 193.9h0M1937.3 192.7h0M1938.6 191.7h0M1941.2 189.8h0M1942.5 189.1h0M1943.7 188.4h0M1945.0 187.9h0M1946.3 187.6h0M1948.9 187.2h0M1950.1 187.2h0M1951.4 187.4h0M1952.7 187.7h0M1954.0 188.1h0M1956.6 189.2h0M1957.8 189.9h0M1959.1 190.8h0M1960.4 191.6h0M1961.7 192.6h0M1964.2 194.8h0M1965.5 195.9h0M1966.8 197.2h0M1968.1 198.4h0M1969.4 199.8h0M1971.9 202.5h0M1973.2 203.9h0M1974.5 205.3h0M1975.8 206.8h0M1977.1 208.2h0M1706.6 211.1h0M1707.9 212.5h0M1709.2 213.9h0M1710.5 215.3h0M1711.7 216.7h0M1714.3 219.5h0M1715.6 220.8h0M1716.9 222.1h0M1718.1 223.5h0M1719.4 224.8h0M1722.0 227.3h0M1723.3 228.6h0M1724.6 229.8h0M1725.8 231.0h0M1727.1 232.2h0M1729.7 234.6h0M1731.0 235.7h0M1732.2 236.8h0M1733.5 237.9h0M1734.8 239.0h0M1737.4 241.0h0M1738.6 242.0h0M1739.9 243.0h0M1741.2 243.9h0M1742.5 244.8h0M1745.1 246.5h0M1746.3 247.3h0M1747.6 248.0h0M1748.9 248.7h0M1750.2 249.4h0M1752.7 250.6h0M1754.0 251.1h0M1755.3 251.6h0M1756.6 252.0h0M1757.9 252.3h0M1760.4 252.9h0M1761.7 253.1h0M1763.0 253.2h0M1764.3 253.3h0M1765.6 253.3h0M1768.1 253.1h0M1769.4 252.9h0M1770.7 252.6h0M1772.0 252.3h0M1773.2 251.8h0M1775.8 250.8h0M1777.1 250.2h0M1778.4 249.5h0M1779.6 248.8h0M1780.9 248.1h0M1783.5 246.5h0M1784.8 245.6h0M1786.1 244.7h0M1787.3 243.8h0M1788.6 242.9h0M1791.2 241.1h0M1792.5 240.2h0M1793.7 239.3h0M1795.0 238.4h0M1796.3 237.5h0M1798.9 235.8h0M1800.1 235.0h0M1801.4 234.2h0M1802.7 233.4h0M1804.0 232.6h0M1806.6 231.2h0M1807.8 230.6h0M1809.1 230.0h0M1810.4 229.4h0M1811.7 228.9h0M1814.2 228.0h0M1815.5 227.6h0M1816.8 227.3h0M1818.1 227.0h0M1819.4 226.9h0M1821.9 226.7h0M1823.2 226.7h0M1824.5 226.8h0M1825.8 226.9h0M1827.1 227.2h0M1829.6 227.9h0M1830.9 228.4h0M1832.2 228.9h0M1833.5 229.5h0M1834.7 230.2h0M1837.3 231.7h0M1838.6 232.5h0M1839.9 233.4h0M1841.1 234.3h0M1842.4 235.2h0M1845.0 237.2h0M1846.3 238.2h0M1847.6 239.1h0M1848.8 240.1h0M1850.1 241.1h0M1852.7 243.1h0M1854.0 244.1h0M1855.2 245.0h0M1856.5 245.9h0M1857.8 246.7h0M1860.4 248.2h0M1861.6 248.8h0M1862.9 249.3h0M1864.2 249.7h0M1865.5 250.1h0M1868.1 250.3h0M1869.3 250.3h0M1870.6 250.1h0M1871.9 249.7h0M1873.2 249.2h0M1875.7 247.8h0M1877.0 246.9h0M1878.3 245.9h0M1879.6 244.8h0M1880.9 243.6h0M1883.4 240.8h0M1884.7 239.3h0M1886.0 237.7h0M1887.3 236.0h0M1888.6 234.2h0M1891.1 230.5h0M1892.4 228.5h0M1893.7 226.5h0M1895.0 224.5h0M1896.2 222.4h0M1898.8 218.0h0M1900.1 215.9h0M1901.4 213.6h0M1902.6 211.4h0M1903.9 209.2h0M1906.5 204.8h0M1907.8 202.6h0M1909.1 200.4h0M1910.3 198.3h0M1911.6 196.2h0M1914.2 192.2h0M1915.5 190.2h0M1916.7 188.4h0M1918.0 186.6h0M1919.3 184.8h0M1921.9 181.7h0M1923.1 180.2h0M1924.4 178.9h0M1925.7 177.7h0M1927.0 176.6h0M1929.6 174.8h0M1930.8 174.1h0M1932.1 173.5h0M1933.4 173.1h0M1934.7 172.8h0M1937.2 172.8h0M1938.5 172.9h0M1939.8 173.2h0M1941.1 173.6h0M1942.4 174.1h0M1944.9 175.6h0M1946.2 176.4h0M1947.5 177.4h0M1948.8 178.4h0M1950.1 179.6h0M1952.6 182.2h0M1953.9 183.6h0M1955.2 185.0h0M1956.5 186.6h0M1957.7 188.2h0M1960.3 191.6h0M1961.6 193.4h0M1962.9 195.2h0M1964.1 197.0h0M1965.4 198.9h0M1968.0 202.8h0M1969.3 204.8h0M1970.6 206.8h0M1971.8 208.8h0M1973.1 210.9h0M1975.7 214.9h0M1977.0 217.0h0M1978.2 219.0h0M1706.5 221.1h0M1707.8 223.1h0M1710.4 227.1h0M1711.6 229.1h0M1712.9 231.0h0M1714.2 232.9h0M1715.5 234.8h0M1718.1 238.4h0M1719.3 240.2h0M1720.6 241.9h0M1721.9 243.5h0M1723.2 245.1h0M1725.7 248.1h0M1727.0 249.6h0M1728.3 250.9h0M1729.6 252.2h0M1730.9 253.5h0M1733.4 255.7h0M1734.7 256.8h0M1736.0 257.7h0M1737.3 258.6h0M1738.6 259.4h0M1741.1 260.7h0M1742.4 261.3h0M1743.7 261.8h0M1745.0 262.2h0M1746.2 262.5h0M1748.8 262.8h0M1750.1 262.8h0M1751.4 262.7h0M1752.6 262.6h0M1753.9 262.3h0M1756.5 261.6h0M1757.8 261.1h0M1759.1 260.6h0M1760.3 260.0h0M1761.6 259.3h0M1764.2 257.8h0M1765.5 257.0h0M1766.7 256.2h0M1768.0 255.3h0M1769.3 254.4h0M1771.9 252.4h0M1773.1 251.4h0M1774.4 250.4h0M1775.7 249.4h0M1777.0 248.3h0M1779.6 246.3h0M1780.8 245.2h0M1782.1 244.2h0M1783.4 243.3h0M1784.7 242.3h0M1787.2 240.5h0M1788.5 239.7h0M1789.8 239.0h0M1791.1 238.3h0M1792.4 237.7h0M1794.9 236.8h0M1796.2 236.4h0M1797.5 236.2h0M1798.8 236.1h0M1800.1 236.1h0M1802.6 236.4h0M1803.9 236.8h0M1805.2 237.3h0M1806.5 238.0h0M1807.7 238.7h0M1810.3 240.5h0M1811.6 241.4h0M1812.9 242.5h0M1814.1 243.5h0M1815.4 244.6h0M1818.0 246.9h0M1819.3 248.0h0M1820.5 249.0h0M1821.8 250.1h0M1823.1 251.1h0M1825.7 252.9h0M1827.0 253.7h0M1828.2 254.4h0M1829.5 255.0h0M1830.8 255.4h0M1833.4 255.9h0M1834.6 255.9h0M1835.9 255.7h0M1837.2 255.4h0M1838.5 254.9h0M1841.0 253.5h0M1842.3 252.7h0M1843.6 251.7h0M1844.9 250.6h0M1846.2 249.4h0M1848.7 246.8h0M1850.0 245.3h0M1851.3 243.9h0M1852.6 242.3h0M1853.9 240.7h0M1855.1 239.1h0M1856.4 237.4h0M1857.7 235.6h0M1859.0 233.8h0M1860.3 232.0h0M1861.5 230.1h0M1864.1 226.2h0M1865.4 224.2h0M1866.7 222.1h0M1868.0 220.1h0M1869.2 218.0h0M1870.5 215.9h0M1871.8 213.8h0M1873.1 211.6h0M1874.4 209.5h0M1875.6 207.3h0M1876.9 205.1h0M1879.5 200.8h0M1880.8 198.7h0M1882.0 196.5h0M1883.3 194.4h0M1884.6 192.3h0M1885.9 190.3h0M1887.2 188.2h0M1888.5 186.2h0M1889.7 184.3h0M1891.0 182.4h0M1892.3 180.5h0M1894.9 177.0h0M1896.1 175.3h0M1897.4 173.7h0M1898.7 172.2h0M1900.0 170.8h0M1901.3 169.4h0M1902.5 168.1h0M1903.8 167.0h0M1905.1 165.9h0M1906.4 164.9h0M1907.7 164.0h0M1910.2 162.7h0M1911.5 162.2h0M1912.8 161.8h0M1914.1 161.5h0M1915.4 161.4h0M1916.6 161.4h0M1917.9 161.6h0M1919.2 161.9h0M1920.5 162.4h0M1921.8 163.0h0M1923.0 163.8h0M1925.6 165.8h0M1926.9 167.0h0M1928.2 168.4h0M1929.5 169.8h0M1930.7 171.4h0M1932.0 173.1h0M1933.3 175.0h0M1934.6 176.9h0M1935.9 179.0h0M1937.1 181.1h0M1938.4 183.3h0M1941.0 188.1h0M1942.3 190.6h0M1943.5 193.2h0M1944.8 195.9h0M1946.1 198.6h0M1947.4 201.4h0M1948.7 204.2h0M1950.0 207.1h0M1951.2 210.1h0M1952.5 213.1h0M1953.8 216.1h0M1956.4 222.2h0M1957.6 225.3h0M1958.9 228.3h0M1960.2 231.4h0M1961.5 234.3h0M1962.8 237.3h0M1964.0 240.1h0M1965.3 242.9h0M1966.6 245.6h0M1967.9 248.1h0M1969.2 250.6h0M1971.7 255.1h0M1973.0 257.2h0M1974.3 259.2h0M1975.6 261.0h0M1976.9 262.7h0M1978.1 264.4h0M1979.4 265.9h0M1707.7 267.3h0M1709.0 268.6h0M1710.3 269.8h0M1711.5 270.9h0M1714.1 272.9h0M1715.4 273.8h0M1716.7 274.5h0M1718.0 275.2h0M1719.2 275.9h0M1720.5 276.4h0M1721.8 276.9h0M1723.1 277.3h0M1724.4 277.6h0M1725.6 277.9h0M1726.9 278.1h0M1729.5 278.4h0M1730.8 278.5h0M1732.0 278.5h0M1733.3 278.5h0M1734.6 278.4h0M1735.9 278.3h0M1737.2 278.1h0M1738.5 278.0h0M1739.7 277.8h0M1741.0 277.5h0M1742.3 277.2h0M1744.9 276.6h0M1746.1 276.2h0M1747.4 275.8h0M1748.7 275.4h0M1750.0 275.0h0M1751.3 274.5h0M1752.5 274.0h0M1753.8 273.5h0M1755.1 272.9h0M1756.4 272.3h0M1757.7 271.8h0M1760.2 270.5h0M1761.5 269.8h0M1762.8 269.2h0M1764.1 268.5h0M1765.4 267.8h0M1766.6 267.0h0M1767.9 266.3h0M1769.2 265.5h0M1770.5 264.8h0M1771.8 264.0h0M1773.0 263.2h0M1775.6 261.7h0M1776.9 260.9h0M1778.2 260.2h0M1779.5 259.5h0M1780.7 258.8h0M1782.0 258.2h0M1783.3 257.6h0M1784.6 257.1h0M1785.9 256.6h0M1787.1 256.2h0M1788.4 255.9h0M1791.0 255.5h0M1792.3 255.4h0M1793.5 255.4h0M1794.8 255.5h0M1796.1 255.7h0M1797.4 255.9h0M1798.7 256.2h0M1800.0 256.5h0M1801.2 256.8h0M1802.5 257.2h0M1803.8 257.5h0M1806.4 258.3h0M1807.6 258.7h0M1808.9 259.1h0M1810.2 259.4h0M1811.5 259.7h0M1812.8 260.0h0M1814.0 260.2h0M1815.3 260.4h0M1816.6 260.5h0M1817.9 260.6h0M1819.2 260.5h0M1821.7 260.2h0M1823.0 260.0h0M1824.3 259.6h0M1825.6 259.1h0M1826.9 258.6h0M1828.1 258.0h0M1829.4 257.2h0M1830.7 256.4h0M1832.0 255.4h0M1833.3 254.3h0M1834.5 253.2h0M1837.1 250.4h0M1838.4 248.9h0M1839.7 247.2h0M1841.0 245.5h0M1842.2 243.6h0M1843.5 241.6h0M1844.8 239.5h0M1846.1 237.3h0M1847.4 235.1h0M1848.6 232.8h0M1849.9 230.4h0M1852.5 225.5h0M1853.8 223.0h0M1855.0 220.5h0M1856.3 217.9h0M1857.6 215.3h0M1858.9 212.8h0M1860.2 210.2h0M1861.5 207.6h0M1862.7 205.1h0M1864.0 202.5h0M1865.3 200.0h0M1867.9 195.2h0M1869.1 192.8h0M1870.4 190.5h0M1871.7 188.2h0M1873.0 186.0h0M1874.3 183.9h0M1875.5 181.9h0M1876.8 179.9h0M1878.1 178.0h0M1879.4 176.2h0M1880.7 174.5h0M1883.2 171.4h0M1884.5 170.0h0M1885.8 168.7h0M1887.1 167.6h0M1888.4 166.6h0M1889.6 165.7h0M1890.9 164.9h0M1892.2 164.3h0M1893.5 163.9h0M1894.8 163.6h0M1896.0 163.4h0M1898.6 163.6h0M1899.9 164.0h0M1901.2 164.5h0M1902.5 165.1h0M1903.7 165.9h0M1905.0 166.9h0M1906.3 167.9h0M1907.6 169.2h0M1908.9 170.5h0M1910.1 172.0h0M1911.4 173.6h0M1914.0 177.2h0M1915.3 179.1h0M1916.5 181.2h0M1917.8 183.4h0M1919.1 185.6h0M1920.4 188.0h0M1921.7 190.4h0M1923.0 193.0h0M1924.2 195.6h0M1925.5 198.3h0M1926.8 201.1h0M1929.4 206.9h0M1930.6 209.9h0M1931.9 212.9h0M1933.2 215.9h0M1934.5 218.9h0M1935.8 222.0h0M1937.0 224.9h0M1938.3 227.9h0M1939.6 230.7h0M1940.9 233.5h0M1942.2 236.2h0M1944.7 241.2h0M1946.0 243.5h0M1947.3 245.6h0M1948.6 247.5h0M1949.9 249.2h0M1951.1 250.7h0M1952.4 252.0h0M1953.7 253.2h0M1955.0 254.3h0M1956.3 255.3h0M1957.5 256.2h0M1960.1 258.3h0M1961.4 259.4h0M1962.7 260.7h0M1963.9 262.0h0M1965.2 263.4h0M1966.5 264.9h0M1967.8 266.5h0M1969.1 268.0h0M1970.4 269.7h0M1971.6 271.3h0M1972.9 273.0h0M1975.5 276.4h0M1976.8 278.0h0M1978.0 279.7h0M1979.3 281.3h0M1707.6 282.9h0M1708.9 284.4h0M1710.2 285.9h0M1711.4 287.3h0M1712.7 288.6h0M1714.0 289.9h0M1715.3 291.0h0M1717.9 293.0h0M1719.1 293.8h0M1720.4 294.4h0M1721.7 294.9h0M1723.0 295.3h0M1724.3 295.5h0M1725.5 295.6h0M1726.8 295.6h0M1728.1 295.5h0M1729.4 295.2h0M1730.7 294.9h0M1733.2 293.9h0M1734.5 293.2h0M1735.8 292.5h0M1737.1 291.7h0M1738.4 290.8h0M1739.6 289.8h0M1740.9 288.8h0M1742.2 287.8h0M1743.5 286.7h0M1744.8 285.5h0M1746.0 284.3h0M1748.6 281.8h0M1749.9 280.5h0M1751.2 279.2h0M1752.4 277.9h0M1753.7 276.6h0M1755.0 275.3h0M1756.3 274.0h0M1757.6 272.7h0M1758.9 271.5h0M1760.1 270.2h0M1761.4 269.0h0M1764.0 266.7h0M1765.3 265.6h0M1766.5 264.5h0M1767.8 263.5h0M1769.1 262.6h0M1770.4 261.7h0M1771.7 260.9h0M1772.9 260.1h0M1774.2 259.4h0M1775.5 258.8h0M1776.8 258.3h0M1779.4 257.5h0M1780.6 257.2h0M1781.9 257.1h0M1783.2 257.0h0M1784.5 257.0h0M1785.8 257.2h0M1787.0 257.4h0M1788.3 257.8h0M1789.6 258.2h0M1790.9 258.7h0M1792.2 259.3h0M1794.7 260.5h0M1796.0 261.0h0M1797.3 261.6h0M1798.6 262.1h0M1799.9 262.5h0M1801.1 262.9h0M1802.4 263.2h0M1803.7 263.3h0M1805.0 263.4h0M1806.3 263.3h0M1807.5 263.1h0M1810.1 262.4h0M1811.4 261.8h0M1812.7 261.2h0M1813.9 260.5h0M1815.2 259.6h0M1816.5 258.7h0M1817.8 257.6h0M1819.1 256.5h0M1820.4 255.2h0M1821.6 253.9h0M1822.9 252.5h0M1825.5 249.3h0M1826.8 247.6h0M1828.0 245.8h0M1829.3 243.9h0M1830.6 242.0h0M1831.9 239.9h0M1833.2 237.8h0M1834.4 235.7h0M1835.7 233.5h0M1837.0 231.2h0M1838.3 228.9h0M1840.9 224.2h0M1842.1 221.8h0M1843.4 219.4h0M1844.7 217.0h0M1846.0 214.5h0M1847.3 212.0h0M1848.5 209.6h0M1849.8 207.1h0M1851.1 204.7h0M1852.4 202.3h0M1853.7 199.8h0M1856.2 195.1h0M1857.5 192.9h0M1858.8 190.6h0M1860.1 188.5h0M1861.4 186.4h0M1862.6 184.5h0M1863.9 182.6h0M1865.2 180.8h0M1866.5 179.1h0M1867.8 177.6h0M1869.0 176.2h0M1871.6 173.9h0M1872.9 173.0h0M1874.2 172.2h0M1875.4 171.6h0M1876.7 171.2h0M1878.0 171.1h0M1879.3 171.1h0M1880.6 171.3h0M1881.9 171.8h0M1883.1 172.5h0M1884.4 173.4h0M1887.0 175.9h0M1888.3 177.4h0M1889.5 179.0h0M1890.8 180.8h0M1892.1 182.8h0M1893.4 184.8h0M1894.7 187.0h0M1895.9 189.2h0M1897.2 191.6h0M1898.5 194.0h0M1899.8 196.4h0M1902.4 201.4h0M1903.6 204.0h0M1904.9 206.5h0M1906.2 209.0h0M1907.5 211.5h0M1908.8 214.0h0M1910.0 216.4h0M1911.3 218.8h0M1912.6 221.2h0M1913.9 223.5h0M1915.2 225.9h0M1917.7 230.5h0M1919.0 232.8h0M1920.3 235.0h0M1921.6 237.3h0M1922.9 239.5h0M1924.1 241.7h0M1925.4 244.0h0M1926.7 246.2h0M1928.0 248.4h0M1929.3 250.6h0M1930.5 252.7h0M1933.1 257.1h0M1934.4 259.3h0M1935.7 261.5h0M1936.9 263.6h0M1938.2 265.8h0M1939.5 267.9h0M1940.8 270.0h0M1942.1 272.1h0M1943.4 274.2h0M1944.6 276.2h0M1945.9 278.2h0M1948.5 282.0h0M1949.8 283.9h0M1951.0 285.7h0M1952.3 287.5h0M1953.6 289.2h0M1954.9 290.9h0M1956.2 292.5h0M1957.4 294.1h0M1958.7 295.6h0M1960.0 297.0h0M1961.3 298.3h0M1963.9 300.8h0M1965.1 301.9h0M1966.4 302.9h0M1967.7 303.8h0M1969.0 304.7h0M1970.3 305.4h0M1971.5 306.1h0M1972.8 306.6h0M1974.1 307.1h0M1975.4 307.4h0M1976.7 307.7h0M1979.2 307.8h0M1707.5 307.7h0M1708.8 307.5h0M1710.1 307.1h0M1711.4 306.7h0M1712.6 306.2h0M1713.9 305.6h0M1715.2 304.9h0M1716.5 304.2h0M1717.8 303.3h0M1719.0 302.4h0M1721.6 300.5h0M1722.9 299.4h0M1724.2 298.3h0M1725.4 297.1h0M1726.7 295.9h0M1728.0 294.7h0M1729.3 293.4h0M1730.6 292.2h0M1731.9 290.9h0M1733.1 289.6h0M1734.4 288.3h0M1737.0 285.7h0M1738.3 284.4h0M1739.5 283.1h0M1740.8 281.9h0M1742.1 280.7h0M1743.4 279.5h0M1744.7 278.3h0M1745.9 277.2h0M1747.2 276.1h0M1748.5 275.1h0M1749.8 274.1h0M1752.4 272.2h0M1753.6 271.4h0M1754.9 270.6h0M1756.2 269.8h0M1757.5 269.1h0M1758.8 268.5h0M1760.0 267.9h0M1761.3 267.4h0M1762.6 267.0h0M1763.9 266.6h0M1765.2 266.3h0M1767.7 265.9h0M1769.0 265.8h0M1770.3 265.8h0M1771.6 265.9h0M1772.9 266.0h0M1774.1 266.2h0M1775.4 266.4h0M1776.7 266.7h0M1778.0 266.9h0M1779.3 267.2h0M1780.5 267.5h0M1783.1 267.9h0M1784.4 268.0h0M1785.7 268.0h0M1786.9 267.9h0M1788.2 267.8h0M1789.5 267.6h0M1790.8 267.2h0M1792.1 266.8h0M1793.4 266.3h0M1794.6 265.8h0M1795.9 265.1h0M1798.5 263.6h0M1799.8 262.7h0M1801.0 261.8h0M1802.3 260.7h0M1803.6 259.7h0M1804.9 258.5h0M1806.2 257.3h0M1807.4 256.1h0M1808.7 254.8h0M1810.0 253.4h0M1811.3 252.0h0M1813.9 249.0h0M1815.1 247.5h0M1816.4 245.9h0M1817.7 244.2h0M1819.0 242.5h0M1820.3 240.7h0M1821.5 238.9h0M1822.8 237.1h0M1824.1 235.1h0M1825.4 233.2h0M1826.7 231.2h0M1829.2 227.0h0M1830.5 224.8h0M1831.8 222.5h0M1833.1 220.2h0M1834.4 217.9h0M1835.6 215.4h0M1836.9 213.0h0M1838.2 210.4h0M1839.5 207.8h0M1840.8 205.1h0M1842.0 202.4h0M1844.6 196.8h0M1845.9 194.0h0M1847.2 191.2h0M1848.4 188.4h0M1849.7 185.7h0M1851.0 183.1h0M1852.3 180.5h0M1853.6 178.1h0M1854.8 175.7h0M1856.1 173.6h0M1857.4 171.6h0M1860.0 168.2h0M1861.3 166.8h0M1862.5 165.7h0M1863.8 164.8h0M1865.1 164.2h0M1866.4 164.0h0M1867.7 164.0h0M1868.9 164.4h0M1870.2 165.0h0M1871.5 166.0h0M1872.8 167.1h0M1875.3 170.1h0M1876.6 171.9h0M1877.9 173.9h0M1879.2 176.1h0M1880.5 178.4h0M1881.8 180.8h0M1883.0 183.3h0M1884.3 185.9h0M1885.6 188.6h0M1886.9 191.3h0M1888.2 194.1h0M1890.7 199.7h0M1892.0 202.5h0M1893.3 205.2h0M1894.6 207.9h0M1895.8 210.5h0M1897.1 213.2h0M1898.4 215.8h0M1899.7 218.4h0M1901.0 221.0h0M1902.3 223.6h0M1903.5 226.2h0M1906.1 231.6h0M1907.4 234.3h0M1908.7 237.1h0M1909.9 240.0h0M1911.2 243.0h0M1912.5 246.0h0M1913.8 249.1h0M1915.1 252.4h0M1916.3 255.7h0M1917.6 259.2h0M1918.9 262.7h0M1921.5 269.8h0M1922.8 273.4h0M1924.0 277.0h0M1925.3 280.5h0M1926.6 284.1h0M1927.9 287.5h0M1929.2 290.9h0M1930.4 294.1h0M1931.7 297.3h0M1933.0 300.3h0M1934.3 303.2h0M1936.8 308.6h0M1938.1 311.2h0M1939.4 313.6h0M1940.7 315.8h0M1942.0 317.9h0M1943.3 319.9h0M1944.5 321.8h0M1945.8 323.5h0M1947.1 325.0h0M1948.4 326.4h0M1949.7 327.6h0M1952.2 329.7h0M1953.5 330.4h0M1954.8 331.0h0M1956.1 331.5h0M1957.3 331.7h0M1958.6 331.8h0M1959.9 331.8h0M1961.2 331.6h0M1962.5 331.2h0M1963.8 330.8h0M1965.0 330.1h0M1967.6 328.6h0M1968.9 327.6h0M1970.2 326.6h0M1971.4 325.5h0M1972.7 324.2h0M1974.0 323.0h0M1975.3 321.6h0M1976.6 320.2h0M1977.8 318.8h0M1979.1 317.3h0M1707.4 315.7h0M1710.0 312.6h0M1711.3 311.0h0M1712.5 309.4h0M1713.8 307.8h0M1715.1 306.3h0M1716.4 304.7h0M1717.7 303.2h0M1718.9 301.7h0M1720.2 300.2h0M1721.5 298.7h0M1722.8 297.3h0M1725.3 294.5h0M1726.6 293.2h0M1727.9 291.8h0M1729.2 290.5h0M1730.5 289.3h0M1731.8 288.0h0M1733.0 286.8h0M1734.3 285.7h0M1735.6 284.5h0M1736.9 283.4h0M1738.2 282.4h0M1740.7 280.4h0M1742.0 279.4h0M1743.3 278.6h0M1744.6 277.8h0M1745.8 277.0h0M1747.1 276.3h0M1748.4 275.7h0M1749.7 275.2h0M1751.0 274.8h0M1752.3 274.5h0M1753.5 274.3h0M1756.1 274.1h0M1757.4 274.2h0M1758.7 274.4h0M1759.9 274.8h0M1761.2 275.2h0M1762.5 275.8h0M1763.8 276.4h0M1765.1 277.0h0M1766.3 277.6h0M1767.6 278.1h0M1768.9 278.6h0M1771.5 279.4h0M1772.8 279.6h0M1774.0 279.7h0M1775.3 279.6h0M1776.6 279.5h0M1777.9 279.2h0M1779.2 278.9h0M1780.4 278.4h0M1781.7 277.9h0M1783.0 277.3h0M1784.3 276.6h0M1786.8 274.9h0M1788.1 274.0h0M1789.4 273.0h0M1790.7 271.9h0M1792.0 270.8h0M1793.3 269.7h0M1794.5 268.4h0M1795.8 267.2h0M1797.1 265.9h0M1798.4 264.5h0M1799.7 263.1h0M1802.2 260.1h0M1803.5 258.5h0M1804.8 256.8h0M1806.1 255.0h0M1807.3 253.1h0M1808.6 251.1h0M1809.9 248.9h0M1811.2 246.5h0M1812.5 244.0h0M1813.8 241.4h0M1815.0 238.6h0M1817.6 232.8h0M1818.9 229.8h0M1820.2 226.8h0M1821.4 223.7h0M1822.7 220.7h0M1824.0 217.7h0M1825.3 214.7h0M1826.6 211.7h0M1827.8 208.9h0M1829.1 206.1h0M1830.4 203.5h0M1833.0 198.5h0M1834.3 196.2h0M1835.5 194.1h0M1836.8 192.1h0M1838.1 190.2h0M1839.4 188.6h0M1840.7 187.1h0M1841.9 185.7h0M1843.2 184.6h0M1844.5 183.6h0M1845.8 182.9h0M1848.3 182.1h0M1849.6 182.0h0M1850.9 182.2h0M1852.2 182.6h0M1853.5 183.2h0M1854.8 184.0h0M1856.0 185.0h0M1857.3 186.2h0M1858.6 187.5h0M1859.9 189.0h0M1861.2 190.7h0M1863.7 194.5h0M1865.0 196.5h0M1866.3 198.7h0M1867.6 201.0h0M1868.8 203.3h0M1870.1 205.8h0M1871.4 208.3h0M1872.7 210.9h0M1874.0 213.5h0M1875.3 216.2h0M1876.5 218.9h0M1879.1 224.3h0M1880.4 227.1h0M1881.7 229.9h0M1882.9 232.7h0M1884.2 235.5h0M1885.5 238.3h0M1886.8 241.1h0M1888.1 243.9h0M1889.3 246.7h0M1890.6 249.5h0M1891.9 252.3h0M1894.5 257.8h0M1895.8 260.5h0M1897.0 263.2h0M1898.3 265.9h0M1899.6 268.5h0M1900.9 271.1h0M1902.2 273.7h0M1903.4 276.3h0M1904.7 278.8h0M1906.0 281.3h0M1907.3 283.9h0M1909.8 288.9h0M1911.1 291.4h0M1912.4 293.9h0M1913.7 296.4h0M1915.0 299.0h0M1916.3 301.5h0M1917.5 304.0h0M1918.8 306.5h0M1920.1 309.0h0M1921.4 311.5h0M1922.7 314.0h0M1925.2 318.8h0M1926.5 321.2h0M1927.8 323.5h0M1929.1 325.8h0M1930.3 328.0h0M1931.6 330.1h0M1932.9 332.2h0M1934.2 334.1h0M1935.5 336.0h0M1936.8 337.6h0M1938.0 339.1h0M1940.6 341.5h0M1941.9 342.4h0M1943.2 343.1h0M1944.4 343.4h0M1945.7 343.5h0M1947.0 343.4h0M1948.3 342.9h0M1949.6 342.3h0M1950.8 341.4h0M1952.1 340.4h0M1953.4 339.2h0M1956.0 336.3h0M1957.3 334.7h0M1958.5 333.1h0M1959.8 331.4h0M1961.1 329.6h0M1962.4 327.9h0M1963.7 326.1h0M1964.9 324.4h0M1966.2 322.7h0M1967.5 321.1h0M1968.8 319.5h0M1971.3 316.2h0M1972.6 314.6h0M1973.9 313.0h0M1975.2 311.3h0M1976.5 309.6h0M1977.8 307.7h0M1979.0 305.9h0M1707.3 303.9h0M1708.6 301.8h0M1709.9 299.7h0M1711.2 297.5h0M1713.7 293.2h0M1715.0 291.1h0M1716.3 289.0h0M1717.6 287.0h0M1718.8 285.2h0M1720.1 283.4h0M1721.4 281.9h0M1722.7 280.5h0M1724.0 279.3h0M1725.3 278.2h0M1726.5 277.3h0M1729.1 276.0h0M1730.4 275.6h0M1731.7 275.3h0M1732.9 275.1h0M1734.2 275.1h0M1735.5 275.2h0M1736.8 275.4h0M1738.1 275.7h0M1739.3 276.1h0M1740.6 276.6h0M1741.9 277.2h0M1744.5 278.5h0M1745.7 279.2h0M1747.0 280.0h0M1748.3 280.8h0M1749.6 281.6h0M1750.9 282.4h0M1752.2 283.1h0M1753.4 283.9h0M1754.7 284.6h0M1756.0 285.3h0M1757.3 286.0h0M1759.8 287.1h0M1761.1 287.5h0M1762.4 287.8h0M1763.7 288.1h0M1765.0 288.2h0M1766.2 288.2h0M1767.5 288.1h0M1768.8 287.8h0M1770.1 287.4h0M1771.4 286.8h0M1772.7 286.1h0M1775.2 284.2h0M1776.5 283.0h0M1777.8 281.8h0M1779.1 280.5h0M1780.3 279.2h0M1781.6 277.7h0M1782.9 276.3h0M1784.2 274.8h0M1785.5 273.3h0M1786.7 271.8h0M1788.0 270.4h0M1790.6 267.5h0M1791.9 266.1h0M1793.2 264.6h0M1794.4 263.1h0M1795.7 261.6h0M1797.0 260.1h0M1798.3 258.4h0M1799.6 256.7h0M1800.8 255.0h0M1802.1 253.1h0M1803.4 251.1h0M1806.0 246.7h0M1807.2 244.4h0M1808.5 241.8h0M1809.8 239.2h0M1811.1 236.5h0M1812.4 233.7h0M1813.7 230.9h0M1814.9 228.0h0M1816.2 225.0h0M1817.5 222.1h0M1818.8 219.1h0M1821.3 213.2h0M1822.6 210.3h0M1823.9 207.5h0M1825.2 204.8h0M1826.5 202.1h0M1827.7 199.6h0M1829.0 197.3h0M1830.3 195.1h0M1831.6 193.1h0M1832.9 191.3h0M1834.2 189.8h0M1836.7 187.5h0M1838.0 186.9h0M1839.3 186.5h0M1840.6 186.5h0M1841.8 186.7h0M1843.1 187.3h0M1844.4 188.2h0M1845.7 189.3h0M1847.0 190.6h0M1848.2 192.1h0M1849.5 193.7h0M1852.1 197.5h0M1853.4 199.5h0M1854.7 201.6h0M1855.9 203.7h0M1857.2 205.8h0M1858.5 208.0h0M1859.8 210.1h0M1861.1 212.1h0M1862.3 214.1h0M1863.6 215.9h0M1864.9 217.7h0M1867.5 221.0h0M1868.7 222.7h0M1870.0 224.4h0M1871.3 226.1h0M1872.6 227.9h0M1873.9 229.8h0M1875.2 231.8h0M1876.4 234.0h0M1877.7 236.3h0M1879.0 238.9h0M1880.3 241.7h0M1882.8 248.2h0M1884.1 252.0h0M1885.4 256.0h0M1886.7 260.5h0M1888.0 265.3h0M1889.2 270.4h0M1890.5 275.6h0M1891.8 280.9h0M1893.1 286.3h0M1894.4 291.5h0M1895.7 296.5h0M1898.2 305.8h0M1899.5 310.0h0M1900.8 313.9h0M1902.1 317.5h0M1903.3 320.8h0M1904.6 323.9h0M1905.9 326.7h0M1907.2 329.2h0M1908.5 331.5h0M1909.7 333.5h0M1911.0 335.3h0M1913.6 338.2h0M1914.9 339.3h0M1916.2 340.1h0M1917.4 340.8h0M1918.7 341.2h0M1920.0 341.5h0M1921.3 341.5h0M1922.6 341.3h0M1923.8 341.0h0M1925.1 340.5h0M1926.4 339.8h0M1929.0 338.0h0M1930.2 336.9h0M1931.5 335.6h0M1932.8 334.3h0M1934.1 332.8h0M1935.4 331.2h0M1936.7 329.5h0M1937.9 327.7h0M1939.2 325.9h0M1940.5 324.0h0M1941.8 322.0h0M1944.3 317.9h0M1945.6 315.8h0M1946.9 313.7h0M1948.2 311.6h0M1949.5 309.4h0M1950.7 307.3h0M1952.0 305.1h0M1953.3 303.0h0M1954.6 300.8h0M1955.9 298.7h0M1957.2 296.6h0M1959.7 292.5h0M1961.0 290.6h0M1962.3 288.6h0M1963.6 286.7h0M1964.8 284.9h0M1966.1 283.1h0M1967.4 281.4h0M1968.7 279.7h0M1970.0 278.2h0M1971.2 276.7h0M1972.5 275.2h0M1975.1 272.6h0M1976.4 271.4h0M1977.7 270.4h0M1978.9 269.4h0M1707.2 268.5h0M1708.5 267.7h0M1709.8 267.1h0M1711.1 266.5h0M1712.3 266.1h0M1713.6 265.7h0M1714.9 265.5h0M1717.5 265.5h0M1718.7 265.7h0M1720.0 266.1h0M1721.3 266.5h0M1722.6 267.0h0M1723.9 267.6h0M1725.2 268.3h0M1726.4 269.1h0M1727.7 269.9h0M1729.0 270.8h0M1730.3 271.7h0M1732.8 273.6h0M1734.1 274.6h0M1735.4 275.6h0M1736.7 276.6h0M1738.0 277.5h0M1739.2 278.5h0M1740.5 279.3h0M1741.8 280.2h0M1743.1 281.0h0M1744.4 281.7h0M1745.7 282.3h0M1748.2 283.3h0M1749.5 283.6h0M1750.8 283.9h0M1752.1 284.0h0M1753.3 283.9h0M1754.6 283.8h0M1755.9 283.5h0M1757.2 283.1h0M1758.5 282.7h0M1759.7 282.0h0M1761.0 281.3h0M1763.6 279.6h0M1764.9 278.5h0M1766.2 277.4h0M1767.4 276.1h0M1768.7 274.8h0M1770.0 273.4h0M1771.3 271.8h0M1772.6 270.2h0M1773.8 268.5h0M1775.1 266.6h0M1776.4 264.7h0M1779.0 260.7h0M1780.2 258.5h0M1781.5 256.3h0M1782.8 254.0h0M1784.1 251.6h0M1785.4 249.1h0M1786.7 246.6h0M1787.9 244.1h0M1789.2 241.5h0M1790.5 238.9h0M1791.8 236.2h0M1794.3 230.8h0M1795.6 228.0h0M1796.9 225.2h0M1798.2 222.5h0M1799.5 219.7h0M1800.7 216.9h0M1802.0 214.3h0M1803.3 211.6h0M1804.6 209.1h0M1805.9 206.7h0M1807.2 204.5h0M1809.7 200.5h0M1811.0 198.8h0M1812.3 197.3h0M1813.6 196.1h0M1814.8 195.2h0M1816.1 194.6h0M1817.4 194.3h0M1818.7 194.3h0M1820.0 194.7h0M1821.2 195.3h0M1822.5 196.3h0M1825.1 198.8h0M1826.4 200.4h0M1827.7 202.2h0M1828.9 204.1h0M1830.2 206.1h0M1831.5 208.2h0M1832.8 210.5h0M1834.1 212.7h0M1835.3 215.0h0M1836.6 217.3h0M1837.9 219.6h0M1840.5 224.0h0M1841.7 226.1h0M1843.0 228.1h0M1844.3 230.0h0M1845.6 231.9h0M1846.9 233.7h0M1848.2 235.5h0M1849.4 237.3h0M1850.7 239.2h0M1852.0 241.1h0M1853.3 243.0h0M1855.8 247.1h0M1857.1 249.3h0M1858.4 251.6h0M1859.7 254.1h0M1861.0 256.7h0M1862.2 259.5h0M1863.5 262.5h0M1864.8 265.7h0M1866.1 269.0h0M1867.4 272.5h0M1868.7 276.1h0M1871.2 283.4h0M1872.5 287.2h0M1873.8 291.0h0M1875.1 294.7h0M1876.3 298.5h0M1877.6 302.1h0M1878.9 305.7h0M1880.2 309.3h0M1881.5 312.7h0M1882.7 316.0h0M1884.0 319.2h0M1886.6 325.2h0M1887.9 327.9h0M1889.2 330.5h0M1890.4 333.0h0M1891.7 335.3h0M1893.0 337.3h0M1894.3 339.2h0M1895.6 340.9h0M1896.8 342.4h0M1898.1 343.6h0M1899.4 344.6h0M1902.0 345.8h0M1903.2 346.1h0M1904.5 346.0h0M1905.8 345.7h0M1907.1 345.2h0M1908.4 344.4h0M1909.6 343.4h0M1910.9 342.2h0M1912.2 340.9h0M1913.5 339.3h0M1914.8 337.6h0M1917.3 333.8h0M1918.6 331.7h0M1919.9 329.5h0M1921.2 327.2h0M1922.5 324.9h0M1923.7 322.4h0M1925.0 320.0h0M1926.3 317.4h0M1927.6 314.9h0M1928.9 312.3h0M1930.1 309.8h0M1932.7 304.8h0M1934.0 302.3h0M1935.3 299.9h0M1936.6 297.6h0M1937.8 295.3h0M1939.1 293.1h0M1940.4 290.9h0M1941.7 288.8h0M1943.0 286.8h0M1944.2 284.9h0M1945.5 283.0h0M1948.1 279.6h0M1949.4 278.1h0M1950.6 276.6h0M1951.9 275.2h0M1953.2 274.0h0M1954.5 272.9h0M1955.8 271.8h0M1957.1 270.9h0M1958.3 270.2h0M1959.6 269.5h0M1960.9 269.0h0M1963.5 268.5h0M1964.7 268.4h0M1966.0 268.5h0M1967.3 268.7h0M1968.6 269.1h0M1969.9 269.5h0M1971.1 270.1h0M1972.4 270.9h0M1973.7 271.7h0M1975.0 272.6h0M1976.3 273.5h0M1978.8 275.7h0M1707.1 276.9h0M1708.4 278.1h0M1709.7 279.3h0M1711.0 280.6h0M1712.2 281.9h0M1713.5 283.2h0M1714.8 284.6h0M1716.1 285.9h0M1717.4 287.2h0M1718.6 288.4h0M1721.2 290.9h0M1722.5 292.0h0M1723.8 293.1h0M1725.1 294.1h0M1726.3 295.1h0M1727.6 296.0h0M1728.9 296.7h0M1730.2 297.4h0M1731.5 298.0h0M1732.7 298.4h0M1734.0 298.7h0M1736.6 298.9h0M1737.9 298.8h0M1739.1 298.5h0M1740.4 298.0h0M1741.7 297.4h0M1743.0 296.6h0M1744.3 295.6h0M1745.6 294.5h0M1746.8 293.2h0M1748.1 291.9h0M1749.4 290.4h0M1752.0 287.1h0M1753.2 285.3h0M1754.5 283.5h0M1755.8 281.6h0M1757.1 279.6h0M1758.4 277.6h0M1759.6 275.6h0M1760.9 273.6h0M1762.2 271.5h0M1763.5 269.4h0M1764.8 267.4h0M1767.3 263.4h0M1768.6 261.4h0M1769.9 259.4h0M1771.2 257.4h0M1772.5 255.5h0M1773.7 253.5h0M1775.0 251.5h0M1776.3 249.5h0M1777.6 247.5h0M1778.9 245.5h0M1780.1 243.4h0M1782.7 239.2h0M1784.0 237.0h0M1785.3 234.8h0M1786.6 232.5h0M1787.8 230.1h0M1789.1 227.8h0M1790.4 225.5h0M1791.7 223.2h0M1793.0 221.0h0M1794.2 218.9h0M1795.5 216.9h0M1798.1 213.4h0M1799.4 211.9h0M1800.6 210.7h0M1801.9 209.7h0M1803.2 209.0h0M1804.5 208.6h0M1805.8 208.5h0M1807.1 208.8h0M1808.3 209.4h0M1809.6 210.2h0M1810.9 211.4h0M1813.5 214.3h0M1814.7 216.1h0M1816.0 218.0h0M1817.3 220.1h0M1818.6 222.2h0M1819.9 224.4h0M1821.1 226.7h0M1822.4 229.0h0M1823.7 231.2h0M1825.0 233.4h0M1826.3 235.6h0M1828.8 239.7h0M1830.1 241.7h0M1831.4 243.6h0M1832.7 245.4h0M1834.0 247.2h0M1835.2 248.9h0M1836.5 250.7h0M1837.8 252.3h0M1839.1 254.0h0M1840.4 255.6h0M1841.6 257.2h0M1844.2 260.4h0M1845.5 262.0h0M1846.8 263.6h0M1848.1 265.3h0M1849.3 266.9h0M1850.6 268.6h0M1851.9 270.4h0M1853.2 272.2h0M1854.5 274.0h0M1855.7 275.9h0M1857.0 277.9h0M1859.6 282.2h0M1860.9 284.5h0M1862.1 286.9h0M1863.4 289.4h0M1864.7 292.1h0M1866.0 294.9h0M1867.3 297.8h0M1868.6 300.9h0M1869.8 304.2h0M1871.1 307.5h0M1872.4 310.9h0M1875.0 317.7h0M1876.2 321.0h0M1877.5 324.3h0M1878.8 327.5h0M1880.1 330.5h0M1881.4 333.3h0M1882.6 335.9h0M1883.9 338.3h0M1885.2 340.4h0M1886.5 342.1h0M1887.8 343.5h0M1890.3 345.2h0M1891.6 345.5h0M1892.9 345.5h0M1894.2 345.1h0M1895.5 344.5h0M1896.7 343.6h0M1898.0 342.5h0M1899.3 341.1h0M1900.6 339.5h0M1901.9 337.7h0M1903.1 335.8h0M1905.7 331.4h0M1907.0 329.0h0M1908.3 326.6h0M1909.6 324.0h0M1910.8 321.4h0M1912.1 318.7h0M1913.4 316.0h0M1914.7 313.3h0M1916.0 310.6h0M1917.2 307.9h0M1918.5 305.3h0M1921.1 300.2h0M1922.4 297.8h0M1923.6 295.4h0M1924.9 293.1h0M1926.2 290.9h0M1927.5 288.7h0M1928.8 286.6h0M1930.1 284.6h0M1931.3 282.7h0M1932.6 280.9h0M1933.9 279.1h0M1936.5 275.9h0M1937.7 274.4h0M1939.0 273.1h0M1940.3 271.8h0M1941.6 270.7h0M1942.9 269.6h0M1944.1 268.7h0M1945.4 267.8h0M1946.7 267.1h0M1948.0 266.6h0M1949.3 266.1h0M1951.8 265.6h0M1953.1 265.5h0M1954.4 265.6h0M1955.7 265.7h0M1957.0 266.0h0M1958.2 266.5h0M1959.5 267.0h0M1960.8 267.6h0M1962.1 268.3h0M1963.4 269.0h0M1964.6 269.9h0M1967.2 271.7h0M1968.5 272.7h0M1969.8 273.7h0M1971.1 274.7h0M1972.3 275.8h0M1973.6 276.9h0M1974.9 278.0h0M1976.2 279.0h0M1977.5 280.1h0M1978.7 281.1h0M1707.0 282.1h0M1709.6 284.0h0M1710.9 284.9h0M1712.1 285.7h0M1713.4 286.4h0M1714.7 287.1h0M1716.0 287.6h0M1717.3 288.1h0M1718.6 288.5h0M1719.8 288.7h0M1721.1 288.8h0M1722.4 288.8h0M1725.0 288.4h0M1726.2 288.0h0M1727.5 287.4h0M1728.8 286.7h0M1730.1 285.9h0M1731.4 284.9h0M1732.6 283.8h0M1733.9 282.6h0M1735.2 281.3h0M1736.5 279.9h0M1737.8 278.4h0M1740.3 275.2h0M1741.6 273.5h0M1742.9 271.7h0M1744.2 269.9h0M1745.5 268.0h0M1746.7 266.1h0M1748.0 264.2h0M1749.3 262.2h0M1750.6 260.3h0M1751.9 258.3h0M1753.1 256.3h0M1755.7 252.4h0M1757.0 250.4h0M1758.3 248.5h0M1759.6 246.6h0M1760.8 244.8h0M1762.1 243.0h0M1763.4 241.3h0M1764.7 239.6h0M1766.0 238.0h0M1767.2 236.5h0M1768.5 235.1h0M1771.1 232.5h0M1772.4 231.4h0M1773.6 230.4h0M1774.9 229.5h0" stroke="#000" stroke-width="2.15" stroke-linecap="round" fill="none"/>
</svg>
</body></html>
